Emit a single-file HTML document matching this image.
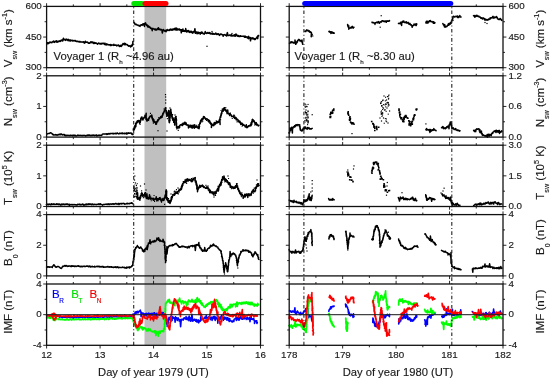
<!DOCTYPE html>
<html><head><meta charset="utf-8"><style>
html,body{margin:0;padding:0;background:#fff;}

svg{display:block;filter:blur(0.3px);}
</style></head><body>
<svg width="550" height="379" viewBox="0 0 550 379">
<rect width="550" height="379" fill="#fff"/>
<rect x="144.5" y="6.4" width="21.7" height="338.9" fill="#c0c0c0"/>
<polyline points="46.8,43.2 47.2,42.7 47.4,43.0 47.8,43.9 48.3,42.9 48.6,43.4 48.9,43.1 49.4,42.6 49.6,42.1 50.2,41.9 50.6,42.5 50.9,42.5 51.5,42.4 51.8,42.7 52.0,42.1 52.4,42.0 53.3,41.5 53.7,41.1 53.9,42.2 54.5,42.2 54.8,42.4 55.1,41.5 55.6,41.3 56.2,41.3 56.3,40.8 56.6,41.1 56.9,42.3 57.6,41.3 57.8,42.0 58.4,41.7 58.8,41.0 59.2,41.3 59.8,40.8 59.8,41.6 60.7,41.3 61.0,40.3 61.6,40.2 61.7,40.4 62.1,40.1 62.4,40.1 62.7,41.0 63.4,38.3 63.8,39.8 64.2,39.6 64.7,39.8 64.9,39.3 65.5,40.4 66.2,39.2 66.1,40.1 66.7,39.3 66.9,39.5 67.4,39.4 67.8,40.5 68.3,39.4 68.8,40.2 69.0,40.8 69.5,40.2 70.0,39.9 70.3,41.1 70.6,40.4 71.0,40.2 71.4,40.5 71.7,40.5 72.3,41.0 72.4,40.3 73.3,40.9 73.5,40.6 74.1,40.7 74.5,40.6 74.9,41.0 75.2,41.2 75.5,40.5 76.1,41.1 76.3,41.4 77.0,41.5 77.2,41.3 77.8,41.3 78.0,41.7 78.4,41.7 79.1,41.3 79.2,42.0 79.8,41.7 80.1,41.5 80.3,42.1 81.1,42.0 81.2,42.1 81.7,42.1 82.3,42.2 82.5,42.1 83.2,41.8 83.5,41.7 83.8,42.3 84.3,43.2 84.4,43.1 85.3,41.2 85.5,42.5 85.7,42.2 86.2,42.0 86.9,42.2 87.2,42.4 87.5,42.1 88.0,42.5 88.3,43.0 88.7,43.3 89.1,43.0 89.7,43.3 90.2,42.7 90.3,42.3 91.1,41.7 91.2,42.4 92.0,42.7 92.2,42.0 92.6,42.6 92.9,42.0 93.6,43.3 93.6,43.6 94.2,43.0 94.4,42.4 95.0,43.4 95.6,43.0 95.9,42.7 96.2,43.2 96.7,43.4 97.1,43.4 97.4,44.2 98.0,43.8 98.4,43.2 98.9,43.0 99.0,43.1 99.6,43.6 100.0,44.0 100.2,43.5 100.8,43.9 101.3,43.3 101.4,43.8 101.8,44.0 102.5,43.4 102.8,43.2 103.3,43.3 103.7,43.6 104.0,43.3 104.5,44.5 105.0,43.3 105.2,44.5 105.5,44.8 106.3,44.2 106.7,44.9 106.7,43.8 107.1,44.5 107.6,44.3 108.3,44.9 108.6,44.8 109.0,44.6 109.5,44.8 109.8,44.8 110.3,45.5 110.9,45.4 110.8,44.4 111.4,45.4 111.9,44.9 112.1,45.0 112.7,44.9 112.8,45.0 113.6,45.4 113.9,44.3 114.5,45.2 115.0,45.2 115.1,45.2 115.7,45.0 116.2,45.0 116.5,45.8 116.8,45.9 117.2,45.5 117.5,45.2 118.0,45.3 118.5,45.0 118.9,46.0 119.5,46.5 119.7,46.4 120.3,45.4 120.7,46.3 121.2,46.4 121.5,46.2 121.3,45.5 122.1,45.4 122.3,44.4 122.4,44.5 122.7,44.5 123.0,43.6 123.3,43.9 123.8,43.5 124.3,44.8 124.4,43.4 124.8,43.3 125.0,44.5 125.5,43.7 125.8,44.8 125.9,44.5 126.7,44.5 127.3,45.0 127.1,44.6 127.7,45.5 128.3,45.5 128.8,45.8 128.7,46.3 129.7,45.8 129.9,45.8 130.1,46.1 130.7,47.0 131.1,46.0 131.3,45.3 131.9,46.1 132.4,45.0 132.6,45.2 132.4,45.1 132.5,44.1 132.9,43.8 133.0,44.2 132.8,43.2 132.9,43.0 132.8,42.3 132.9,41.5 133.2,41.4" fill="none" stroke="#000" stroke-width="1.5" stroke-linejoin="round" stroke-linecap="round"/>
<polyline points="134.1,22.4 133.8,22.6 134.2,22.7 134.4,23.2 134.8,23.3 135.1,24.5 135.6,24.5 135.8,24.4 136.3,24.3 136.8,24.9 137.0,25.0 137.6,24.9 137.9,25.4 138.6,25.4 138.9,25.3 139.0,25.8 139.6,26.2 140.0,26.4 140.3,25.6 140.3,25.3 140.9,24.9 141.5,25.1 141.8,24.8 142.1,25.4 142.4,25.0 142.7,23.9 143.1,24.3 143.6,23.8 144.0,25.4 144.4,23.6 144.5,26.5 144.7,23.7 145.6,22.9 145.8,24.4 146.1,24.1 146.1,24.6 146.8,25.5 147.1,25.6 147.0,24.8 147.5,26.2 147.6,25.3 148.0,27.2 148.5,26.6 148.6,26.1 149.2,26.7 149.4,26.9 149.6,27.3 150.0,27.1 150.4,28.3 150.9,28.4 151.3,28.3 151.7,28.3 152.2,30.7 152.5,28.5 152.9,28.4 153.3,28.7 153.9,28.9 154.2,29.4 154.5,29.0 155.1,29.9 155.4,28.9 155.8,30.0 156.4,29.3 156.7,29.9 156.9,29.8 157.7,28.4 158.2,29.2 158.5,27.8 158.7,29.6 159.1,29.6 159.8,29.1 160.2,29.9 160.3,29.9 161.0,29.3 161.1,29.9 161.9,30.2 161.9,29.8 162.3,33.0 163.0,30.3 163.1,30.4 163.4,29.4 164.1,30.7 164.3,30.8 164.9,31.2 165.4,30.4 166.0,31.8 166.2,30.3 166.6,30.7 167.2,29.5 167.3,30.4 168.0,30.3 168.4,30.3 169.1,30.5 169.2,29.7 169.4,29.5 169.9,30.3 170.4,29.7 170.6,29.1 171.2,29.3 171.7,30.2 172.1,30.3 172.5,29.1 172.9,29.8 173.3,29.3 173.7,29.6 173.7,29.3 174.2,28.6 175.0,28.4 175.1,30.0 175.9,28.0 176.3,29.1 176.5,30.0 176.8,28.3 177.1,28.9 177.6,30.0 177.9,29.5 178.4,29.5 179.1,28.8 179.3,29.5 179.4,30.1 180.1,29.8 180.6,29.7 180.8,29.5 181.3,32.8 181.7,29.8 182.3,31.3 182.5,30.4 182.9,29.0 183.3,31.2 183.7,30.6 183.8,31.2 184.6,31.1 185.0,30.4 184.9,31.5 185.6,30.9 185.7,28.6 186.3,31.5 186.7,32.0 187.3,30.7 187.8,31.6 188.0,30.9 188.5,30.6 188.8,31.8 189.2,31.1 189.3,32.3 190.0,32.4 190.4,31.4 190.8,32.0 191.4,31.4 191.6,32.6 192.0,32.2 192.4,32.1 192.8,33.1 193.4,31.6 194.2,31.9 194.3,32.0 194.5,31.2 194.9,28.7 195.4,33.3 195.8,32.7 196.3,32.1 196.9,32.1 197.0,33.7 197.4,32.2 198.2,32.7 198.4,33.6 198.8,32.3 199.2,32.9 199.6,32.7 200.0,32.8 200.2,34.2 201.0,32.7 201.3,31.9 201.7,33.2 201.9,32.9 202.5,32.3 202.8,33.0 203.2,33.8 203.7,33.8 204.3,34.2 204.6,32.9 205.1,33.1 205.2,31.5 205.7,32.9 206.1,33.0 206.6,32.9 206.7,33.5 207.7,32.4 208.0,32.5 208.1,33.2 208.7,33.3 209.0,33.0 209.9,33.5 209.8,32.4 210.2,33.7 211.1,33.9 211.4,33.9 211.4,33.5 212.2,33.3 212.4,33.0 212.8,34.2 213.3,34.2 213.6,33.6 214.3,34.2 214.8,34.0 214.8,33.9 215.6,33.7 215.8,33.0 216.1,33.7 216.6,34.4 217.0,34.4 217.5,33.8 217.8,34.3 218.4,33.7 218.6,33.7 219.4,35.4 219.7,34.8 219.8,34.5 220.5,34.5 220.6,34.1 221.2,34.0 222.0,34.7 222.0,34.8 222.2,34.6 222.8,34.9 223.2,36.2 223.8,34.8 224.1,34.7 224.8,34.6 225.0,34.5 225.4,35.2 225.9,35.3 226.5,36.0 226.7,35.8 227.1,33.4 227.4,32.6 227.9,35.4 228.3,35.5 228.6,35.4 229.1,35.4 229.5,34.9 229.9,35.0 230.3,35.6 230.5,35.8 231.3,34.6 231.5,35.9 231.7,36.0 232.5,36.0 232.8,35.3 233.3,35.3 233.6,35.8 234.0,35.9 234.4,34.8 235.1,36.3 235.7,35.3 235.7,34.2 236.1,34.1 236.5,35.0 237.0,35.9 237.6,35.2 237.9,36.3 238.4,35.6 238.8,36.5 239.2,36.1 239.7,36.6 240.1,36.5 240.5,35.7 240.9,36.3 241.1,36.1 241.8,36.3 242.0,36.2 242.8,36.3 243.0,36.3 243.3,36.3 243.9,36.1 244.3,36.4 244.4,37.2 245.0,36.6 245.2,36.1 245.6,37.2 246.3,36.7 246.7,37.1 247.4,37.9 247.5,36.9 247.9,37.4 248.6,36.3 248.5,38.7 249.0,37.7 249.6,37.5 250.1,38.0 250.5,40.8 250.9,37.6 251.1,37.9 251.5,38.7 252.0,38.5 252.7,37.9 252.6,38.8 253.2,38.1 253.6,39.0 253.9,38.8 254.3,39.5 254.6,38.6 255.0,39.5 255.5,39.3 255.5,38.8 255.8,38.4 256.4,38.1 256.7,37.6 256.9,36.9 257.7,38.6 258.0,35.6 257.8,36.0 258.1,35.8 258.6,35.9 258.6,35.6" fill="none" stroke="#000" stroke-width="1.5" stroke-linejoin="round" stroke-linecap="round"/>
<rect x="206.4" y="45.7" width="1.2" height="1.2" fill="#000"/>
<rect x="187.4" y="29.9" width="1.2" height="1.2" fill="#000"/>
<rect x="211.4" y="30.9" width="1.2" height="1.2" fill="#000"/>
<rect x="231.4" y="32.9" width="1.2" height="1.2" fill="#000"/>
<polyline points="46.8,133.6 47.0,133.9 47.5,133.9 48.1,133.6 48.8,133.6 49.2,133.6 49.3,133.4 49.7,133.3 50.2,132.8 50.5,132.8 50.9,132.9 51.3,133.0 51.9,133.5 52.1,134.0 52.3,133.9 52.5,134.0 53.0,134.8 53.3,134.6 53.8,135.1 54.2,135.0 54.5,135.0 55.2,134.5 55.4,134.8 55.9,135.1 56.0,135.0 56.6,134.8 57.1,135.2 57.3,135.0 57.9,134.8 58.1,134.5 58.8,134.9 59.0,134.7 59.4,134.3 59.8,134.2 60.3,134.5 60.4,134.6 61.2,133.9 61.3,134.6 61.6,134.5 62.2,134.6 62.5,134.9 63.1,134.5 63.6,134.8 63.7,134.8 64.4,134.5 64.7,135.6 64.7,135.3 65.3,135.1 65.9,135.9 66.3,135.3 66.7,135.5 66.9,135.2 67.5,135.6 68.2,135.3 68.1,135.5 68.7,135.6 69.3,135.4 69.4,135.7 69.9,135.6 70.3,135.3 70.6,135.3 70.8,135.6 71.3,135.3 71.7,135.6 72.4,135.9 72.6,135.2 73.0,135.3 73.6,135.6 74.1,135.9 74.1,135.1 74.6,135.4 75.1,135.4 75.3,135.3 75.9,136.0 76.1,135.9 76.9,135.7 76.9,135.7 77.3,135.5 77.8,135.1 78.2,135.5 78.7,135.4 79.1,135.2 79.5,135.6 79.7,135.5 80.1,135.3 80.3,135.6 80.8,135.4 81.3,135.6 81.9,135.4 82.1,135.8 82.3,135.4 82.9,135.4 83.4,135.6 83.6,135.4 84.0,135.3 84.4,135.4 85.2,135.5 85.6,136.0 85.9,135.7 86.2,135.8 86.3,135.5 87.2,135.3 87.4,135.0 87.7,135.4 88.2,135.5 88.6,135.1 89.2,135.0 89.5,135.4 90.1,135.2 90.3,135.7 90.7,135.5 91.0,135.2 91.5,135.3 92.0,135.8 92.3,135.5 92.5,135.3 92.8,135.0 93.4,135.1 93.9,135.4 94.3,135.7 94.5,135.4 95.1,135.3 95.2,135.2 96.0,135.3 96.3,135.7 96.6,134.9 97.2,135.6 97.3,135.9 97.6,135.5 98.1,135.4 98.6,135.6 99.0,135.0 99.6,135.5 99.7,135.2 100.4,135.3 100.6,135.3 100.9,135.5 101.2,135.4 101.7,135.4 102.1,134.5 102.5,134.2 102.8,134.0 103.4,134.1 103.8,134.0 104.2,133.9 104.4,134.0 105.0,134.1 105.4,133.9 105.6,134.1 106.3,133.8 106.7,133.9 106.8,134.5 107.3,134.0 107.9,134.2 108.4,133.5 108.6,133.8 109.0,133.8 109.3,133.5 109.6,134.0 110.3,133.5 110.6,133.4 110.9,133.7 111.3,133.5 111.8,133.5 112.2,133.6 112.7,133.7 113.0,133.3 113.4,133.9 113.8,133.5 114.3,133.4 114.6,133.5 115.2,133.7 115.3,133.2 115.6,133.4 116.5,133.7 116.8,133.7 116.9,133.0 117.5,133.1 117.8,133.4 118.3,133.6 118.8,133.9 118.8,133.7 119.4,133.7 119.8,133.0 120.2,133.4 120.4,133.6 121.2,133.6 121.6,133.1 121.7,133.3 122.2,133.7 122.5,133.0 122.9,133.6 123.4,133.4 123.7,133.5 124.3,133.3 124.2,133.8 125.1,133.6 125.6,133.3 125.9,133.2 126.4,134.0 126.6,132.9 127.1,133.4 127.5,133.8 127.5,133.8 128.1,133.0 128.8,133.3 128.9,132.8 129.2,133.3 129.7,133.2 130.5,133.1 130.6,133.1 131.1,133.0 131.5,133.8 131.9,133.4 132.1,134.4 132.5,134.2 133.0,134.5" fill="none" stroke="#000" stroke-width="1.5" stroke-linejoin="round" stroke-linecap="round"/>
<polyline points="133.5,130.7 133.3,128.9 133.5,129.6 133.7,130.0 134.0,129.0 134.3,129.5 134.2,129.6 134.3,128.2 134.8,128.4 134.6,127.4 134.8,127.8 135.0,127.2 135.0,125.9 135.5,125.1 135.6,126.9 135.8,125.1 135.6,123.6 136.1,123.8 135.9,123.3 136.5,122.0 136.5,123.6 136.7,122.9 136.9,122.4 137.4,120.8 138.0,121.9 138.1,121.4 138.5,120.5 138.9,121.5 139.3,120.9 139.3,122.3 139.8,122.1 139.6,123.2 140.0,122.9 140.1,122.5 139.9,122.4 140.1,122.2 140.2,121.2 140.5,121.3 140.6,120.3 140.6,119.3 141.1,120.0 141.0,119.4 140.8,119.8 141.1,118.4 141.3,117.3 141.3,117.9 141.7,117.5 141.5,117.6 142.0,117.0 141.9,118.3 142.2,118.5 142.5,118.3 142.3,118.2 142.8,119.7 143.4,118.3 143.6,117.9 144.2,117.5 144.2,117.3 144.5,117.0 144.9,117.3 145.0,115.3 145.3,116.0 145.6,115.6 145.5,116.1 145.8,117.3 146.2,113.2 146.0,119.4 146.0,117.5 146.0,119.0 146.4,118.9 146.6,118.7 146.6,119.7 146.9,119.9 146.8,120.9 147.1,119.8 147.2,121.0 147.3,119.8 147.8,119.8 148.1,120.0 148.0,119.5 148.4,118.6 148.5,120.3 148.8,118.6 149.1,118.3 149.5,117.1 149.4,117.5 150.2,116.6 150.2,115.9 150.8,116.4 150.9,116.2 151.3,116.3 151.6,117.0 151.7,115.0 151.9,115.6 152.0,117.0 152.0,116.7 152.0,117.5 152.2,117.2 152.4,118.4 152.4,118.6 152.6,119.8 152.9,119.4 153.0,118.9 153.2,120.2 153.1,120.8 153.5,120.5 153.4,122.0 153.9,121.2 154.2,122.1 154.6,121.4 155.1,122.5 155.4,122.8 155.7,123.8 155.9,123.7 155.9,124.2 155.7,124.1 156.5,124.0 156.5,122.2 156.6,121.8 157.0,122.0 157.3,121.5 157.2,121.3 157.5,121.4 157.5,120.3 157.7,121.6 157.9,120.1 158.3,119.6 158.6,119.9 159.0,119.0 159.2,118.2 159.6,118.6 159.7,118.4 160.0,118.5 160.4,117.8 160.3,117.8 160.8,116.4 161.2,117.7 161.3,116.7 161.7,116.3 162.0,117.3 162.2,115.9 162.0,116.5 162.6,115.4 162.6,114.1 162.9,114.2 163.0,114.3 163.1,113.1 163.3,113.7 164.0,111.9 163.8,112.3 164.1,111.5 164.1,111.2 164.3,110.7 164.5,110.6 164.7,111.0 164.7,110.8 165.0,109.6 165.0,109.1 165.3,108.0 165.5,107.8 165.3,108.0 165.6,108.3 165.7,109.9 165.6,109.7 165.8,109.9 166.0,110.7 166.3,110.8 166.0,110.6 166.3,110.7 165.9,110.7 166.2,110.7 166.4,111.6 166.2,112.4 166.7,113.0 166.3,112.7 166.7,113.8 166.6,114.1 166.6,114.5 167.1,114.8 166.7,116.3 166.9,116.4 167.3,115.8 167.3,115.3 167.3,115.0 167.6,114.9 168.0,113.5 167.8,113.6 167.9,112.8 168.3,113.4 168.4,111.5 168.6,110.6 168.7,113.7 168.6,113.6 168.7,114.2 168.8,112.9 168.7,114.6 168.7,114.6 169.0,116.8 168.5,114.6 169.1,116.6 168.9,115.9 169.1,115.1 169.2,116.5 169.1,117.1 169.2,117.1 169.1,118.2 169.3,119.6 169.3,115.1 169.0,118.9 169.2,120.2 169.2,120.4 169.2,120.5 169.5,120.6 169.3,120.5 169.4,122.7 169.5,122.0 169.3,120.4 169.0,121.2 169.4,119.2 169.6,119.7 169.9,120.4 169.7,119.1 169.7,118.1 170.0,118.2 169.9,118.4 169.9,118.1 169.7,118.5 170.0,116.8 169.9,116.3 170.2,115.9 169.8,115.7 170.2,115.6 170.4,115.5 170.4,115.8 170.2,114.4 170.2,115.2 170.3,112.9 170.2,112.1 170.2,113.9 170.2,112.4 170.2,111.5 170.1,110.9 170.5,111.1 170.5,110.5 170.6,110.4 170.4,110.9 170.8,109.3 170.6,111.1 170.5,110.1 170.9,110.9 170.9,112.4 170.9,113.1 171.1,111.9 171.3,113.3 171.5,114.3 171.4,114.5 171.7,114.6 171.6,116.1 171.7,114.8 171.4,115.4 172.0,114.7 172.0,116.8 172.0,116.5 172.2,118.4 172.3,117.5 172.4,117.7 172.4,118.2 172.9,117.8 172.6,119.9 172.9,119.8 173.1,120.0 173.4,120.6 173.6,119.1 173.7,121.8 174.0,121.7 174.3,121.8 174.0,122.3 174.3,120.0 174.5,121.2 174.7,125.1 174.5,120.7 175.0,119.0 175.2,119.1 175.0,117.7 175.3,119.2 175.5,117.9 175.6,117.6 175.9,117.1 176.0,116.6 175.8,116.6 176.0,117.4 175.7,119.1 175.9,118.9 176.2,118.8 176.0,120.2 176.4,119.7 176.3,118.9 176.5,120.2 176.2,121.3 176.2,121.9 176.1,122.3 176.4,123.0 176.3,122.4 176.4,122.0 176.2,124.3 176.4,124.5 176.5,122.9 176.5,125.2 176.4,125.6 176.5,125.5 176.5,125.2 176.6,126.1 176.6,126.1 176.5,127.6 176.9,128.1 177.2,127.9 177.8,126.9 178.0,127.4 178.3,126.8 178.5,127.9 178.9,126.6 179.0,127.1 179.2,126.5 179.4,127.8 179.8,125.7 179.6,125.6 180.6,124.7 181.0,124.9 181.4,124.7 181.5,125.0 182.0,124.0 182.3,125.6 182.6,124.9 183.2,123.0 183.6,124.3 183.7,124.4 184.4,124.0 184.8,124.0 184.8,122.5 185.6,123.1 185.9,124.1 185.6,124.5 186.1,123.5 186.4,124.9 186.7,124.3 187.0,125.0 187.3,124.9 187.8,125.3 188.2,125.0 188.5,128.0 189.1,126.1 189.3,126.1 189.7,126.7 189.8,126.9 190.6,125.7 191.0,126.2 191.3,127.7 192.0,125.3 192.1,127.0 192.4,127.4 193.1,125.8 193.4,127.5 193.6,127.3 194.2,126.4 194.7,124.7 194.7,127.4 195.4,127.1 195.9,127.5 196.2,126.6 196.6,126.7 196.9,126.3 197.7,127.9 198.1,127.3 198.2,128.2 198.7,128.0 198.6,126.9 199.0,128.7 199.0,124.6 199.2,126.6 199.3,127.5 199.1,125.5 199.4,124.9 199.6,124.5 199.5,124.6 199.8,123.3 199.9,123.5 200.0,122.7 200.4,121.7 200.2,122.2 200.2,123.3 200.7,120.2 201.1,121.4 200.9,121.6 201.0,120.5 201.6,120.5 201.7,118.9 202.0,119.1 202.2,118.6 202.2,119.9 202.8,119.3 203.0,118.2 203.4,118.2 203.5,116.6 203.9,117.5 204.0,117.6 204.3,116.7 205.0,118.4 205.2,118.1 205.6,119.3 206.0,118.6 206.5,119.0 206.9,118.8 207.1,118.8 207.5,119.7 207.9,119.5 208.1,121.1 208.3,119.7 208.8,121.9 208.6,120.8 209.1,122.0 209.6,120.6 209.7,121.1 210.0,121.6 210.1,122.5 210.5,122.7 210.7,124.1 211.1,123.2 211.6,123.8 211.4,127.4 211.7,125.3 212.1,125.2 212.3,125.3 212.5,125.0 213.0,125.4 213.2,124.2 213.6,125.3 213.8,125.7 214.4,122.6 214.7,123.5 215.0,124.6 215.3,123.2 215.9,122.5 216.0,123.2 216.1,123.3 216.6,122.0 216.9,122.3 217.1,122.0 217.7,122.9 217.8,121.4 218.1,121.5 218.8,122.1 219.0,121.6 219.4,119.7 219.8,119.2 219.7,120.1 219.8,119.3 220.1,124.4 219.8,119.1 220.1,117.8 220.1,117.4 220.5,116.8 220.2,116.8 220.4,117.2 220.8,116.4 220.7,116.2 221.0,115.0 221.4,114.2 221.1,115.1 221.2,115.2 221.3,113.4 221.5,113.8 221.7,111.8 221.7,112.8 221.8,112.3 221.7,111.9 222.4,111.4 222.5,110.0 222.7,110.1 223.0,111.3 223.3,109.8 223.3,108.8 223.5,109.5 223.6,110.2 224.1,109.0 224.2,107.7 224.6,108.0 224.5,109.0 224.8,109.9 224.9,109.7 225.2,109.4 225.4,109.5 225.8,111.0 226.1,110.9 226.2,111.1 226.4,110.3 227.0,112.0 227.1,113.7 227.3,112.3 227.7,110.1 228.0,113.3 228.3,113.5 228.6,113.5 228.9,113.5 229.1,113.5 229.7,115.5 230.2,114.6 230.2,113.6 230.5,114.6 230.9,114.6 231.4,115.5 231.7,116.2 232.2,116.3 232.5,116.4 232.9,116.7 233.4,116.1 233.5,116.9 234.0,115.1 234.0,117.5 234.4,117.8 234.7,118.4 235.0,118.5 235.5,117.3 236.0,117.9 236.3,119.9 236.6,119.5 236.8,119.6 237.4,119.8 237.6,119.4 237.9,119.6 238.0,120.1 238.7,120.8 238.9,121.8 239.3,122.4 239.4,121.6 239.9,121.2 240.2,122.5 240.4,122.1 240.5,123.1 240.8,124.4 241.3,123.1 241.6,123.2 241.8,123.9 242.1,124.2 242.5,124.4 242.6,125.2 242.9,125.3 243.1,124.6 243.9,124.6 244.1,125.1 244.4,125.8 245.4,125.9 245.3,126.9 245.9,126.2 246.3,124.8 246.4,126.1 247.0,127.7 247.5,127.4 247.7,126.7 248.1,126.5 248.5,126.5 249.0,126.4 249.3,125.4 249.7,125.7 250.0,125.4 250.3,125.1 250.8,125.9 250.8,124.0 251.3,123.7 251.2,124.7 251.7,124.5 251.6,123.0 251.9,123.1 252.0,122.8 251.8,123.1 252.2,121.0 251.8,121.3 252.1,121.0 252.2,121.0 252.5,120.3 252.5,120.9 252.5,119.3 253.1,119.8 253.2,120.5 253.4,120.3 253.5,120.8 253.8,121.4 253.8,121.7 254.4,121.1 254.2,121.7 254.4,121.8 254.8,122.9 254.7,122.9 254.9,123.2 255.5,124.5 255.9,123.1 256.1,122.6 256.6,125.0 257.1,124.7 257.4,124.4 257.8,125.3 258.4,125.4 258.3,125.8 258.9,125.3" fill="none" stroke="#000" stroke-width="1.5" stroke-linejoin="round" stroke-linecap="round"/>
<path d="M133.4 127.9h1.1v1.1h-1.1zM133.9 125.8h1.1v1.1h-1.1zM134.2 125.5h1.1v1.1h-1.1zM134.6 125.3h1.1v1.1h-1.1zM135.3 125.7h1.1v1.1h-1.1zM135.5 124.2h1.1v1.1h-1.1zM136.3 122.1h1.1v1.1h-1.1zM136.7 122.0h1.1v1.1h-1.1zM137.0 121.2h1.1v1.1h-1.1zM138.3 120.5h1.1v1.1h-1.1zM139.1 120.5h1.1v1.1h-1.1zM139.3 120.6h1.1v1.1h-1.1zM139.5 123.8h1.1v1.1h-1.1zM139.7 121.9h1.1v1.1h-1.1zM140.1 118.0h1.1v1.1h-1.1zM142.5 119.3h1.1v1.1h-1.1zM143.8 117.4h1.1v1.1h-1.1zM144.3 117.1h1.1v1.1h-1.1zM145.5 117.1h1.1v1.1h-1.1zM146.0 118.5h1.1v1.1h-1.1zM146.2 119.5h1.1v1.1h-1.1zM147.1 119.9h1.1v1.1h-1.1zM148.7 117.4h1.1v1.1h-1.1zM149.9 112.8h1.1v1.1h-1.1zM150.9 115.3h1.1v1.1h-1.1zM151.4 116.7h1.1v1.1h-1.1zM151.5 117.7h1.1v1.1h-1.1zM152.0 117.4h1.1v1.1h-1.1zM152.1 118.8h1.1v1.1h-1.1zM152.7 118.4h1.1v1.1h-1.1zM152.8 122.7h1.1v1.1h-1.1zM153.0 119.3h1.1v1.1h-1.1zM153.7 121.6h1.1v1.1h-1.1zM153.8 119.5h1.1v1.1h-1.1zM154.7 121.3h1.1v1.1h-1.1zM155.5 123.7h1.1v1.1h-1.1zM156.6 121.1h1.1v1.1h-1.1zM157.5 119.2h1.1v1.1h-1.1zM158.3 117.0h1.1v1.1h-1.1zM160.4 116.4h1.1v1.1h-1.1zM161.5 115.2h1.1v1.1h-1.1zM161.9 115.1h1.1v1.1h-1.1zM162.2 114.3h1.1v1.1h-1.1zM162.6 112.7h1.1v1.1h-1.1zM163.0 112.0h1.1v1.1h-1.1zM163.0 111.9h1.1v1.1h-1.1zM163.4 108.4h1.1v1.1h-1.1zM163.9 111.0h1.1v1.1h-1.1zM164.7 109.3h1.1v1.1h-1.1zM165.3 110.0h1.1v1.1h-1.1zM165.6 107.5h1.1v1.1h-1.1zM165.7 112.7h1.1v1.1h-1.1zM165.8 111.3h1.1v1.1h-1.1zM165.9 111.9h1.1v1.1h-1.1zM166.0 112.0h1.1v1.1h-1.1zM166.8 118.1h1.1v1.1h-1.1zM167.5 111.7h1.1v1.1h-1.1zM167.7 112.2h1.1v1.1h-1.1zM168.1 113.0h1.1v1.1h-1.1zM168.3 112.2h1.1v1.1h-1.1zM168.1 115.1h1.1v1.1h-1.1zM168.3 117.2h1.1v1.1h-1.1zM168.4 116.4h1.1v1.1h-1.1zM168.7 116.4h1.1v1.1h-1.1zM168.5 117.1h1.1v1.1h-1.1zM169.0 118.8h1.1v1.1h-1.1zM168.5 120.0h1.1v1.1h-1.1zM169.1 120.0h1.1v1.1h-1.1zM168.8 122.0h1.1v1.1h-1.1zM169.2 120.7h1.1v1.1h-1.1zM169.5 114.3h1.1v1.1h-1.1zM169.5 116.9h1.1v1.1h-1.1zM169.4 115.4h1.1v1.1h-1.1zM169.7 114.8h1.1v1.1h-1.1zM169.7 114.7h1.1v1.1h-1.1zM169.6 113.2h1.1v1.1h-1.1zM169.5 112.6h1.1v1.1h-1.1zM169.8 110.8h1.1v1.1h-1.1zM170.1 109.8h1.1v1.1h-1.1zM170.0 111.5h1.1v1.1h-1.1zM170.4 112.2h1.1v1.1h-1.1zM170.5 113.8h1.1v1.1h-1.1zM170.8 114.3h1.1v1.1h-1.1zM171.5 116.5h1.1v1.1h-1.1zM171.7 114.2h1.1v1.1h-1.1zM171.5 115.6h1.1v1.1h-1.1zM172.0 117.7h1.1v1.1h-1.1zM172.1 113.9h1.1v1.1h-1.1zM172.5 117.8h1.1v1.1h-1.1zM172.8 120.0h1.1v1.1h-1.1zM173.0 122.0h1.1v1.1h-1.1zM173.7 121.2h1.1v1.1h-1.1zM174.3 120.0h1.1v1.1h-1.1zM175.3 115.9h1.1v1.1h-1.1zM175.6 119.0h1.1v1.1h-1.1zM175.6 117.8h1.1v1.1h-1.1zM175.7 119.0h1.1v1.1h-1.1zM175.5 120.4h1.1v1.1h-1.1zM175.8 121.4h1.1v1.1h-1.1zM175.7 122.5h1.1v1.1h-1.1zM175.7 122.0h1.1v1.1h-1.1zM175.8 121.8h1.1v1.1h-1.1zM176.2 128.4h1.1v1.1h-1.1zM177.1 127.5h1.1v1.1h-1.1zM177.7 129.8h1.1v1.1h-1.1zM178.4 126.0h1.1v1.1h-1.1zM179.0 127.0h1.1v1.1h-1.1zM182.1 124.2h1.1v1.1h-1.1zM184.1 122.5h1.1v1.1h-1.1zM184.4 121.6h1.1v1.1h-1.1zM184.8 122.6h1.1v1.1h-1.1zM185.8 122.6h1.1v1.1h-1.1zM188.3 124.7h1.1v1.1h-1.1zM188.9 124.7h1.1v1.1h-1.1zM189.3 126.0h1.1v1.1h-1.1zM189.8 124.6h1.1v1.1h-1.1zM190.4 126.6h1.1v1.1h-1.1zM191.4 125.4h1.1v1.1h-1.1zM191.8 127.7h1.1v1.1h-1.1zM192.9 124.6h1.1v1.1h-1.1zM193.2 126.4h1.1v1.1h-1.1zM193.8 127.8h1.1v1.1h-1.1zM194.7 125.4h1.1v1.1h-1.1zM195.4 125.6h1.1v1.1h-1.1zM196.2 124.7h1.1v1.1h-1.1zM197.2 126.4h1.1v1.1h-1.1zM198.1 126.2h1.1v1.1h-1.1zM198.4 127.7h1.1v1.1h-1.1zM198.3 125.8h1.1v1.1h-1.1zM198.9 125.8h1.1v1.1h-1.1zM199.2 125.7h1.1v1.1h-1.1zM199.3 123.1h1.1v1.1h-1.1zM199.8 122.8h1.1v1.1h-1.1zM201.4 121.4h1.1v1.1h-1.1zM202.2 120.6h1.1v1.1h-1.1zM202.2 119.0h1.1v1.1h-1.1zM202.7 117.8h1.1v1.1h-1.1zM205.9 119.8h1.1v1.1h-1.1zM208.0 120.9h1.1v1.1h-1.1zM208.6 119.7h1.1v1.1h-1.1zM209.4 123.0h1.1v1.1h-1.1zM209.8 122.4h1.1v1.1h-1.1zM209.7 122.7h1.1v1.1h-1.1zM211.0 124.8h1.1v1.1h-1.1zM211.2 125.0h1.1v1.1h-1.1zM211.7 125.0h1.1v1.1h-1.1zM213.7 122.4h1.1v1.1h-1.1zM214.0 123.7h1.1v1.1h-1.1zM214.8 122.5h1.1v1.1h-1.1zM215.2 122.2h1.1v1.1h-1.1zM215.3 123.2h1.1v1.1h-1.1zM215.7 120.3h1.1v1.1h-1.1zM216.0 121.2h1.1v1.1h-1.1zM218.9 120.9h1.1v1.1h-1.1zM219.3 119.0h1.1v1.1h-1.1zM220.1 119.2h1.1v1.1h-1.1zM220.2 116.8h1.1v1.1h-1.1zM220.6 114.5h1.1v1.1h-1.1zM220.5 114.6h1.1v1.1h-1.1zM220.5 109.9h1.1v1.1h-1.1zM220.8 113.3h1.1v1.1h-1.1zM221.0 112.1h1.1v1.1h-1.1zM221.3 113.1h1.1v1.1h-1.1zM221.7 108.6h1.1v1.1h-1.1zM222.1 108.6h1.1v1.1h-1.1zM222.5 110.1h1.1v1.1h-1.1zM223.2 108.4h1.1v1.1h-1.1zM223.8 107.3h1.1v1.1h-1.1zM224.7 107.2h1.1v1.1h-1.1zM225.3 107.2h1.1v1.1h-1.1zM226.5 112.0h1.1v1.1h-1.1zM228.0 113.5h1.1v1.1h-1.1zM229.1 113.0h1.1v1.1h-1.1zM229.7 112.6h1.1v1.1h-1.1zM230.8 116.2h1.1v1.1h-1.1zM231.7 118.0h1.1v1.1h-1.1zM233.1 116.4h1.1v1.1h-1.1zM234.1 115.5h1.1v1.1h-1.1zM235.7 117.4h1.1v1.1h-1.1zM236.2 118.0h1.1v1.1h-1.1zM236.5 121.3h1.1v1.1h-1.1zM237.4 120.6h1.1v1.1h-1.1zM238.5 120.8h1.1v1.1h-1.1zM240.2 123.5h1.1v1.1h-1.1zM240.9 123.1h1.1v1.1h-1.1zM241.3 123.8h1.1v1.1h-1.1zM241.6 125.7h1.1v1.1h-1.1zM241.8 122.8h1.1v1.1h-1.1zM244.7 125.9h1.1v1.1h-1.1zM245.8 126.8h1.1v1.1h-1.1zM247.8 125.1h1.1v1.1h-1.1zM250.4 124.8h1.1v1.1h-1.1zM250.5 122.1h1.1v1.1h-1.1zM251.4 121.6h1.1v1.1h-1.1zM251.4 120.8h1.1v1.1h-1.1zM251.7 121.0h1.1v1.1h-1.1zM252.1 120.4h1.1v1.1h-1.1zM251.7 119.1h1.1v1.1h-1.1zM254.1 124.4h1.1v1.1h-1.1zM255.5 122.0h1.1v1.1h-1.1zM255.9 122.8h1.1v1.1h-1.1zM258.0 125.2h1.1v1.1h-1.1z" fill="#000"/>
<rect x="164.9" y="94.0" width="1.2" height="1.2" fill="#000"/>
<rect x="165.0" y="96.4" width="1.2" height="1.2" fill="#000"/>
<rect x="165.1" y="99.4" width="1.2" height="1.2" fill="#000"/>
<rect x="165.0" y="102.4" width="1.2" height="1.2" fill="#000"/>
<rect x="157.4" y="130.1" width="1.2" height="1.2" fill="#000"/>
<rect x="166.4" y="130.4" width="1.2" height="1.2" fill="#000"/>
<rect x="169.4" y="107.4" width="1.2" height="1.2" fill="#000"/>
<rect x="170.4" y="112.4" width="1.2" height="1.2" fill="#000"/>
<rect x="172.4" y="118.4" width="1.2" height="1.2" fill="#000"/>
<rect x="174.4" y="114.4" width="1.2" height="1.2" fill="#000"/>
<polyline points="46.3,204.6 47.1,204.3 47.2,204.1 48.0,204.5 48.4,204.8 48.5,204.3 49.0,204.1 49.6,204.3 49.9,204.0 50.3,204.8 50.5,204.5 51.1,204.7 51.5,203.7 51.8,204.1 52.1,204.5 52.5,204.3 53.0,204.2 53.4,203.9 53.9,204.5 54.3,204.1 54.7,204.2 55.0,204.6 55.6,204.3 56.0,204.1 56.4,203.8 56.7,204.5 56.9,203.9 57.6,203.9 58.1,204.4 58.3,204.2 59.0,204.1 59.2,204.6 59.8,204.0 60.0,204.5 60.4,204.7 60.9,205.1 61.3,204.4 61.6,204.7 61.7,204.1 62.2,204.1 62.8,204.6 63.5,204.0 63.5,204.0 64.3,204.4 64.3,204.7 64.8,204.2 65.3,204.4 65.9,204.5 65.9,203.9 66.1,204.6 67.0,203.9 67.5,204.4 67.5,204.2 68.4,204.8 68.6,204.6 68.9,204.3 69.5,205.3 69.8,204.3 69.9,204.4 70.7,204.8 71.1,204.6 71.5,204.8 71.8,204.5 71.8,204.4 72.7,204.9 73.0,204.5 73.4,204.8 73.8,204.5 73.9,204.8 74.3,204.8 74.7,204.5 75.3,204.7 75.7,204.9 76.3,204.8 76.4,205.1 77.0,205.1 77.7,204.4 77.7,204.2 78.3,204.4 78.9,204.3 79.2,204.2 79.7,204.6 79.9,204.4 80.3,204.8 80.8,204.5 80.9,204.9 81.3,204.8 81.8,204.6 82.4,204.0 83.1,204.7 83.3,204.3 83.7,204.6 83.9,205.3 84.0,205.1 84.9,204.8 85.0,204.6 85.5,204.2 86.2,204.9 86.6,204.7 86.7,204.0 87.1,204.1 87.6,204.4 88.0,204.7 88.2,204.3 88.8,203.7 89.2,204.2 89.4,204.4 90.0,204.0 90.6,204.3 90.9,204.1 91.3,204.8 91.6,204.2 92.0,204.3 92.7,204.5 92.8,204.1 93.3,204.8 93.4,204.4 94.2,204.6 94.4,204.2 94.7,204.6 95.2,204.6 95.6,204.4 96.2,204.7 96.5,204.4 97.1,204.5 97.2,204.4 97.8,204.2 97.9,204.3 98.3,204.4 99.0,203.8 99.4,204.4 99.6,204.4 100.2,204.6 100.4,203.8 100.8,204.2 101.4,204.4 101.9,204.7 102.2,204.7 102.4,205.2 103.0,204.8 103.2,204.6 103.9,204.5 104.3,204.4 104.6,204.4 105.1,204.3 105.5,204.3 105.9,204.2 106.2,204.1 106.5,204.3 107.2,204.5 107.5,204.1 107.7,204.0 108.3,203.9 108.6,204.5 109.0,203.9 109.1,204.3 109.7,204.5 110.0,204.1 110.6,204.1 111.0,203.9 111.3,204.0 111.8,204.3 112.2,204.1 112.6,203.7 113.0,203.8 113.4,204.1 113.8,203.8 113.9,204.2 114.6,204.0 115.0,203.9 115.3,203.5 116.0,203.8 116.2,203.6 116.9,204.1 117.1,204.3 117.4,204.0 117.7,204.1 118.0,203.6 118.6,203.5 118.9,204.6 119.5,204.0 119.9,203.6 120.3,203.7 120.8,203.8 121.1,203.4 121.3,203.9 121.8,203.8 122.3,203.7 122.3,203.5 122.8,203.5 123.4,203.5 123.7,203.3 124.4,204.1 124.7,203.8 125.1,203.9 125.3,204.0 125.8,204.0 126.2,203.8 126.7,203.5 127.4,203.3 128.0,203.8 127.9,203.9 128.5,203.6 128.8,203.6 129.4,203.5 129.6,203.8 130.0,203.2 130.8,203.3 131.1,203.2 131.4,202.8 132.1,203.0 132.4,203.5 132.7,203.6 133.0,203.8" fill="none" stroke="#000" stroke-width="1.5" stroke-linejoin="round" stroke-linecap="round"/>
<polyline points="136.8,196.5 136.8,196.8 137.2,198.7 137.6,192.7 137.8,198.6 138.1,199.0 138.4,198.3 139.2,199.1 139.2,198.7 139.6,197.2 139.5,199.4 140.0,198.5 140.3,198.4 140.3,198.8 140.3,199.0 140.5,197.5 140.5,195.5 140.8,195.3 140.9,195.2 140.8,196.0 140.9,196.0 141.2,195.4 141.1,194.3 141.1,193.7 141.4,193.9 141.5,194.2 141.6,194.6 141.8,193.5 142.3,193.5 142.4,196.3 142.5,195.0 142.7,195.4 143.1,195.9 143.3,195.8 143.6,195.1 143.8,195.4 143.9,195.3 144.1,194.4 144.5,194.3 144.6,193.9 145.1,192.7 145.0,194.0 145.4,194.2 145.5,196.5 145.6,196.3 145.6,195.9 145.8,195.8 146.1,197.1 146.0,195.7 146.4,196.0 146.4,198.4 146.9,193.8 147.4,198.5 148.1,198.1 148.5,198.7 149.3,196.1 149.5,194.7 149.7,198.6 150.2,199.0 150.7,197.9 151.1,199.2 151.5,198.4 152.0,198.1 152.7,199.1 153.0,199.0 153.4,200.2 153.7,198.2 154.0,199.8 154.7,199.8 154.7,199.2 155.5,198.9 156.0,198.4 156.2,196.8 156.6,200.0 156.9,199.0 157.5,199.0 157.8,200.7 158.3,198.7 158.6,198.9 159.1,199.5 159.4,197.8 160.1,197.6 160.2,198.8 160.9,200.1 161.0,200.4 161.4,201.6 162.1,200.2 162.3,199.5 162.8,199.3 163.4,200.3 163.7,200.4 163.9,200.5 163.7,200.2 164.0,199.3 164.3,198.1 164.4,197.9 164.6,198.5 164.9,197.7 165.2,195.3 165.3,197.0 165.3,197.2 165.4,196.0 165.5,195.6 165.4,195.2 165.6,194.6 165.4,195.2 165.6,195.2 165.4,194.8 165.9,194.0 166.0,192.4 165.9,192.5 165.8,192.0 165.9,192.0 166.0,191.0 166.0,191.4 165.8,191.5 166.0,191.7 166.2,193.1 166.2,193.6 166.2,193.0 166.1,193.2 166.2,194.8 166.5,192.8 166.7,191.1 166.4,197.2 166.6,194.9 166.5,195.8 166.4,198.0 166.8,198.0 166.8,197.4 166.8,198.2 166.7,198.9 167.2,197.8 167.1,199.1 167.3,200.3 167.6,199.7 167.3,199.8 167.9,200.1 168.3,201.0 168.0,201.9 168.7,201.8 168.8,202.1 169.1,202.7 169.5,200.6 169.8,201.8 170.0,203.5 169.9,200.9 170.3,202.6 170.2,201.9 170.5,201.3 170.5,201.5 170.8,200.8 171.0,199.9 171.1,200.5 171.2,198.3 171.2,198.4 171.6,198.6 171.3,198.5 171.7,197.9 171.6,196.6 172.1,196.9 172.3,197.3 172.4,196.5 172.8,195.8 173.0,194.6 173.1,194.8 173.3,195.2 173.4,194.9 174.0,194.5 174.1,194.3 174.5,195.2 175.1,194.1 175.0,193.0 175.6,193.1 175.8,193.4 176.3,192.2 176.2,191.9 177.1,193.0 177.0,192.3 177.5,193.4 177.8,192.6 178.1,191.4 178.3,191.4 178.9,190.1 179.2,190.2 179.3,190.4 179.5,189.9 180.0,189.5 180.2,190.2 180.6,189.1 180.9,188.6 181.2,188.4 181.4,189.4 181.4,188.3 181.8,187.6 182.2,185.8 182.3,186.2 182.3,184.2 182.5,185.5 182.5,185.8 182.8,184.8 182.8,183.4 183.1,183.3 183.7,182.7 183.5,182.9 183.9,182.1 184.2,182.6 184.6,182.3 184.7,182.2 185.2,181.6 185.5,180.5 185.8,182.6 186.0,181.5 186.5,180.4 186.3,179.2 186.8,181.2 187.6,179.1 187.6,179.7 188.2,181.0 188.3,179.7 188.6,180.6 189.1,179.8 189.6,180.3 190.1,179.4 190.6,180.7 191.0,180.7 191.4,181.6 192.1,181.6 191.9,179.0 192.8,180.8 193.0,180.3 193.6,178.6 193.8,179.0 194.0,178.9 194.7,178.7 195.2,177.6 195.1,179.5 195.2,180.7 195.3,180.6 195.8,180.6 195.6,181.2 195.7,181.4 195.7,180.9 196.2,181.8 196.2,183.6 196.5,183.2 196.0,183.2 196.4,184.8 196.7,184.6 196.7,185.1 196.8,184.9 196.6,185.3 196.8,185.8 197.0,185.7 197.1,186.8 197.2,185.6 196.9,187.2 196.9,188.3 197.0,189.1 197.4,187.8 197.5,189.3 197.4,189.6 197.4,190.0 197.6,189.9 197.5,191.7 197.7,189.9 198.0,189.8 198.4,188.5 198.0,189.3 198.6,187.4 199.0,188.1 199.0,188.0 199.0,187.9 199.4,186.7 199.9,186.0 200.0,185.5 199.6,185.3 200.5,187.2 200.8,186.2 201.7,185.8 202.1,186.2 202.3,186.5 202.3,185.1 203.3,186.2 203.6,187.0 203.7,187.4 204.5,187.1 204.9,187.5 205.1,187.9 205.6,188.3 206.0,188.3 206.4,187.8 206.8,186.8 207.4,188.5 207.8,187.2 208.2,188.8 208.3,188.9 208.7,188.9 209.2,189.4 209.5,191.6 209.6,190.5 210.3,190.3 210.2,192.2 210.4,191.7 211.0,191.6 211.0,192.7 211.7,192.5 211.9,192.4 212.0,192.5 212.8,191.9 212.8,193.2 212.9,192.7 213.3,193.9 213.8,194.4 214.1,192.8 213.9,194.0 214.3,193.5 215.0,192.7 215.3,193.9 215.2,192.7 215.6,191.7 216.2,193.1 216.0,191.3 216.5,191.5 216.8,191.4 217.2,189.2 217.3,190.1 217.8,188.2 217.9,189.9 218.0,189.1 218.0,188.7 218.4,191.0 218.8,187.8 218.7,186.2 218.9,187.6 218.9,186.2 219.5,186.0 219.8,185.7 219.9,184.2 220.1,184.7 220.5,184.3 220.8,185.0 220.7,183.8 221.0,182.4 221.1,182.6 221.2,183.2 221.2,183.2 221.5,182.6 221.4,182.3 221.5,181.9 221.6,182.4 221.7,179.6 222.1,180.4 221.9,179.8 222.4,179.2 222.3,179.8 222.4,179.7 222.6,176.8 222.8,178.4 222.9,178.0 223.0,177.4 223.2,177.2 223.6,178.4 223.8,177.5 223.7,177.9 224.1,177.2 224.0,176.1 224.5,178.3 224.8,180.4 225.1,179.8 225.4,181.2 225.5,178.9 226.5,180.5 226.7,180.6 227.1,182.2 227.0,180.6 227.5,181.7 228.1,181.9 228.3,183.9 228.5,183.2 228.9,184.6 229.2,183.0 229.2,183.9 229.4,183.9 229.6,184.3 229.8,182.9 229.8,185.1 230.0,184.5 230.2,185.2 230.2,187.2 230.6,187.4 230.7,185.8 231.2,186.4 231.4,186.8 232.0,186.6 232.4,187.7 233.3,187.1 233.3,188.6 234.0,187.2 234.4,187.7 234.6,187.1 234.7,188.3 235.2,186.3 235.6,186.9 235.8,187.1 236.2,186.0 236.6,185.3 236.8,185.9 236.6,183.8 237.1,186.2 237.1,187.2 237.5,187.5 237.5,186.8 237.6,186.6 237.9,188.1 237.7,187.9 237.9,189.1 237.8,189.2 238.3,189.4 238.5,189.4 238.6,190.8 238.8,190.0 239.0,191.7 239.2,191.6 239.4,191.8 239.5,191.7 239.8,191.8 240.1,193.7 240.1,193.3 240.3,193.6 240.5,194.3 240.7,194.6 241.1,193.7 241.6,195.1 242.1,195.4 242.4,194.7 242.6,195.4 243.3,195.8 243.1,198.3 243.9,196.9 244.2,196.5 244.6,196.8 244.7,194.2 245.2,196.4 245.2,197.1 246.3,194.1 246.3,195.4 246.4,194.5 247.2,194.2 247.5,194.8 247.8,197.4 248.2,194.6 248.6,194.6 249.1,195.1 249.6,195.4 249.8,195.6 250.3,194.8 250.4,194.5 250.3,194.1 251.2,195.1 251.2,194.3 251.7,193.2 251.5,192.9 251.7,192.9 251.9,192.6 252.3,190.9 252.4,191.6 253.1,191.9 253.3,189.4 253.5,191.7 253.9,191.1 254.4,191.4 254.8,191.8 255.2,190.7 255.2,190.4 255.3,189.2 255.7,189.1 255.6,187.2 255.9,188.3 256.1,187.9 256.0,187.2 256.5,187.3 256.5,187.2 256.5,187.1 256.9,185.7 257.0,185.1 257.2,185.6 257.1,184.8 257.9,184.0 257.7,186.2 258.0,184.4 258.6,183.7 258.5,185.8 258.9,185.5" fill="none" stroke="#000" stroke-width="1.5" stroke-linejoin="round" stroke-linecap="round"/>
<path d="M136.8 196.9h1.1v1.1h-1.1zM137.0 198.7h1.1v1.1h-1.1zM138.4 197.3h1.1v1.1h-1.1zM138.8 199.2h1.1v1.1h-1.1zM139.6 198.1h1.1v1.1h-1.1zM139.4 200.0h1.1v1.1h-1.1zM140.1 196.8h1.1v1.1h-1.1zM141.1 190.3h1.1v1.1h-1.1zM141.2 192.0h1.1v1.1h-1.1zM141.1 194.8h1.1v1.1h-1.1zM141.4 192.7h1.1v1.1h-1.1zM141.8 194.0h1.1v1.1h-1.1zM142.3 194.2h1.1v1.1h-1.1zM142.7 195.3h1.1v1.1h-1.1zM142.8 197.1h1.1v1.1h-1.1zM143.6 195.6h1.1v1.1h-1.1zM144.3 196.5h1.1v1.1h-1.1zM144.7 194.8h1.1v1.1h-1.1zM144.9 192.1h1.1v1.1h-1.1zM145.3 192.4h1.1v1.1h-1.1zM145.3 195.1h1.1v1.1h-1.1zM145.9 196.7h1.1v1.1h-1.1zM146.4 196.8h1.1v1.1h-1.1zM147.7 198.7h1.1v1.1h-1.1zM148.8 198.0h1.1v1.1h-1.1zM150.1 195.7h1.1v1.1h-1.1zM150.7 200.2h1.1v1.1h-1.1zM153.3 199.3h1.1v1.1h-1.1zM153.5 195.0h1.1v1.1h-1.1zM154.0 200.8h1.1v1.1h-1.1zM154.6 198.7h1.1v1.1h-1.1zM156.0 197.0h1.1v1.1h-1.1zM156.0 200.3h1.1v1.1h-1.1zM157.0 198.0h1.1v1.1h-1.1zM158.2 198.6h1.1v1.1h-1.1zM159.0 198.7h1.1v1.1h-1.1zM159.3 197.9h1.1v1.1h-1.1zM160.4 199.1h1.1v1.1h-1.1zM161.0 201.7h1.1v1.1h-1.1zM161.4 197.9h1.1v1.1h-1.1zM162.6 197.7h1.1v1.1h-1.1zM162.8 199.1h1.1v1.1h-1.1zM163.4 198.6h1.1v1.1h-1.1zM163.9 198.2h1.1v1.1h-1.1zM164.1 203.8h1.1v1.1h-1.1zM164.3 197.5h1.1v1.1h-1.1zM164.7 196.6h1.1v1.1h-1.1zM164.7 195.3h1.1v1.1h-1.1zM164.8 194.4h1.1v1.1h-1.1zM165.1 193.6h1.1v1.1h-1.1zM165.4 191.5h1.1v1.1h-1.1zM165.3 190.8h1.1v1.1h-1.1zM165.8 190.9h1.1v1.1h-1.1zM165.5 190.0h1.1v1.1h-1.1zM165.5 189.2h1.1v1.1h-1.1zM165.6 191.4h1.1v1.1h-1.1zM165.9 189.3h1.1v1.1h-1.1zM165.8 194.0h1.1v1.1h-1.1zM165.9 191.8h1.1v1.1h-1.1zM165.9 193.3h1.1v1.1h-1.1zM165.8 196.5h1.1v1.1h-1.1zM165.9 197.4h1.1v1.1h-1.1zM166.1 196.8h1.1v1.1h-1.1zM166.4 197.1h1.1v1.1h-1.1zM166.3 198.4h1.1v1.1h-1.1zM166.4 198.8h1.1v1.1h-1.1zM167.3 199.7h1.1v1.1h-1.1zM167.2 198.9h1.1v1.1h-1.1zM167.8 201.3h1.1v1.1h-1.1zM168.0 198.1h1.1v1.1h-1.1zM169.3 200.5h1.1v1.1h-1.1zM169.6 201.1h1.1v1.1h-1.1zM170.0 200.0h1.1v1.1h-1.1zM170.4 201.2h1.1v1.1h-1.1zM170.4 200.5h1.1v1.1h-1.1zM170.7 199.3h1.1v1.1h-1.1zM170.6 197.0h1.1v1.1h-1.1zM171.2 198.8h1.1v1.1h-1.1zM170.9 198.5h1.1v1.1h-1.1zM171.6 196.8h1.1v1.1h-1.1zM171.4 198.2h1.1v1.1h-1.1zM172.0 194.4h1.1v1.1h-1.1zM173.1 194.2h1.1v1.1h-1.1zM173.6 191.3h1.1v1.1h-1.1zM173.8 193.0h1.1v1.1h-1.1zM174.2 190.6h1.1v1.1h-1.1zM174.9 191.6h1.1v1.1h-1.1zM175.5 192.9h1.1v1.1h-1.1zM175.9 189.1h1.1v1.1h-1.1zM176.6 192.5h1.1v1.1h-1.1zM176.9 191.6h1.1v1.1h-1.1zM176.9 191.1h1.1v1.1h-1.1zM177.8 193.3h1.1v1.1h-1.1zM178.3 190.5h1.1v1.1h-1.1zM178.5 188.4h1.1v1.1h-1.1zM178.8 191.4h1.1v1.1h-1.1zM179.5 189.0h1.1v1.1h-1.1zM180.1 188.4h1.1v1.1h-1.1zM180.5 186.6h1.1v1.1h-1.1zM181.0 185.3h1.1v1.1h-1.1zM181.1 187.9h1.1v1.1h-1.1zM181.6 186.1h1.1v1.1h-1.1zM182.1 184.9h1.1v1.1h-1.1zM182.1 184.6h1.1v1.1h-1.1zM182.7 181.0h1.1v1.1h-1.1zM182.9 182.2h1.1v1.1h-1.1zM183.8 180.9h1.1v1.1h-1.1zM184.0 181.6h1.1v1.1h-1.1zM184.5 180.2h1.1v1.1h-1.1zM184.6 179.1h1.1v1.1h-1.1zM185.1 181.1h1.1v1.1h-1.1zM186.0 179.4h1.1v1.1h-1.1zM186.1 182.8h1.1v1.1h-1.1zM186.7 180.1h1.1v1.1h-1.1zM186.7 178.9h1.1v1.1h-1.1zM187.1 178.3h1.1v1.1h-1.1zM187.7 179.8h1.1v1.1h-1.1zM188.4 178.8h1.1v1.1h-1.1zM189.0 178.9h1.1v1.1h-1.1zM190.2 179.9h1.1v1.1h-1.1zM191.0 178.1h1.1v1.1h-1.1zM191.4 181.2h1.1v1.1h-1.1zM191.8 179.4h1.1v1.1h-1.1zM192.5 177.5h1.1v1.1h-1.1zM192.9 178.6h1.1v1.1h-1.1zM194.5 179.9h1.1v1.1h-1.1zM194.4 176.9h1.1v1.1h-1.1zM194.7 180.7h1.1v1.1h-1.1zM194.6 181.5h1.1v1.1h-1.1zM195.3 181.9h1.1v1.1h-1.1zM195.4 181.2h1.1v1.1h-1.1zM196.2 183.6h1.1v1.1h-1.1zM195.7 184.3h1.1v1.1h-1.1zM196.2 183.8h1.1v1.1h-1.1zM196.3 185.8h1.1v1.1h-1.1zM196.5 187.6h1.1v1.1h-1.1zM196.7 187.6h1.1v1.1h-1.1zM196.8 187.8h1.1v1.1h-1.1zM196.5 187.8h1.1v1.1h-1.1zM197.0 188.5h1.1v1.1h-1.1zM197.0 188.6h1.1v1.1h-1.1zM197.4 187.3h1.1v1.1h-1.1zM197.7 187.0h1.1v1.1h-1.1zM198.5 186.2h1.1v1.1h-1.1zM199.1 186.4h1.1v1.1h-1.1zM201.5 185.0h1.1v1.1h-1.1zM203.1 185.8h1.1v1.1h-1.1zM203.5 186.3h1.1v1.1h-1.1zM205.4 184.8h1.1v1.1h-1.1zM205.9 187.6h1.1v1.1h-1.1zM206.2 187.6h1.1v1.1h-1.1zM206.7 186.9h1.1v1.1h-1.1zM207.6 189.5h1.1v1.1h-1.1zM207.6 187.6h1.1v1.1h-1.1zM208.3 189.9h1.1v1.1h-1.1zM208.4 189.9h1.1v1.1h-1.1zM209.0 192.1h1.1v1.1h-1.1zM209.3 190.9h1.1v1.1h-1.1zM209.8 192.2h1.1v1.1h-1.1zM211.1 192.2h1.1v1.1h-1.1zM211.0 191.5h1.1v1.1h-1.1zM211.4 191.9h1.1v1.1h-1.1zM211.8 193.2h1.1v1.1h-1.1zM212.5 192.0h1.1v1.1h-1.1zM213.6 190.9h1.1v1.1h-1.1zM213.5 194.9h1.1v1.1h-1.1zM214.5 192.9h1.1v1.1h-1.1zM215.0 194.8h1.1v1.1h-1.1zM215.3 192.5h1.1v1.1h-1.1zM217.0 188.9h1.1v1.1h-1.1zM217.5 185.8h1.1v1.1h-1.1zM217.9 187.1h1.1v1.1h-1.1zM218.0 188.6h1.1v1.1h-1.1zM218.5 186.6h1.1v1.1h-1.1zM218.8 185.6h1.1v1.1h-1.1zM218.9 184.0h1.1v1.1h-1.1zM219.2 184.9h1.1v1.1h-1.1zM219.3 184.5h1.1v1.1h-1.1zM219.6 185.4h1.1v1.1h-1.1zM219.8 183.6h1.1v1.1h-1.1zM220.4 183.6h1.1v1.1h-1.1zM220.3 182.0h1.1v1.1h-1.1zM220.6 184.3h1.1v1.1h-1.1zM220.8 182.5h1.1v1.1h-1.1zM220.6 180.8h1.1v1.1h-1.1zM221.2 182.0h1.1v1.1h-1.1zM221.5 179.3h1.1v1.1h-1.1zM222.4 177.3h1.1v1.1h-1.1zM222.4 179.3h1.1v1.1h-1.1zM222.7 177.8h1.1v1.1h-1.1zM222.7 177.3h1.1v1.1h-1.1zM223.2 178.6h1.1v1.1h-1.1zM223.6 177.1h1.1v1.1h-1.1zM224.3 181.3h1.1v1.1h-1.1zM224.5 178.4h1.1v1.1h-1.1zM225.0 180.0h1.1v1.1h-1.1zM225.9 179.3h1.1v1.1h-1.1zM226.5 180.0h1.1v1.1h-1.1zM226.9 180.4h1.1v1.1h-1.1zM228.0 177.9h1.1v1.1h-1.1zM228.3 181.9h1.1v1.1h-1.1zM228.8 182.8h1.1v1.1h-1.1zM229.3 183.4h1.1v1.1h-1.1zM229.5 184.3h1.1v1.1h-1.1zM230.2 186.8h1.1v1.1h-1.1zM231.1 188.1h1.1v1.1h-1.1zM231.4 187.5h1.1v1.1h-1.1zM231.9 186.8h1.1v1.1h-1.1zM233.8 187.2h1.1v1.1h-1.1zM234.0 187.7h1.1v1.1h-1.1zM234.5 187.7h1.1v1.1h-1.1zM235.1 184.9h1.1v1.1h-1.1zM236.5 183.1h1.1v1.1h-1.1zM236.7 186.8h1.1v1.1h-1.1zM237.1 185.2h1.1v1.1h-1.1zM238.0 188.0h1.1v1.1h-1.1zM238.1 188.2h1.1v1.1h-1.1zM239.0 192.4h1.1v1.1h-1.1zM239.0 190.3h1.1v1.1h-1.1zM239.0 192.1h1.1v1.1h-1.1zM239.6 192.9h1.1v1.1h-1.1zM239.6 192.7h1.1v1.1h-1.1zM240.4 192.2h1.1v1.1h-1.1zM240.6 195.4h1.1v1.1h-1.1zM241.1 196.2h1.1v1.1h-1.1zM241.8 194.2h1.1v1.1h-1.1zM243.0 197.0h1.1v1.1h-1.1zM244.3 195.0h1.1v1.1h-1.1zM244.7 195.0h1.1v1.1h-1.1zM245.6 193.8h1.1v1.1h-1.1zM245.7 194.4h1.1v1.1h-1.1zM247.3 193.5h1.1v1.1h-1.1zM248.4 193.0h1.1v1.1h-1.1zM249.2 193.7h1.1v1.1h-1.1zM251.3 191.2h1.1v1.1h-1.1zM251.2 191.7h1.1v1.1h-1.1zM251.8 191.1h1.1v1.1h-1.1zM251.8 191.2h1.1v1.1h-1.1zM252.8 192.6h1.1v1.1h-1.1zM253.7 187.6h1.1v1.1h-1.1zM254.7 187.5h1.1v1.1h-1.1zM254.8 188.2h1.1v1.1h-1.1zM254.8 188.2h1.1v1.1h-1.1zM255.1 190.1h1.1v1.1h-1.1zM255.5 187.9h1.1v1.1h-1.1zM255.8 184.4h1.1v1.1h-1.1zM256.2 186.0h1.1v1.1h-1.1zM256.9 183.6h1.1v1.1h-1.1zM257.4 182.9h1.1v1.1h-1.1zM257.7 185.3h1.1v1.1h-1.1zM258.3 184.9h1.1v1.1h-1.1z" fill="#000"/>
<rect x="134.4" y="184.5" width="1.0" height="1.0" fill="#000"/>
<rect x="133.3" y="187.4" width="1.0" height="1.0" fill="#000"/>
<rect x="134.3" y="193.8" width="1.0" height="1.0" fill="#000"/>
<rect x="135.6" y="190.5" width="1.0" height="1.0" fill="#000"/>
<rect x="134.3" y="196.3" width="1.0" height="1.0" fill="#000"/>
<rect x="133.6" y="186.0" width="1.0" height="1.0" fill="#000"/>
<rect x="136.2" y="186.8" width="1.0" height="1.0" fill="#000"/>
<rect x="136.8" y="183.2" width="1.0" height="1.0" fill="#000"/>
<rect x="136.3" y="193.4" width="1.0" height="1.0" fill="#000"/>
<rect x="136.9" y="192.3" width="1.0" height="1.0" fill="#000"/>
<rect x="134.1" y="189.8" width="1.0" height="1.0" fill="#000"/>
<rect x="134.4" y="196.1" width="1.0" height="1.0" fill="#000"/>
<rect x="135.9" y="189.3" width="1.0" height="1.0" fill="#000"/>
<rect x="136.2" y="195.9" width="1.0" height="1.0" fill="#000"/>
<rect x="135.9" y="192.6" width="1.0" height="1.0" fill="#000"/>
<rect x="133.8" y="189.1" width="1.0" height="1.0" fill="#000"/>
<rect x="134.4" y="187.3" width="1.0" height="1.0" fill="#000"/>
<rect x="136.1" y="193.5" width="1.0" height="1.0" fill="#000"/>
<rect x="136.1" y="192.6" width="1.0" height="1.0" fill="#000"/>
<rect x="136.0" y="184.7" width="1.0" height="1.0" fill="#000"/>
<rect x="133.6" y="196.3" width="1.0" height="1.0" fill="#000"/>
<rect x="135.2" y="188.2" width="1.0" height="1.0" fill="#000"/>
<rect x="136.9" y="191.5" width="1.0" height="1.0" fill="#000"/>
<rect x="134.0" y="193.0" width="1.0" height="1.0" fill="#000"/>
<rect x="133.5" y="189.4" width="1.0" height="1.0" fill="#000"/>
<rect x="134.5" y="193.2" width="1.0" height="1.0" fill="#000"/>
<rect x="136.9" y="189.7" width="1.0" height="1.0" fill="#000"/>
<rect x="136.2" y="190.2" width="1.0" height="1.0" fill="#000"/>
<rect x="133.4" y="187.5" width="1.0" height="1.0" fill="#000"/>
<rect x="136.0" y="185.0" width="1.0" height="1.0" fill="#000"/>
<rect x="133.3" y="190.0" width="1.0" height="1.0" fill="#000"/>
<rect x="134.8" y="190.7" width="1.0" height="1.0" fill="#000"/>
<rect x="136.5" y="193.6" width="1.0" height="1.0" fill="#000"/>
<rect x="133.7" y="187.8" width="1.0" height="1.0" fill="#000"/>
<rect x="135.6" y="188.1" width="1.0" height="1.0" fill="#000"/>
<rect x="136.9" y="187.5" width="1.0" height="1.0" fill="#000"/>
<rect x="136.3" y="190.7" width="1.0" height="1.0" fill="#000"/>
<rect x="135.7" y="194.3" width="1.0" height="1.0" fill="#000"/>
<rect x="134.7" y="195.7" width="1.0" height="1.0" fill="#000"/>
<rect x="134.2" y="189.1" width="1.0" height="1.0" fill="#000"/>
<rect x="134.1" y="196.2" width="1.0" height="1.0" fill="#000"/>
<rect x="135.9" y="192.9" width="1.0" height="1.0" fill="#000"/>
<rect x="135.7" y="191.7" width="1.0" height="1.0" fill="#000"/>
<rect x="135.2" y="191.0" width="1.0" height="1.0" fill="#000"/>
<rect x="133.9" y="190.6" width="1.0" height="1.0" fill="#000"/>
<rect x="139.9" y="185.4" width="1.2" height="1.2" fill="#000"/>
<rect x="143.9" y="183.4" width="1.2" height="1.2" fill="#000"/>
<rect x="133.9" y="179.4" width="1.2" height="1.2" fill="#000"/>
<rect x="134.2" y="175.4" width="1.2" height="1.2" fill="#000"/>
<rect x="134.9" y="182.4" width="1.2" height="1.2" fill="#000"/>
<rect x="145.4" y="189.4" width="1.2" height="1.2" fill="#000"/>
<rect x="167.4" y="199.4" width="1.2" height="1.2" fill="#000"/>
<rect x="170.4" y="193.4" width="1.2" height="1.2" fill="#000"/>
<rect x="177.4" y="187.4" width="1.2" height="1.2" fill="#000"/>
<rect x="207.4" y="185.4" width="1.2" height="1.2" fill="#000"/>
<rect x="213.4" y="196.4" width="1.2" height="1.2" fill="#000"/>
<rect x="227.4" y="175.4" width="1.2" height="1.2" fill="#000"/>
<rect x="241.4" y="192.4" width="1.2" height="1.2" fill="#000"/>
<rect x="256.4" y="179.4" width="1.2" height="1.2" fill="#000"/>
<polyline points="46.6,267.1 47.2,266.7 47.4,266.7 47.6,267.2 48.2,266.8 48.8,267.1 49.1,266.9 49.3,267.3 50.2,267.0 50.5,267.0 50.5,266.9 51.1,267.1 51.7,267.1 52.3,267.5 52.1,267.0 52.6,266.5 52.8,266.2 53.1,265.8 53.3,265.7 53.6,264.9 53.9,264.8 54.4,265.1 54.5,265.6 54.7,265.6 55.1,266.5 55.5,266.9 55.6,266.7 56.0,267.1 56.3,267.3 56.7,266.9 57.1,266.9 57.4,266.5 58.0,266.5 58.1,266.4 59.0,266.9 58.9,266.9 59.3,267.1 59.9,267.6 59.9,267.7 60.4,268.0 60.5,268.2 60.8,268.2 61.2,268.4 62.0,267.7 62.0,267.4 62.4,266.9 62.4,266.8 62.7,266.2 63.0,266.4 63.4,266.4 63.8,266.2 64.2,266.0 64.7,265.5 65.3,266.2 65.4,266.1 65.8,265.5 66.1,266.0 66.5,265.6 67.0,266.0 67.4,266.4 67.9,266.1 68.2,265.9 68.5,266.0 69.1,266.2 69.5,266.0 69.8,266.0 70.4,265.9 70.5,266.4 71.1,266.7 71.5,265.8 71.9,265.9 72.3,266.2 72.7,266.2 72.9,265.8 73.4,266.3 73.9,265.9 74.3,265.9 74.8,266.6 74.9,266.4 75.1,266.1 75.7,266.2 76.2,266.2 76.6,266.5 77.2,266.2 77.4,265.9 78.0,265.8 78.4,266.3 78.7,265.9 79.0,266.1 79.3,266.4 80.0,266.3 80.2,266.2 80.6,266.7 81.1,266.4 81.2,266.8 81.8,266.2 82.3,266.7 82.9,266.5 83.2,266.5 83.1,266.2 83.7,266.3 84.3,266.2 84.5,266.4 84.8,266.3 85.3,266.5 85.5,266.5 86.1,266.3 86.8,266.0 87.1,266.3 87.6,266.0 88.0,266.4 88.3,266.6 88.7,266.8 89.0,266.1 89.6,266.5 89.8,266.1 90.5,266.9 90.8,266.5 91.2,266.5 91.2,266.5 91.7,266.8 92.0,266.7 92.4,266.3 93.0,266.8 93.6,266.8 93.8,266.7 94.3,266.9 94.7,266.2 94.9,266.9 95.3,266.9 96.0,266.7 96.1,266.7 96.7,266.4 97.1,266.2 97.5,266.6 97.7,266.7 98.2,266.3 98.5,266.4 99.2,266.9 99.4,266.4 99.8,266.7 100.2,267.0 100.8,266.5 100.9,266.5 101.4,266.7 101.9,267.0 102.2,266.5 102.6,266.6 103.1,266.4 103.4,267.1 103.7,266.8 104.2,267.3 104.3,267.0 104.8,266.9 105.3,267.2 105.6,267.0 106.2,267.0 106.4,267.1 107.1,266.6 107.1,266.7 108.1,266.6 107.9,267.1 108.7,267.1 109.1,267.0 109.2,267.2 109.6,266.7 110.1,267.2 110.8,266.8 110.8,266.7 111.5,267.2 111.8,266.8 112.2,267.1 112.6,267.3 113.3,267.1 113.4,267.6 114.1,267.4 114.3,267.2 114.7,267.0 115.0,267.2 115.4,267.1 116.2,267.6 115.8,266.8 116.4,267.2 116.9,267.3 117.3,266.9 117.9,267.5 118.1,267.1 118.5,267.8 118.9,267.2 119.2,267.4 120.0,267.4 120.4,267.5 120.7,267.5 121.2,267.5 121.3,267.5 121.8,267.6 122.1,267.5 122.6,267.1 123.1,267.2 123.2,267.5 123.9,267.6 124.4,267.5 124.7,267.2 124.8,267.9 125.2,268.0 125.9,267.7 126.1,267.7 126.6,268.1 126.8,267.1 127.1,267.8 127.9,267.6 128.2,267.0 128.8,267.5 129.1,267.4 129.6,267.9 129.8,266.8 130.2,267.4 130.4,267.2 130.9,267.1 130.7,267.0 131.4,266.7 131.8,265.7 132.0,266.1 132.2,265.6 132.4,265.9 132.6,265.1 132.7,264.7 132.7,264.5 132.9,263.9 132.8,263.6 133.1,263.2 133.1,262.7 132.8,262.3 133.1,261.3 133.1,261.9 133.3,261.5 133.4,260.7 133.6,259.2 133.5,259.6 133.5,258.8 133.9,259.3 133.5,258.6 133.9,258.5 133.9,257.7 133.8,257.0 133.7,258.1 134.0,253.9 134.0,256.0 134.0,255.5 134.1,255.2 134.1,254.8 134.3,257.0 134.4,253.6 134.5,253.2 134.3,253.8 134.4,252.7 134.4,252.3 134.7,252.1 134.4,251.6 134.7,251.6 134.9,250.7 135.0,250.9 134.6,249.4 135.0,249.3 135.0,249.9 135.3,249.1 135.7,248.2 135.7,247.5 136.1,248.2 136.3,247.2 136.5,246.7 136.9,247.0 136.9,246.6 137.4,245.5 137.5,246.6 138.0,246.5 137.8,246.5 138.7,247.4 138.7,247.7 139.1,248.0 139.5,248.3 140.0,247.9 140.1,247.6 140.5,247.1 140.9,247.1 141.3,248.0 141.0,247.6 141.7,248.7 141.8,248.4 141.9,249.0 142.0,249.0 142.5,249.6 142.5,250.0 142.5,250.9 143.2,251.0 143.0,250.4 143.5,251.3 143.6,251.7 143.8,251.6 143.7,251.7 144.2,251.1 144.2,250.3 144.4,249.5 144.6,249.5 144.8,251.4 145.1,249.0 145.6,248.9 145.9,248.1 146.3,249.0 146.5,247.8 147.0,248.9 147.0,246.0 147.3,249.6 147.0,249.4 147.5,248.3 147.2,247.7 147.8,246.4 147.4,247.5 147.5,247.7 147.7,246.8 148.0,246.7 147.8,246.6 147.9,245.2 148.3,244.9 148.0,244.9 148.2,244.1 148.5,243.9 148.4,243.0 148.6,243.4 149.1,243.3 149.5,243.2 150.0,239.8 150.6,243.8 150.8,242.3 151.1,241.9 151.8,242.2 152.0,242.0 152.6,241.6 152.9,241.1 153.1,241.9 153.6,242.1 154.3,240.5 154.6,241.0 154.9,241.7 155.5,241.0 155.9,241.1 156.3,240.2 156.6,240.0 157.0,237.9 157.4,239.6 157.7,239.6 158.3,239.7 158.5,240.2 158.6,237.8 159.4,240.3 160.0,241.4 160.3,239.9 160.6,240.8 161.4,240.9 161.5,241.1 161.8,241.3 162.6,241.7 162.8,241.1 163.0,239.3 163.8,241.5 163.7,241.9 164.4,242.6 164.6,242.8 164.6,242.1 164.6,243.7 164.6,243.4 164.5,244.5 164.3,245.4 164.6,244.9 164.5,245.9 165.0,245.6 164.9,246.3 164.7,247.1 164.7,247.4 164.8,248.5 164.8,247.9 165.1,248.1 164.9,249.4 164.9,249.0 164.8,249.6 165.3,249.7 165.0,249.7 165.2,251.3 164.8,251.3 165.1,251.4 165.0,251.7 164.9,252.3 165.3,252.5 164.9,253.4 165.1,253.7 165.3,254.4 165.3,254.1 165.2,254.6 165.4,256.2 165.2,255.5 165.3,255.6 165.1,255.8 165.3,259.7 165.6,257.6 165.4,257.9 165.3,257.8 165.6,258.0 165.3,259.2 165.4,259.5 165.4,259.6 165.5,259.4 165.4,260.2 165.6,260.5 165.9,260.6 165.6,262.0 165.5,262.6 165.7,261.2 165.6,261.7 165.6,260.8 166.3,260.2 165.9,260.0 165.5,259.5 165.4,259.2 165.6,259.3 165.8,257.7 165.9,258.5 166.1,256.8 165.7,256.9 165.9,258.6 166.1,256.4 165.9,256.2 165.9,256.2 166.1,255.0 166.0,254.6 166.0,254.7 166.0,253.8 166.0,253.7 166.4,253.4 166.4,252.4 166.6,251.9 166.1,251.6 166.9,250.6 166.9,246.5 166.7,250.9 166.8,250.5 166.7,249.7 167.0,254.0 167.5,249.5 167.3,249.3 167.7,248.3 168.2,247.3 168.0,247.4 168.5,247.1 168.6,246.2 168.8,246.5 169.3,246.0 169.2,245.6 169.8,245.4 170.4,245.8 170.7,245.6 171.1,245.7 171.7,245.2 171.7,245.3 172.5,245.8 172.7,244.6 173.2,244.8 173.2,245.3 173.8,244.8 174.4,244.6 174.6,243.9 175.0,244.4 175.5,243.6 175.7,243.5 176.2,243.6 176.6,243.5 176.7,244.0 177.2,245.0 177.0,244.6 177.7,245.1 178.1,245.3 177.7,245.5 178.5,245.9 178.5,246.7 178.9,246.6 179.0,247.1 179.5,247.3 179.9,246.8 180.3,247.2 180.7,246.8 181.3,246.8 181.6,246.2 182.1,246.8 182.3,246.1 183.2,246.7 183.2,246.3 183.6,246.6 184.2,246.4 184.8,247.1 185.3,246.8 185.3,247.3 185.8,247.0 186.5,247.0 187.3,247.1 187.2,248.0 187.8,247.0 188.4,246.9 188.7,246.4 189.1,247.8 189.6,246.8 190.0,246.5 190.2,246.0 190.6,246.0 191.4,245.8 191.4,246.0 192.2,245.6 192.7,246.7 193.0,245.4 193.4,246.1 193.7,246.1 194.5,245.6 194.7,246.8 195.0,245.1 195.3,250.4 195.9,245.6 196.4,244.7 196.8,245.2 197.0,244.5 197.6,244.8 197.8,245.3 198.4,245.0 198.9,242.5 198.9,245.0 199.2,246.2 199.3,245.9 199.7,245.6 199.6,246.3 199.8,247.4 199.9,248.0 200.5,247.8 200.5,247.6 200.6,247.9 201.0,248.1 201.3,249.8 201.6,249.2 201.7,249.6 201.9,250.3 202.6,250.1 202.3,250.3 202.5,251.3 203.5,250.2 203.8,250.7 203.9,251.1 204.4,250.8 204.7,247.6 205.3,251.1 205.5,250.8 206.0,250.5 206.3,251.3 206.9,250.1 207.2,250.3 207.3,249.8 207.6,248.9 207.7,248.8 208.4,248.3 208.6,248.2 208.9,248.0 209.3,247.5 209.3,248.2 209.7,247.3 210.2,247.0 210.5,245.3 210.8,246.6 211.0,245.6 211.4,245.9 212.0,246.2 212.5,245.0 212.5,245.0 212.8,244.7 213.5,244.0 213.8,245.5 214.2,245.0 214.8,245.6 215.0,245.9 215.3,245.9 215.7,246.1 216.1,246.7 216.1,245.9 216.5,246.3 217.2,246.8 217.8,247.2 218.0,248.1 218.2,248.5 218.3,248.4 218.8,249.0 219.1,249.2 219.3,249.7 219.6,249.8 220.1,250.2 220.1,250.6 220.6,250.5 220.9,250.6 221.1,251.3 220.9,251.6 221.3,251.3 221.0,252.4 221.2,252.9 221.2,253.4 221.3,253.2 221.6,254.2 221.6,253.8 221.7,254.9 221.7,255.1 221.8,255.5 221.6,256.7 222.0,256.7 222.0,257.2 222.0,256.1 222.3,257.6 222.4,258.0 222.3,258.7 222.6,258.8 222.4,258.9 222.6,259.9 222.7,259.9 222.5,260.3 223.1,260.8 222.9,262.0 223.1,261.6 223.1,262.7 223.1,263.4 223.3,263.4 223.4,263.3 223.5,263.6 223.3,264.1 223.5,265.5 223.6,264.9 223.3,265.9 223.6,266.0 223.8,266.4 223.8,266.5 223.4,267.6 223.7,268.0 223.6,267.9 223.6,267.7 223.9,268.3 223.9,266.6 223.7,268.8 223.7,270.0 223.9,269.7 223.9,271.1 224.0,271.4 224.0,271.7 224.2,272.5 224.2,271.3 224.2,270.5 224.4,270.8 224.2,270.0 224.4,269.8 224.3,270.4 224.4,269.4 224.5,268.5 224.6,269.1 224.5,268.0 224.9,267.4 224.9,266.4 225.1,266.9 225.2,267.1 224.9,265.6 225.3,266.5 225.1,265.9 225.2,265.6 225.7,264.5 225.8,262.9 225.8,263.5 225.6,262.8 225.8,264.0 226.0,264.2 226.0,264.4 226.1,265.2 226.5,265.0 226.4,265.8 226.7,266.2 226.9,266.7 226.7,268.6 226.9,267.7 227.3,267.1 227.1,268.4 227.2,268.4 227.1,269.5 227.1,269.9 227.2,269.4 227.2,270.3 227.5,270.7 227.2,271.2 227.7,271.6 227.5,271.8 227.7,271.4 227.8,271.6 227.7,271.4 227.8,270.9 227.9,270.6 227.8,270.5 228.0,269.2 228.2,269.0 227.8,268.7 227.9,268.7 228.1,268.3 228.1,266.9 228.3,267.2 228.3,267.2 228.2,266.4 228.3,266.2 228.5,265.3 228.4,265.6 228.4,265.4 228.5,264.9 228.5,263.9 228.5,263.1 228.7,262.5 228.6,262.1 228.8,262.1 229.0,261.9 228.7,260.7 228.8,260.4 229.1,260.4 229.2,259.6 228.9,259.9 229.4,259.0 229.5,258.9 229.4,259.1 229.6,258.4 229.4,257.6 229.8,257.1 230.1,251.5 230.6,256.6 230.8,256.6 230.9,255.4 230.9,255.8 231.2,254.6 231.8,254.8 231.6,254.0 232.1,254.8 232.6,253.6 232.8,253.4 233.3,253.0 233.5,253.4 233.9,254.1 234.2,253.6 234.8,254.1 234.8,254.5 235.3,255.1 235.7,256.0 235.8,255.2 235.6,255.5 235.9,255.9 235.9,256.8 236.1,256.7 236.3,256.8 236.2,257.6 236.5,258.6 236.8,258.3 236.6,258.5 236.4,258.6 236.9,259.9 236.5,260.5 236.7,261.1 236.7,261.2 236.9,260.7 236.9,261.2 237.0,262.2 236.8,262.6 237.1,262.7 237.3,263.8 237.2,263.9 237.6,264.5 237.2,264.4 237.5,265.8 237.5,265.0 237.4,263.5 237.6,263.6 237.7,262.7 237.9,263.0 237.9,262.2 237.8,261.8 238.2,262.4 237.9,260.6 238.5,261.4 238.1,260.6 238.3,260.3 238.2,260.3 238.5,258.5 238.4,259.4 238.8,258.5 238.6,257.6 238.9,257.8 239.0,256.8 239.0,257.7 239.2,256.2 239.3,255.8 239.3,255.7 239.3,254.9 239.9,254.9 240.1,254.9 240.2,253.8 240.2,253.8 240.6,253.1 240.9,252.9 240.8,251.4 241.4,251.4 241.3,252.0 241.7,251.5 241.9,251.4 242.5,250.6 242.6,250.6 242.9,249.8 243.2,251.0 243.8,250.1 244.4,250.6 244.3,250.5 245.1,250.4 245.4,250.7 245.9,249.9 246.1,250.2 246.7,250.8 246.8,250.5 247.3,250.7 247.8,250.4 248.2,250.5 248.4,251.5 248.9,252.3 249.2,251.5 249.4,251.8 249.7,251.2 250.3,252.5 250.5,252.1 251.2,252.9 251.6,253.1 251.6,253.3 251.6,254.0 251.7,254.3 251.9,255.3 252.1,254.4 252.5,255.8 252.6,256.4 252.6,256.3 252.8,256.5 252.9,256.8 253.0,256.0 253.3,255.8 253.2,255.3 253.5,255.1 253.9,254.9 253.9,253.7 254.0,254.6 254.4,253.9 254.8,253.0 254.5,253.1 255.0,252.3 255.0,251.8 255.5,252.3 255.7,252.4 255.7,253.0 256.4,253.7 256.4,253.9 256.8,254.2 256.9,254.8 257.3,255.4 257.5,255.2 257.8,254.7 257.9,256.4 257.8,256.7 258.0,256.7 258.1,256.8 258.6,257.8 258.4,258.1 258.3,258.4 258.6,259.3 258.9,259.4" fill="none" stroke="#000" stroke-width="1.5" stroke-linejoin="round" stroke-linecap="round"/>
<rect x="164.7" y="257.4" width="1.2" height="1.2" fill="#000"/>
<rect x="223.9" y="273.4" width="1.2" height="1.2" fill="#000"/>
<rect x="237.2" y="267.4" width="1.2" height="1.2" fill="#000"/>
<polyline points="289.5,43.6 289.5,43.2 290.0,43.0 290.5,42.4 290.6,42.0 291.2,42.6 291.5,41.8 291.8,41.8 292.2,42.4 292.6,42.0 293.4,43.0 293.5,42.9 293.5,42.6 294.0,42.9 294.2,43.1 294.9,42.8 295.0,40.1 295.7,44.3 295.7,43.1 295.8,44.3 296.2,42.8 296.3,41.9 296.6,42.0 296.7,43.1 297.3,41.2 297.3,42.2 297.6,40.5 297.7,41.1 297.8,40.7 298.2,40.1 298.8,39.4 299.0,40.0 299.4,39.8 299.9,41.0 300.2,40.4 300.9,40.5 301.2,41.4 301.6,41.1 302.0,41.5 302.0,40.0 302.1,41.7 302.2,42.4 302.6,42.4 302.3,42.4 302.6,44.2 302.8,43.9" fill="none" stroke="#000" stroke-width="1.5" stroke-linejoin="round" stroke-linecap="round"/>
<polyline points="304.8,31.3 305.6,31.3 305.8,31.6 306.0,30.8 306.7,29.9 307.1,30.5 307.2,30.4 308.1,30.2 308.2,31.1 308.7,31.0 309.1,31.6 309.4,30.9 309.7,32.1 310.1,32.3 310.5,31.8 311.0,32.4 311.2,32.6 311.4,32.5 311.2,36.7 312.0,34.1 312.0,34.1 312.2,34.5" fill="none" stroke="#000" stroke-width="1.5" stroke-linejoin="round" stroke-linecap="round"/>
<polyline points="328.9,31.7 329.2,31.2 330.0,32.3 330.2,31.7 330.8,31.9 330.9,33.4 331.7,31.7 331.9,33.0 332.4,32.3 332.6,32.3 333.4,32.7 333.2,33.3 334.2,33.2 334.2,33.1" fill="none" stroke="#000" stroke-width="1.5" stroke-linejoin="round" stroke-linecap="round"/>
<polyline points="347.6,24.4 347.8,26.1 348.1,25.2 347.9,26.0 348.5,26.7 348.4,26.3 348.4,27.5 348.6,27.5 348.8,28.0 348.8,29.2 349.5,27.9 349.7,28.0 350.4,28.0 350.8,27.4 351.1,28.1 351.5,27.3 351.8,26.8 352.3,26.4 352.7,27.2 353.1,28.2 353.4,27.4 354.0,27.2" fill="none" stroke="#000" stroke-width="1.5" stroke-linejoin="round" stroke-linecap="round"/>
<polyline points="372.0,22.2 372.1,22.5 372.3,22.3 372.8,22.8 373.1,22.7 373.8,22.6 374.1,23.0 374.6,23.2 374.6,23.5 375.3,22.8 375.4,23.3 376.4,22.4 376.4,22.5 377.1,22.0 377.4,22.7 377.8,22.9 378.2,22.5 378.5,21.6 379.0,22.4 379.2,22.1 379.3,23.0 379.5,23.2 380.0,22.4 380.4,22.2 380.9,21.6 381.1,21.7 381.5,22.0 381.6,20.9 382.2,20.9 382.1,20.8 382.7,20.8 383.2,21.2 383.4,21.0 384.0,21.6 384.2,21.7 384.8,21.0 385.2,21.2 385.5,21.0 385.9,21.7 386.2,22.3 387.0,20.7 387.2,21.0 387.8,21.3 388.1,21.1 388.7,21.2 389.4,20.5 389.6,20.9" fill="none" stroke="#000" stroke-width="1.5" stroke-linejoin="round" stroke-linecap="round"/>
<polyline points="398.5,23.5 399.1,23.3 399.3,23.4 399.8,23.6 400.2,23.7 400.5,22.3 401.1,22.7 401.3,22.6 401.6,25.5 401.8,21.9 402.5,22.2 402.7,21.3 403.0,22.2 403.7,21.0 403.9,21.8 404.5,22.4 405.0,22.4 405.5,22.7 405.8,21.9 406.3,21.7 406.6,23.0 407.3,23.0 407.8,22.5 408.1,22.3 408.5,22.9 408.6,23.8 409.0,24.1 409.5,24.2 409.8,23.9 410.0,23.4 410.2,24.7 411.1,24.8 410.9,25.2 411.3,24.9 411.4,25.3 411.8,25.8 412.2,27.2 412.5,26.3 413.1,25.6 413.5,25.0 413.8,25.3 414.1,24.0 414.6,24.5 414.9,24.9 415.4,24.3 416.0,23.8 416.1,25.6 416.8,23.9" fill="none" stroke="#000" stroke-width="1.5" stroke-linejoin="round" stroke-linecap="round"/>
<polyline points="425.8,22.9 426.4,21.2 426.8,23.0 427.0,23.0 427.4,21.3 427.7,22.0 428.0,23.0 428.4,21.7 429.0,21.8 429.3,20.8 429.8,21.5 430.1,21.4 430.3,20.6 430.8,21.6 431.3,21.5 431.9,21.8 432.3,22.0 432.7,21.8 432.8,21.6 433.4,23.3 433.6,21.8 434.2,22.3 434.5,23.2 435.0,22.7" fill="none" stroke="#000" stroke-width="1.5" stroke-linejoin="round" stroke-linecap="round"/>
<polyline points="442.8,23.5 443.0,23.8 443.6,25.1 443.8,25.1 444.7,24.5 444.2,26.2 444.5,26.2 444.5,26.9 445.1,26.5 445.2,27.2 445.7,26.1 445.7,26.7 446.5,26.7 446.6,26.5 447.1,26.4 447.2,26.0 447.8,25.1 448.2,24.1 448.7,25.2 448.9,23.4 449.2,24.7 449.6,24.2 449.9,24.2 450.2,23.1 450.2,22.8 450.6,23.7 451.1,23.3 451.2,22.6 451.2,22.2 451.4,22.1 451.4,20.9 451.5,20.9 452.0,20.6 452.1,19.8 452.2,18.9 452.4,19.4 452.4,19.2 452.8,19.1 452.8,18.3 452.8,17.7 453.0,16.4 453.3,16.8 453.5,16.6 453.8,16.3 454.5,16.9 454.7,17.1 455.6,16.5 456.0,16.2 456.3,16.4 456.7,16.7 457.0,16.9 457.5,16.0 457.8,17.5 458.5,17.5 458.7,16.6 459.2,16.3 459.7,16.1 459.8,15.5 460.1,17.1 460.7,17.0 461.1,17.0" fill="none" stroke="#000" stroke-width="1.5" stroke-linejoin="round" stroke-linecap="round"/>
<polyline points="473.5,15.7 474.1,15.6 474.3,16.1 474.8,17.2 475.1,15.6 475.6,16.6 476.2,16.3 476.2,16.3 476.8,15.2 477.3,15.8 477.7,16.3 478.2,16.5 478.8,16.0 479.0,16.8 479.5,17.1 479.7,17.1 479.9,17.2 480.3,17.1 481.0,18.3 481.3,18.4 481.8,17.8 482.4,18.1 482.7,19.1 482.9,18.0 483.4,18.1 483.7,18.0 484.2,19.0 484.5,18.7 484.8,20.1 485.4,20.0 485.7,19.1 486.2,20.0 486.5,19.6 486.8,19.7 487.7,20.0 487.5,20.1 487.9,19.7 488.5,19.1 488.8,19.7 489.3,19.2 489.4,19.0 489.8,19.1 490.2,17.7 490.5,18.7 491.2,17.8 491.4,17.9 491.9,17.7 492.3,17.9 492.6,16.6 493.0,16.4 493.8,18.3 494.0,17.7 494.5,17.7 494.6,17.1 495.7,17.5 496.1,17.1 496.3,16.5 496.8,17.0 497.4,17.9 497.3,18.7 498.1,18.7 498.4,19.3 498.9,19.6 499.4,19.6 499.8,18.8 499.9,18.7 500.3,18.5 500.8,19.3 501.1,19.6 501.6,20.4 502.0,20.0" fill="none" stroke="#000" stroke-width="1.5" stroke-linejoin="round" stroke-linecap="round"/>
<rect x="380.6" y="15.1" width="1.2" height="1.2" fill="#000"/>
<rect x="379.6" y="26.6" width="1.2" height="1.2" fill="#000"/>
<rect x="348.4" y="25.4" width="1.2" height="1.2" fill="#000"/>
<rect x="312.2" y="35.4" width="1.2" height="1.2" fill="#000"/>
<rect x="374.4" y="23.9" width="1.2" height="1.2" fill="#000"/>
<rect x="484.4" y="21.9" width="1.2" height="1.2" fill="#000"/>
<rect x="486.4" y="22.9" width="1.2" height="1.2" fill="#000"/>
<rect x="452.4" y="19.9" width="1.2" height="1.2" fill="#000"/>
<polyline points="289.0,132.7 289.3,133.3 289.6,132.2 289.9,131.3 289.8,131.3 289.9,130.0 289.9,128.1 290.4,130.5 291.0,129.3 290.8,128.8 291.1,128.3 291.3,128.0 291.6,127.3 292.4,133.0 292.5,127.8 292.8,128.8 293.1,127.1 293.5,126.8 294.2,127.1 294.5,125.8 294.7,126.7 295.2,126.7 295.3,126.2 295.5,125.1 296.0,124.8 296.4,124.7 296.5,124.9 297.0,125.8 297.4,124.8 297.8,124.5 298.3,125.0 298.8,124.8 299.3,125.1 299.8,124.8 299.4,126.6 299.6,125.9 299.8,127.0 299.9,126.2 300.1,127.7 300.1,127.5 300.0,127.0 300.1,129.1 300.3,128.5 300.4,130.1 300.6,130.3 300.6,129.8 300.6,129.7 301.1,130.2 301.4,130.8 302.0,131.0 302.6,129.3 302.7,129.7 303.0,130.2 303.2,128.3 303.3,128.5 304.0,128.7 304.3,126.9 304.7,129.1 305.1,127.9 305.3,127.5 305.5,126.9 305.8,127.9 306.2,128.3 306.9,128.8 307.1,129.3 307.6,127.4 308.0,127.8 308.3,128.5 308.6,128.1 309.4,128.1 309.6,129.0 310.0,129.1 310.5,128.8 310.7,128.8 311.5,128.9 311.6,128.7 312.2,128.3" fill="none" stroke="#000" stroke-width="1.5" stroke-linejoin="round" stroke-linecap="round"/>
<polyline points="425.9,129.4 426.3,130.2 426.5,128.6 427.4,129.7 427.7,129.6 427.7,129.9 428.5,129.9 428.7,129.8 429.5,129.5 429.4,130.8 430.0,132.4 430.6,129.6 430.6,131.2 431.5,131.1 431.5,130.9 432.1,129.8 432.7,129.9 433.0,130.4 433.3,130.2 433.9,128.6 434.3,129.9 434.9,129.7 435.0,130.2 435.4,130.4 435.8,130.4 436.1,130.7" fill="none" stroke="#000" stroke-width="1.5" stroke-linejoin="round" stroke-linecap="round"/>
<polyline points="441.5,127.7 442.8,126.6 442.6,127.5 443.4,128.6 443.3,127.1 443.8,127.5 444.4,128.2 444.9,128.6 445.3,128.8 445.4,127.8 445.9,128.1 446.3,128.0 446.7,126.8 446.7,128.0 447.5,126.2 447.5,126.2 448.2,126.4 448.0,126.9 448.9,125.7 448.9,125.8 449.0,128.7 449.2,124.9 449.6,124.0 450.0,124.1 449.8,124.6 450.2,122.0 450.5,124.5 450.6,123.1 450.9,123.2 451.0,121.9 451.3,122.9 451.2,124.4 451.1,124.2 451.4,123.9 451.2,125.0 451.5,126.2 451.4,126.2 451.7,126.5 451.8,124.9 451.7,128.0 451.9,127.9 451.9,127.6 451.9,129.0 452.5,128.1 452.6,128.2 453.1,127.7 453.5,128.2 454.0,129.4 454.6,129.4 455.0,129.1 455.6,128.6 456.0,129.0 456.0,130.1 456.7,130.0 457.0,130.4 457.8,129.9 457.9,130.4 458.4,130.5 458.8,130.3 459.3,131.0 459.7,131.2 460.0,130.7" fill="none" stroke="#000" stroke-width="1.5" stroke-linejoin="round" stroke-linecap="round"/>
<polyline points="473.6,130.3 474.1,131.1 474.3,130.3 474.9,131.8 475.3,130.5 475.7,131.6 475.9,129.4 476.4,129.7 476.9,128.7 477.4,129.2 477.8,129.2 477.9,129.3 478.4,128.8 479.4,129.1 479.3,131.1 479.4,130.7 479.9,129.7 480.1,131.2 479.9,132.6 480.4,132.5 480.9,132.5 480.9,132.0 481.5,131.1 481.2,133.1 481.6,133.6 481.7,133.7 482.2,133.4 482.2,134.9 482.5,134.7 482.8,135.4 483.4,134.9 483.6,135.3 484.0,135.3 484.8,136.0 485.0,135.6 485.6,135.7 486.0,136.3 486.3,136.3 487.0,135.0 487.3,134.5 487.5,137.3 488.1,135.1 488.5,134.2 489.0,135.7 489.3,136.2 489.9,134.3 490.1,134.4 490.3,134.6 490.9,135.3 491.2,135.6 491.5,134.4 491.9,133.7 492.0,133.4 492.3,132.7 492.8,133.3 492.8,132.6 493.0,132.2 493.6,131.8 494.0,131.6 494.3,130.9 494.8,131.5 495.1,131.3 495.7,130.6 495.9,132.5 496.4,130.3 497.0,131.7 497.6,130.7 498.1,132.2 498.4,130.7 499.0,130.9 499.2,130.4 499.5,133.4 500.1,131.5 500.4,131.9 500.7,132.2 501.2,131.4 501.7,130.8 502.0,131.8" fill="none" stroke="#000" stroke-width="1.5" stroke-linejoin="round" stroke-linecap="round"/>
<path d="M329.3 116.6h1.6v1.6h-1.6zM329.3 116.0h1.6v1.6h-1.6zM329.7 116.7h1.6v1.6h-1.6zM329.4 113.6h1.6v1.6h-1.6zM329.9 115.7h1.6v1.6h-1.6zM330.0 111.9h1.6v1.6h-1.6zM330.2 111.5h1.6v1.6h-1.6zM330.7 112.7h1.6v1.6h-1.6zM331.2 111.5h1.6v1.6h-1.6zM331.3 112.4h1.6v1.6h-1.6zM331.8 109.8h1.6v1.6h-1.6zM331.9 112.1h1.6v1.6h-1.6zM332.4 109.7h1.6v1.6h-1.6zM332.9 109.6h1.6v1.6h-1.6zM333.0 108.3h1.6v1.6h-1.6z" fill="#000"/>
<path d="M347.4 111.0h1.6v1.6h-1.6zM347.2 112.6h1.6v1.6h-1.6zM347.5 113.3h1.6v1.6h-1.6zM347.9 114.4h1.6v1.6h-1.6zM348.7 118.9h1.6v1.6h-1.6zM348.9 117.1h1.6v1.6h-1.6zM348.9 119.3h1.6v1.6h-1.6zM349.4 118.4h1.6v1.6h-1.6zM349.2 116.0h1.6v1.6h-1.6zM349.6 117.8h1.6v1.6h-1.6zM349.4 119.0h1.6v1.6h-1.6zM349.8 121.3h1.6v1.6h-1.6zM350.5 122.0h1.6v1.6h-1.6zM350.6 122.4h1.6v1.6h-1.6zM351.2 123.2h1.6v1.6h-1.6zM351.9 122.0h1.6v1.6h-1.6zM352.6 122.4h1.6v1.6h-1.6zM353.2 123.4h1.6v1.6h-1.6z" fill="#000"/>
<path d="M370.9 120.7h1.6v1.6h-1.6zM372.0 123.0h1.6v1.6h-1.6zM372.0 122.8h1.6v1.6h-1.6zM372.3 123.2h1.6v1.6h-1.6zM372.5 122.9h1.6v1.6h-1.6zM373.1 125.3h1.6v1.6h-1.6zM373.0 124.1h1.6v1.6h-1.6zM373.2 126.3h1.6v1.6h-1.6zM373.8 126.0h1.6v1.6h-1.6zM374.0 127.3h1.6v1.6h-1.6zM374.0 129.7h1.6v1.6h-1.6zM375.9 127.1h1.6v1.6h-1.6zM375.8 125.7h1.6v1.6h-1.6zM376.1 128.6h1.6v1.6h-1.6zM377.9 126.4h1.6v1.6h-1.6z" fill="#000"/>
<path d="M398.2 108.3h1.6v1.6h-1.6zM398.3 109.1h1.6v1.6h-1.6zM398.2 109.0h1.6v1.6h-1.6zM398.7 111.5h1.6v1.6h-1.6zM398.6 111.9h1.6v1.6h-1.6zM398.9 111.3h1.6v1.6h-1.6zM399.0 114.9h1.6v1.6h-1.6zM399.0 113.7h1.6v1.6h-1.6zM399.5 116.4h1.6v1.6h-1.6zM399.6 113.5h1.6v1.6h-1.6zM400.1 117.8h1.6v1.6h-1.6zM400.7 117.1h1.6v1.6h-1.6zM400.9 117.3h1.6v1.6h-1.6zM401.5 118.9h1.6v1.6h-1.6zM402.0 120.7h1.6v1.6h-1.6zM402.6 119.7h1.6v1.6h-1.6zM403.0 120.9h1.6v1.6h-1.6zM402.9 117.9h1.6v1.6h-1.6zM403.1 116.8h1.6v1.6h-1.6zM403.3 118.7h1.6v1.6h-1.6zM403.5 117.3h1.6v1.6h-1.6zM403.9 115.8h1.6v1.6h-1.6zM404.5 116.4h1.6v1.6h-1.6zM404.7 114.8h1.6v1.6h-1.6zM405.0 114.8h1.6v1.6h-1.6zM405.2 115.8h1.6v1.6h-1.6zM405.5 115.5h1.6v1.6h-1.6zM406.3 116.9h1.6v1.6h-1.6zM407.1 117.5h1.6v1.6h-1.6zM408.0 119.9h1.6v1.6h-1.6zM408.5 120.4h1.6v1.6h-1.6zM408.3 124.1h1.6v1.6h-1.6zM408.4 122.6h1.6v1.6h-1.6zM409.0 123.1h1.6v1.6h-1.6zM409.1 121.0h1.6v1.6h-1.6zM409.0 123.9h1.6v1.6h-1.6zM409.8 124.9h1.6v1.6h-1.6zM410.0 124.3h1.6v1.6h-1.6zM410.1 123.0h1.6v1.6h-1.6zM410.8 121.6h1.6v1.6h-1.6zM411.3 120.8h1.6v1.6h-1.6zM411.5 121.0h1.6v1.6h-1.6zM411.5 123.3h1.6v1.6h-1.6zM411.6 120.4h1.6v1.6h-1.6zM412.1 118.2h1.6v1.6h-1.6zM412.5 118.7h1.6v1.6h-1.6zM412.7 118.9h1.6v1.6h-1.6zM412.5 118.4h1.6v1.6h-1.6zM412.8 116.9h1.6v1.6h-1.6zM412.9 117.3h1.6v1.6h-1.6zM413.3 115.3h1.6v1.6h-1.6zM413.5 114.4h1.6v1.6h-1.6zM413.9 113.9h1.6v1.6h-1.6zM414.1 114.5h1.6v1.6h-1.6zM415.3 108.5h1.6v1.6h-1.6zM415.6 109.1h1.6v1.6h-1.6zM416.0 108.3h1.6v1.6h-1.6z" fill="#000"/>
<rect x="307.4" y="120.6" width="1.1" height="1.1" fill="#000"/>
<rect x="306.1" y="112.1" width="1.1" height="1.1" fill="#000"/>
<rect x="307.5" y="121.7" width="1.1" height="1.1" fill="#000"/>
<rect x="307.4" y="120.0" width="1.1" height="1.1" fill="#000"/>
<rect x="307.4" y="122.5" width="1.1" height="1.1" fill="#000"/>
<rect x="307.5" y="111.1" width="1.1" height="1.1" fill="#000"/>
<rect x="307.5" y="103.9" width="1.1" height="1.1" fill="#000"/>
<rect x="307.7" y="117.3" width="1.1" height="1.1" fill="#000"/>
<rect x="304.7" y="111.2" width="1.1" height="1.1" fill="#000"/>
<rect x="305.4" y="113.3" width="1.1" height="1.1" fill="#000"/>
<rect x="305.0" y="112.0" width="1.1" height="1.1" fill="#000"/>
<rect x="304.3" y="120.1" width="1.1" height="1.1" fill="#000"/>
<rect x="307.3" y="115.6" width="1.1" height="1.1" fill="#000"/>
<rect x="305.7" y="119.8" width="1.1" height="1.1" fill="#000"/>
<rect x="306.0" y="119.3" width="1.1" height="1.1" fill="#000"/>
<rect x="304.5" y="121.5" width="1.1" height="1.1" fill="#000"/>
<rect x="306.4" y="120.7" width="1.1" height="1.1" fill="#000"/>
<rect x="307.3" y="113.7" width="1.1" height="1.1" fill="#000"/>
<rect x="306.3" y="114.3" width="1.1" height="1.1" fill="#000"/>
<rect x="307.4" y="116.6" width="1.1" height="1.1" fill="#000"/>
<rect x="306.2" y="105.9" width="1.1" height="1.1" fill="#000"/>
<rect x="304.5" y="106.2" width="1.1" height="1.1" fill="#000"/>
<rect x="305.3" y="104.3" width="1.1" height="1.1" fill="#000"/>
<rect x="306.3" y="119.2" width="1.1" height="1.1" fill="#000"/>
<rect x="307.0" y="124.1" width="1.1" height="1.1" fill="#000"/>
<rect x="305.7" y="119.5" width="1.1" height="1.1" fill="#000"/>
<rect x="305.6" y="116.7" width="1.1" height="1.1" fill="#000"/>
<rect x="306.5" y="117.5" width="1.1" height="1.1" fill="#000"/>
<rect x="307.9" y="121.3" width="1.1" height="1.1" fill="#000"/>
<rect x="306.4" y="106.2" width="1.1" height="1.1" fill="#000"/>
<rect x="388.6" y="104.5" width="1.1" height="1.1" fill="#000"/>
<rect x="381.0" y="113.0" width="1.1" height="1.1" fill="#000"/>
<rect x="385.6" y="103.9" width="1.1" height="1.1" fill="#000"/>
<rect x="382.1" y="112.4" width="1.1" height="1.1" fill="#000"/>
<rect x="388.0" y="95.4" width="1.1" height="1.1" fill="#000"/>
<rect x="382.2" y="100.0" width="1.1" height="1.1" fill="#000"/>
<rect x="382.1" y="112.7" width="1.1" height="1.1" fill="#000"/>
<rect x="387.9" y="104.3" width="1.1" height="1.1" fill="#000"/>
<rect x="387.1" y="102.3" width="1.1" height="1.1" fill="#000"/>
<rect x="388.1" y="97.7" width="1.1" height="1.1" fill="#000"/>
<rect x="384.8" y="118.0" width="1.1" height="1.1" fill="#000"/>
<rect x="384.4" y="104.4" width="1.1" height="1.1" fill="#000"/>
<rect x="387.6" y="105.6" width="1.1" height="1.1" fill="#000"/>
<rect x="381.5" y="112.1" width="1.1" height="1.1" fill="#000"/>
<rect x="380.6" y="102.6" width="1.1" height="1.1" fill="#000"/>
<rect x="382.9" y="104.1" width="1.1" height="1.1" fill="#000"/>
<rect x="381.1" y="101.0" width="1.1" height="1.1" fill="#000"/>
<rect x="384.8" y="100.3" width="1.1" height="1.1" fill="#000"/>
<rect x="385.8" y="118.4" width="1.1" height="1.1" fill="#000"/>
<rect x="387.2" y="101.8" width="1.1" height="1.1" fill="#000"/>
<rect x="385.0" y="96.7" width="1.1" height="1.1" fill="#000"/>
<rect x="382.3" y="107.1" width="1.1" height="1.1" fill="#000"/>
<rect x="385.6" y="110.8" width="1.1" height="1.1" fill="#000"/>
<rect x="385.2" y="106.3" width="1.1" height="1.1" fill="#000"/>
<rect x="381.4" y="115.9" width="1.1" height="1.1" fill="#000"/>
<rect x="388.4" y="94.5" width="1.1" height="1.1" fill="#000"/>
<rect x="381.0" y="110.4" width="1.1" height="1.1" fill="#000"/>
<rect x="381.1" y="105.1" width="1.1" height="1.1" fill="#000"/>
<rect x="386.2" y="102.4" width="1.1" height="1.1" fill="#000"/>
<rect x="380.3" y="101.7" width="1.1" height="1.1" fill="#000"/>
<rect x="382.1" y="108.9" width="1.1" height="1.1" fill="#000"/>
<rect x="383.7" y="122.7" width="1.1" height="1.1" fill="#000"/>
<rect x="381.2" y="105.3" width="1.1" height="1.1" fill="#000"/>
<rect x="386.1" y="121.2" width="1.1" height="1.1" fill="#000"/>
<rect x="383.0" y="107.6" width="1.1" height="1.1" fill="#000"/>
<rect x="380.0" y="103.0" width="1.1" height="1.1" fill="#000"/>
<rect x="384.7" y="109.3" width="1.1" height="1.1" fill="#000"/>
<rect x="387.7" y="102.0" width="1.1" height="1.1" fill="#000"/>
<rect x="387.7" y="113.6" width="1.1" height="1.1" fill="#000"/>
<rect x="381.1" y="113.6" width="1.1" height="1.1" fill="#000"/>
<rect x="380.5" y="113.5" width="1.1" height="1.1" fill="#000"/>
<rect x="304.4" y="103.4" width="1.2" height="1.2" fill="#000"/>
<rect x="304.9" y="106.4" width="1.2" height="1.2" fill="#000"/>
<rect x="305.4" y="109.4" width="1.2" height="1.2" fill="#000"/>
<rect x="305.9" y="112.4" width="1.2" height="1.2" fill="#000"/>
<rect x="306.4" y="114.4" width="1.2" height="1.2" fill="#000"/>
<rect x="304.9" y="117.4" width="1.2" height="1.2" fill="#000"/>
<rect x="311.6" y="114.1" width="1.2" height="1.2" fill="#000"/>
<rect x="307.4" y="110.4" width="1.2" height="1.2" fill="#000"/>
<rect x="351.4" y="133.0" width="1.2" height="1.2" fill="#000"/>
<rect x="347.2" y="112.4" width="1.2" height="1.2" fill="#000"/>
<rect x="332.4" y="109.4" width="1.2" height="1.2" fill="#000"/>
<rect x="379.4" y="117.4" width="1.2" height="1.2" fill="#000"/>
<rect x="380.4" y="111.4" width="1.2" height="1.2" fill="#000"/>
<rect x="381.4" y="105.4" width="1.2" height="1.2" fill="#000"/>
<rect x="382.4" y="99.4" width="1.2" height="1.2" fill="#000"/>
<rect x="383.4" y="95.4" width="1.2" height="1.2" fill="#000"/>
<rect x="381.9" y="114.4" width="1.2" height="1.2" fill="#000"/>
<rect x="383.9" y="109.4" width="1.2" height="1.2" fill="#000"/>
<rect x="384.9" y="103.4" width="1.2" height="1.2" fill="#000"/>
<rect x="385.9" y="99.4" width="1.2" height="1.2" fill="#000"/>
<rect x="386.9" y="96.0" width="1.2" height="1.2" fill="#000"/>
<rect x="387.9" y="98.4" width="1.2" height="1.2" fill="#000"/>
<rect x="380.9" y="120.4" width="1.2" height="1.2" fill="#000"/>
<rect x="382.9" y="117.4" width="1.2" height="1.2" fill="#000"/>
<rect x="386.4" y="107.4" width="1.2" height="1.2" fill="#000"/>
<rect x="387.9" y="103.4" width="1.2" height="1.2" fill="#000"/>
<rect x="389.0" y="110.4" width="1.2" height="1.2" fill="#000"/>
<rect x="425.3" y="123.3" width="1.2" height="1.2" fill="#000"/>
<rect x="398.4" y="110.0" width="1.2" height="1.2" fill="#000"/>
<rect x="387.4" y="122.4" width="1.2" height="1.2" fill="#000"/>
<rect x="385.4" y="120.4" width="1.2" height="1.2" fill="#000"/>
<polyline points="289.1,200.2 289.7,200.5 290.0,200.5 290.5,200.8 290.9,201.5 291.0,200.7 291.5,201.7 292.0,200.7 292.5,201.5 293.0,202.2 293.3,202.5 294.0,200.3 294.4,201.9 294.7,202.0 295.3,201.8 295.6,201.7 295.8,201.5 296.3,201.3 296.5,202.6 296.9,202.0 297.4,202.6 298.1,202.1 298.5,203.1 298.8,203.1 299.2,202.9 299.3,202.3 300.2,203.1 300.3,203.7 300.8,202.4 301.1,203.8 301.7,202.9 302.1,204.4 302.6,204.8 302.7,203.9 302.8,203.4 303.4,203.1 303.4,203.0 303.9,199.5 304.3,201.5 304.7,201.4 304.9,201.8 305.2,200.2 305.8,200.1 306.1,201.3 306.1,199.8 306.8,200.8 307.2,200.7 307.7,198.4 307.7,198.7 308.0,197.8 308.4,198.7 308.4,198.2 308.4,196.0 308.8,197.8 309.0,196.2 309.1,194.1 309.2,196.9 309.4,200.1 309.4,197.8 309.8,197.1 309.9,197.4 309.9,196.9 309.9,198.1 310.3,197.4 310.7,199.5 310.8,200.5 311.0,199.0 311.3,198.3 311.2,200.6 311.4,199.1 311.4,198.8 311.5,199.3 311.8,198.6 311.8,198.0 311.5,197.6 311.9,197.6 311.8,196.5 311.8,196.4 312.1,196.3 312.0,195.7 312.2,195.2" fill="none" stroke="#000" stroke-width="1.5" stroke-linejoin="round" stroke-linecap="round"/>
<polyline points="328.6,198.5 329.2,200.0 329.8,199.8 330.1,199.4 330.6,200.0 330.9,199.9 331.5,199.3 332.1,200.3 332.4,200.0 332.8,198.5 333.1,199.6 333.5,199.7 334.2,199.8" fill="none" stroke="#000" stroke-width="1.5" stroke-linejoin="round" stroke-linecap="round"/>
<polyline points="398.3,197.5 399.1,199.4 399.5,201.0 399.8,199.8 400.3,198.7 400.4,197.0 400.8,197.7 401.1,198.1 401.7,198.6 402.4,197.8 403.1,198.6 403.0,197.0 403.7,199.6 404.2,198.4 404.5,199.0 405.0,199.6 405.6,199.6 405.6,198.3 406.3,198.4 407.1,199.8 407.4,199.7 407.7,198.8 408.0,199.3 408.5,199.2 409.2,199.6 409.5,199.7 410.1,199.4 410.5,198.5 410.9,198.9 411.6,198.1 411.8,198.7 412.3,197.2 412.8,197.3 413.1,199.2 413.4,200.0 413.7,198.8 414.2,199.6 414.4,200.5 414.5,200.2 415.5,198.3 415.8,200.3 416.2,200.9 416.5,200.3 416.8,200.7" fill="none" stroke="#000" stroke-width="1.5" stroke-linejoin="round" stroke-linecap="round"/>
<polyline points="425.8,195.1 425.7,194.8 426.0,197.1 426.3,196.1 426.2,195.8 426.1,197.1 426.3,197.9 426.6,197.5 426.6,198.6 426.6,199.6 426.8,200.1 427.3,199.4 427.2,200.3 428.1,199.0 428.2,198.5 428.8,199.2 429.3,198.4 429.6,197.5 429.7,197.8 430.1,197.7 430.9,198.0 431.7,201.2 431.9,198.6 432.2,198.9 432.9,198.5 433.2,199.1 433.3,199.6 433.9,198.9 434.7,199.7 435.0,199.5" fill="none" stroke="#000" stroke-width="1.5" stroke-linejoin="round" stroke-linecap="round"/>
<polyline points="441.9,194.3 442.1,193.7 442.7,195.9 442.8,195.0 443.3,195.6 443.9,195.4 444.0,194.8 444.4,196.7 444.8,196.9 445.4,196.6 445.7,198.5 446.0,195.8 446.3,198.2 446.8,197.8 447.2,197.6 447.3,198.5 447.8,197.6 448.2,197.7 448.6,198.0 448.6,199.0 448.9,197.6 449.3,199.4 450.0,200.1 450.0,199.7 450.7,197.1 450.8,200.7 451.0,201.6 451.0,201.1 451.4,202.8 451.7,200.5 451.5,203.8 452.1,203.6 452.3,202.8 452.6,202.6 452.6,205.2 453.2,203.4 453.5,203.8 454.1,205.0 454.8,204.7 455.2,205.0 455.3,204.6 455.7,203.7 456.4,205.3 456.6,204.8 457.2,203.3 457.7,204.4 458.2,204.5 458.5,205.7 458.8,206.3 459.3,205.3 459.7,205.3 460.0,205.2" fill="none" stroke="#000" stroke-width="1.5" stroke-linejoin="round" stroke-linecap="round"/>
<polyline points="473.6,205.5 474.4,205.1 474.4,205.1 475.0,204.4 475.4,204.7 475.8,204.1 476.3,204.7 476.7,205.1 476.8,204.2 477.3,204.3 477.8,204.7 478.3,203.8 478.6,204.0 479.4,204.7 479.6,203.2 480.0,204.6 480.7,203.0 480.7,204.5 481.4,204.9 481.7,203.9 482.1,204.7 482.4,203.9 483.0,204.3 483.5,204.1 483.7,203.2 484.1,203.9 484.7,203.3 484.8,204.1 485.5,203.8 485.9,202.5 486.2,203.1 486.6,203.3 487.1,202.9 487.7,202.4 488.2,202.9 488.4,202.1 488.7,203.0 489.2,203.9 489.5,203.4 490.0,203.9 490.3,202.9 490.9,202.2 491.2,204.0 491.7,202.7 491.8,202.8 492.4,203.1 493.0,202.2 493.2,204.0 493.7,204.1 494.1,202.8 494.7,201.9 495.1,201.8 495.9,202.9 495.7,202.8 496.3,203.3 496.9,203.7 497.4,202.8 497.7,204.5 498.3,202.7 498.4,202.5 499.1,203.3 499.3,203.8 499.8,204.6 500.4,204.1 500.8,204.0 500.9,203.8 501.4,203.9 502.0,204.1" fill="none" stroke="#000" stroke-width="1.5" stroke-linejoin="round" stroke-linecap="round"/>
<path d="M347.0 173.3h1.6v1.6h-1.6zM347.1 173.9h1.6v1.6h-1.6zM347.2 171.6h1.6v1.6h-1.6zM347.8 174.1h1.6v1.6h-1.6zM347.6 173.1h1.6v1.6h-1.6zM347.9 174.6h1.6v1.6h-1.6zM348.9 179.0h1.6v1.6h-1.6zM349.2 176.1h1.6v1.6h-1.6zM349.3 176.4h1.6v1.6h-1.6zM350.1 176.4h1.6v1.6h-1.6zM350.7 179.3h1.6v1.6h-1.6zM351.0 179.2h1.6v1.6h-1.6zM352.2 180.8h1.6v1.6h-1.6z" fill="#000"/>
<path d="M371.2 172.3h1.6v1.6h-1.6zM371.4 170.2h1.6v1.6h-1.6zM371.1 169.5h1.6v1.6h-1.6zM371.7 167.5h1.6v1.6h-1.6zM372.2 167.1h1.6v1.6h-1.6zM371.9 168.4h1.6v1.6h-1.6zM372.1 166.5h1.6v1.6h-1.6zM372.2 167.4h1.6v1.6h-1.6zM372.7 167.2h1.6v1.6h-1.6zM372.6 162.2h1.6v1.6h-1.6zM372.9 163.4h1.6v1.6h-1.6zM372.9 163.7h1.6v1.6h-1.6zM373.1 161.7h1.6v1.6h-1.6zM373.5 162.2h1.6v1.6h-1.6zM373.7 163.0h1.6v1.6h-1.6zM374.6 161.4h1.6v1.6h-1.6zM375.1 161.3h1.6v1.6h-1.6zM375.8 161.8h1.6v1.6h-1.6zM375.9 161.6h1.6v1.6h-1.6zM376.3 163.5h1.6v1.6h-1.6zM376.7 163.4h1.6v1.6h-1.6zM377.2 164.1h1.6v1.6h-1.6zM377.0 163.6h1.6v1.6h-1.6zM377.5 162.7h1.6v1.6h-1.6zM377.6 165.4h1.6v1.6h-1.6zM377.8 168.7h1.6v1.6h-1.6zM378.0 166.9h1.6v1.6h-1.6zM378.7 170.0h1.6v1.6h-1.6zM378.9 171.2h1.6v1.6h-1.6zM379.2 173.2h1.6v1.6h-1.6zM379.3 172.7h1.6v1.6h-1.6zM379.3 172.8h1.6v1.6h-1.6zM379.5 178.3h1.6v1.6h-1.6zM379.9 175.5h1.6v1.6h-1.6zM380.1 175.4h1.6v1.6h-1.6zM380.6 177.1h1.6v1.6h-1.6zM380.8 178.2h1.6v1.6h-1.6zM381.3 178.1h1.6v1.6h-1.6zM382.6 179.0h1.6v1.6h-1.6zM383.1 186.4h1.6v1.6h-1.6zM383.3 182.9h1.6v1.6h-1.6zM383.3 184.1h1.6v1.6h-1.6zM383.0 185.1h1.6v1.6h-1.6zM383.7 184.7h1.6v1.6h-1.6zM384.0 185.9h1.6v1.6h-1.6zM384.6 188.9h1.6v1.6h-1.6zM384.5 189.9h1.6v1.6h-1.6zM385.2 189.8h1.6v1.6h-1.6zM385.6 189.2h1.6v1.6h-1.6zM386.6 191.4h1.6v1.6h-1.6zM388.0 190.0h1.6v1.6h-1.6zM388.7 189.7h1.6v1.6h-1.6z" fill="#000"/>
<rect x="311.6" y="180.0" width="1.2" height="1.2" fill="#000"/>
<rect x="311.6" y="183.4" width="1.2" height="1.2" fill="#000"/>
<rect x="311.6" y="187.4" width="1.2" height="1.2" fill="#000"/>
<rect x="311.6" y="190.4" width="1.2" height="1.2" fill="#000"/>
<rect x="347.2" y="169.4" width="1.2" height="1.2" fill="#000"/>
<rect x="347.0" y="175.4" width="1.2" height="1.2" fill="#000"/>
<rect x="353.4" y="165.3" width="1.2" height="1.2" fill="#000"/>
<rect x="352.9" y="168.4" width="1.2" height="1.2" fill="#000"/>
<rect x="385.9" y="194.6" width="1.2" height="1.2" fill="#000"/>
<rect x="386.7" y="181.9" width="1.2" height="1.2" fill="#000"/>
<rect x="386.4" y="185.4" width="1.2" height="1.2" fill="#000"/>
<rect x="401.4" y="192.1" width="1.2" height="1.2" fill="#000"/>
<rect x="443.5" y="187.6" width="1.2" height="1.2" fill="#000"/>
<rect x="442.4" y="190.4" width="1.2" height="1.2" fill="#000"/>
<rect x="440.4" y="192.4" width="1.2" height="1.2" fill="#000"/>
<rect x="398.4" y="197.7" width="1.2" height="1.2" fill="#000"/>
<rect x="370.9" y="171.4" width="1.2" height="1.2" fill="#000"/>
<rect x="377.4" y="169.4" width="1.2" height="1.2" fill="#000"/>
<rect x="379.4" y="172.4" width="1.2" height="1.2" fill="#000"/>
<rect x="346.4" y="171.4" width="1.2" height="1.2" fill="#000"/>
<rect x="308.9" y="193.4" width="1.2" height="1.2" fill="#000"/>
<rect x="310.2" y="191.4" width="1.2" height="1.2" fill="#000"/>
<polyline points="289.1,249.4 289.6,251.0 290.1,251.5 290.5,251.8 290.8,251.6 291.2,251.6 291.4,252.6 292.0,253.1 292.1,251.4 293.1,251.6 293.1,251.8 293.8,252.3 294.3,252.9 294.7,251.8 294.9,252.8 295.5,250.0 296.1,252.3 296.1,253.0 296.8,252.2 297.1,251.8 297.7,251.6 298.0,251.6 298.5,251.7 298.9,251.3 299.3,252.6 299.7,253.2 300.2,251.9 300.7,253.2 301.2,251.5 301.4,252.0 302.0,250.7 302.3,251.0 302.7,250.7 302.9,250.9 302.8,250.1 302.9,248.8 303.0,249.8 303.3,249.0 303.2,248.6 303.4,249.3 303.1,247.3 303.2,247.0 303.4,246.1 303.7,245.3 303.8,246.3 303.3,246.1 303.7,245.2 303.7,245.0 303.8,243.5 303.5,244.3 304.2,244.0 304.0,242.6 303.9,241.1 304.0,242.5 304.1,241.2 304.1,241.6 304.4,240.6 304.3,239.6 304.3,239.5 304.3,239.3 304.7,239.3 304.7,239.2 304.8,237.8 304.7,237.8 305.1,237.0 304.7,236.9 305.0,238.1 305.3,237.7 305.2,238.8 305.4,238.5 305.5,238.9 305.8,240.1 306.1,239.5 305.8,241.1 305.6,240.9 305.9,241.2 306.3,241.3 306.1,241.1 306.3,240.1 306.2,239.9 306.4,239.9 306.9,238.9 306.5,238.4 306.9,237.6 307.0,238.0 306.9,239.0 307.0,236.2 307.2,236.4 307.3,235.6 307.4,236.2 307.9,236.2 307.7,234.6 307.8,235.1 308.2,233.4 308.2,233.9 308.1,232.8 308.3,233.4 308.7,233.9 308.9,232.2 309.4,231.9 309.7,231.6 310.2,231.7 310.4,230.9 310.9,229.6 311.2,232.7 311.7,232.2 311.8,232.9 311.9,233.3 312.0,234.4 311.6,232.5 311.7,233.8 311.7,234.7 311.9,235.2 311.9,236.3 311.7,236.2 311.5,235.8 312.0,236.3 311.9,237.3 312.1,238.2 311.8,238.2 312.0,238.8 312.0,237.8 312.0,239.1 311.9,239.6 312.0,239.4 312.1,241.2 312.3,241.0 312.3,240.9 312.2,242.1 312.0,242.2 311.8,242.1 312.1,243.2 311.7,242.8 312.1,243.9 312.2,244.7 312.1,245.0 312.3,244.9 312.2,245.4" fill="none" stroke="#000" stroke-width="1.5" stroke-linejoin="round" stroke-linecap="round"/>
<polyline points="328.9,238.4 328.9,239.1 329.0,237.9 329.3,237.1 329.2,236.6 329.6,237.5 329.8,236.9 330.0,235.1 330.0,235.9 330.4,235.4 330.6,234.7 331.0,235.6 331.3,234.6 331.5,236.2 332.0,235.3 332.5,236.1 332.7,236.2 333.1,237.1 333.3,236.9 333.4,236.1 333.7,237.8 334.0,239.6 334.2,238.7" fill="none" stroke="#000" stroke-width="1.5" stroke-linejoin="round" stroke-linecap="round"/>
<polyline points="345.6,231.7 345.9,231.2 345.8,231.6 345.9,232.7 346.1,231.5 345.9,233.1 346.0,232.1 346.3,234.1 346.1,234.4 346.3,234.8 346.4,235.0 346.2,235.4 346.3,236.0 346.5,235.7 346.6,236.1 346.4,236.8 346.7,236.7 346.7,237.1 347.0,238.4 346.8,238.4 346.9,239.2 347.1,238.7 346.7,240.4 346.7,240.5 346.9,240.1 346.9,240.9 347.3,240.8 347.0,242.5 347.1,241.9 347.3,242.0 347.0,242.7 347.3,243.2 347.3,244.4 347.3,244.6 347.5,244.7 347.6,245.0 347.5,244.2 347.8,246.4 347.5,245.9 347.7,246.3 347.7,247.0 347.6,247.2 348.0,248.3 347.7,248.5 348.0,248.7 347.7,248.8 348.0,247.1 348.0,246.9 348.1,246.2 348.1,245.8 348.1,245.4 348.2,245.8 348.2,245.3 347.9,244.6 348.5,244.2 348.3,243.0 348.5,243.4 348.1,243.4 348.6,240.1 348.5,243.5 348.7,241.8 348.4,241.1 348.6,241.1 348.5,240.0 348.7,238.9 348.7,239.7 349.0,239.6 349.0,238.4 349.2,238.9 349.2,237.4 349.3,238.3 349.5,237.7 349.5,237.6 349.7,236.6 349.8,235.8 349.9,235.7 350.0,233.1 350.0,235.0 350.2,234.9 350.9,236.1 351.0,235.2 351.8,236.0 352.3,236.1 352.7,236.5 352.6,236.5 353.0,237.0 353.5,236.1 354.0,237.0" fill="none" stroke="#000" stroke-width="1.5" stroke-linejoin="round" stroke-linecap="round"/>
<polyline points="372.7,238.7 372.8,238.1 373.2,238.6 373.0,236.5 373.0,236.7 373.3,236.4 373.1,236.3 373.3,236.1 373.4,236.4 373.5,236.2 373.6,235.7 373.6,234.7 373.6,234.0 373.8,233.8 373.9,232.8 373.8,232.1 374.1,231.4 373.8,231.1 374.3,231.6 374.2,230.5 374.5,231.0 374.3,229.6 374.6,230.3 374.9,229.2 375.1,229.8 375.3,229.1 375.1,229.0 375.2,228.2 375.5,226.2 376.0,227.3 375.9,227.2 376.1,225.9 376.8,225.6 377.5,227.1 377.3,225.8 377.5,226.4 377.7,227.4 377.9,227.6 377.9,227.7 378.1,228.4 378.3,227.8 378.3,229.1 378.6,230.8 378.7,229.3 379.0,230.2 379.0,230.9 379.2,230.6 379.3,230.9 379.2,230.7 379.3,231.3 379.3,231.9 379.3,232.9 379.4,232.6 379.4,233.6 379.5,233.9 379.5,234.6 379.2,234.7 379.7,234.2 379.5,235.5 379.5,235.6 379.5,236.3 379.5,235.6 379.8,236.1 379.7,238.0 379.8,237.9 379.7,238.4 379.8,239.4 379.7,239.0 379.9,239.9 379.5,240.1 379.6,240.5 379.8,240.8 379.7,240.7 379.9,241.0 379.9,241.4 380.0,241.3 379.6,243.6 380.1,243.0 380.1,243.1 379.8,243.2 380.1,243.8 380.1,244.9 380.0,247.2 380.3,245.3 379.9,246.3 380.1,246.7 380.4,245.2 380.5,245.6 380.8,245.8 381.0,244.7 380.7,244.3 380.8,244.5 381.4,242.5 381.4,243.4 381.5,242.6 381.6,241.9 381.8,240.9 382.3,242.1 382.2,241.7 382.3,240.6 382.2,240.7 382.9,239.7 382.7,239.5 382.9,238.3 382.9,239.2 383.2,238.0 383.1,237.4 383.2,238.3 383.3,237.1 383.4,237.1 383.5,235.6 383.7,236.2 383.7,235.9 383.8,235.9 384.1,234.4 384.1,234.2 384.2,233.6 384.4,233.4 384.7,233.4 385.0,233.1 384.8,232.2 384.8,232.2 385.1,232.6 385.3,231.2 385.5,230.8 385.9,230.3 386.1,231.8 386.0,230.2 386.1,231.7 386.5,231.9 386.6,232.3 387.0,232.5 387.2,234.0 387.1,235.1 387.2,234.4 387.5,236.0 387.9,236.2 388.1,235.3 388.6,236.2 388.7,236.5 388.9,236.1 389.3,237.6 389.6,237.3 389.6,238.1" fill="none" stroke="#000" stroke-width="1.5" stroke-linejoin="round" stroke-linecap="round"/>
<polyline points="398.6,238.9 398.8,240.4 398.8,239.9 399.4,241.9 399.5,242.0 399.6,240.7 399.9,242.0 400.0,243.5 400.2,243.6 400.5,242.9 400.5,243.7 400.7,245.0 400.9,245.6 400.8,245.2 401.5,245.6 401.6,245.4 402.0,246.1 402.1,245.4 402.7,246.0 403.0,246.0 403.3,247.0 403.8,247.3 404.0,248.3 404.5,247.6 404.8,248.6 405.5,247.3 405.6,247.8 406.1,249.1 406.5,248.5 406.8,248.9 407.2,249.0 407.6,249.6 407.9,249.4 408.6,249.1 409.1,249.3 409.5,249.2 409.9,248.7 410.6,248.6 411.0,249.3 411.3,248.5 412.0,248.3 412.3,248.8 412.6,248.1 413.1,247.4 412.9,247.8 413.6,247.1 414.0,246.2 414.1,246.7 414.3,245.9 414.8,246.0 415.3,246.2 416.0,246.3 416.2,246.5 416.6,246.5 417.1,245.6 417.8,247.3 418.0,247.0" fill="none" stroke="#000" stroke-width="1.5" stroke-linejoin="round" stroke-linecap="round"/>
<polyline points="424.7,233.9 425.1,234.0 425.4,234.0 425.4,234.5 425.5,234.1 425.7,234.9 426.1,235.1 426.1,235.2 426.4,236.0 426.7,236.3 427.1,236.7 427.0,237.6 427.5,237.6 427.9,237.8 428.2,237.8 428.6,238.7 428.9,239.0 429.0,238.8 429.4,238.9 429.6,240.2 430.2,240.0 430.4,236.1 431.1,240.6 431.2,241.6 431.7,240.3 432.0,240.0 432.3,239.6 432.2,241.1 432.9,241.2 433.3,242.5 433.4,242.2 434.0,242.2 434.2,242.2 434.6,243.7 434.8,243.9 435.3,243.4 435.2,244.7 435.8,245.0 436.1,244.7" fill="none" stroke="#000" stroke-width="1.5" stroke-linejoin="round" stroke-linecap="round"/>
<polyline points="441.5,250.4 442.3,250.9 442.5,251.1 443.0,250.9 443.4,251.5 444.0,252.0 444.2,251.5 445.0,251.5 445.0,252.0 445.4,251.4 446.3,252.6 446.7,252.6 447.1,252.8 447.3,252.8 448.0,253.7 448.0,254.9 448.7,253.5 448.7,253.5 449.3,253.8 449.5,254.3 450.1,254.8 450.2,254.9 450.4,255.2 450.6,256.6 450.5,256.3 450.7,256.5 451.1,260.0 451.0,252.4 451.0,258.8 451.0,263.3 451.1,259.0 450.9,259.1 451.4,260.5 451.3,260.6 451.5,261.2 451.4,261.3 451.6,262.9 451.4,262.1 451.4,263.1 451.5,261.4 451.7,262.7 451.6,263.3 451.8,264.5 451.6,264.4 451.7,265.2 451.9,265.1 452.2,266.1 451.7,266.4 452.6,266.5 452.5,266.5 453.0,267.1 453.2,267.6 453.9,267.3 453.9,267.5 454.6,266.9 454.6,268.7 455.0,268.1 455.6,268.2 455.7,268.3 456.4,268.2 456.8,268.8 457.1,269.0 457.6,269.0 457.9,268.3 458.4,269.4 458.8,269.2 459.0,268.7 459.7,269.5 460.0,269.0 460.2,269.7 460.7,269.7 461.1,269.7" fill="none" stroke="#000" stroke-width="1.5" stroke-linejoin="round" stroke-linecap="round"/>
<polyline points="472.4,269.0 472.8,272.2 473.1,268.3 473.4,268.8 473.9,268.1 474.4,268.6 474.9,268.8 475.1,268.8 475.8,267.8 476.0,267.9 476.6,268.4 477.0,268.2 477.3,268.5 477.8,268.4 478.2,268.3 478.5,268.0 479.2,268.2 479.1,267.7 479.7,268.3 480.4,267.8 480.4,268.0 480.9,267.3 481.4,268.2 482.0,267.4 482.2,268.2 482.6,266.3 483.2,266.8 483.4,266.5 484.1,266.1 484.4,266.7 485.0,264.0 485.2,267.0 485.6,266.9 485.9,266.3 486.2,266.4 486.8,265.7 487.2,266.7 487.8,266.1 488.0,266.9 488.8,266.1 489.0,267.0 489.6,263.8 490.0,265.9 490.3,267.4 490.9,267.1 491.3,266.8 491.7,267.0 492.2,267.4 492.5,267.1 492.9,268.5 493.5,267.6 493.8,267.2 494.1,267.6 494.7,268.5 495.2,268.1 495.5,268.3 496.1,267.9 496.5,267.7 496.8,268.6 497.3,267.9 497.6,268.1 497.8,267.9 498.3,268.6 498.8,267.2 499.3,268.4 499.6,267.5 499.9,268.7 500.3,267.9 500.8,266.4 501.1,267.7 501.6,268.4 502.0,268.1" fill="none" stroke="#000" stroke-width="1.5" stroke-linejoin="round" stroke-linecap="round"/>
<rect x="305.4" y="244.4" width="1.2" height="1.2" fill="#000"/>
<rect x="305.9" y="247.4" width="1.2" height="1.2" fill="#000"/>
<rect x="306.4" y="250.4" width="1.2" height="1.2" fill="#000"/>
<rect x="304.4" y="243.4" width="1.2" height="1.2" fill="#000"/>
<rect x="347.2" y="249.4" width="1.2" height="1.2" fill="#000"/>
<rect x="371.9" y="238.9" width="1.2" height="1.2" fill="#000"/>
<rect x="389.2" y="237.9" width="1.2" height="1.2" fill="#000"/>
<rect x="384.4" y="229.3" width="1.2" height="1.2" fill="#000"/>
<rect x="387.8" y="231.6" width="1.2" height="1.2" fill="#000"/>
<rect x="388.9" y="236.1" width="1.2" height="1.2" fill="#000"/>
<circle cx="372.6" cy="239.3" r="1.4" fill="#000"/>
<circle cx="389.8" cy="238.5" r="1.4" fill="#000"/>
<polyline points="46.9,315.5 47.3,315.2 47.5,315.1 48.0,315.3 48.4,315.2 48.7,315.7 49.3,315.7 49.5,315.5 49.9,315.5 50.3,316.0 50.9,316.1 51.3,315.6 51.3,315.8 51.9,315.0 52.1,315.8 52.6,316.0 53.0,315.6 53.1,316.3 54.1,315.5 54.4,315.8 54.9,315.8 55.2,316.5 55.5,315.1 56.0,316.0 56.2,315.9 56.9,315.8 57.3,316.2 57.4,316.2 58.1,315.8 58.3,316.0 59.0,316.7 59.3,317.1 59.5,316.5 60.1,316.7 60.5,317.0 60.9,317.0 61.1,316.9 61.8,317.4 62.1,317.6 62.5,317.2 62.7,317.4 63.2,316.7 63.8,316.7 64.1,317.3 64.4,317.2 65.0,317.4 65.2,317.1 65.4,316.7 66.0,317.1 66.3,317.3 66.7,317.0 67.5,317.6 67.6,317.6 68.0,316.9 68.3,317.2 68.9,317.2 69.4,317.3 69.7,316.9 70.0,317.1 70.1,317.6 70.8,317.8 71.3,317.0 71.5,316.9 72.0,316.9 72.6,317.7 72.7,317.1 73.2,318.2 73.6,317.3 73.9,317.1 74.2,317.3 74.7,317.4 75.1,317.1 75.5,317.5 76.1,317.0 76.3,317.7 76.8,317.1 77.3,317.0 77.9,316.8 78.3,317.1 78.3,317.7 78.8,317.4 78.9,317.6 79.9,317.1 80.1,316.7 80.2,317.2 80.8,317.3 81.2,316.7 81.6,316.8 81.9,317.2 82.5,317.6 82.6,316.4 83.2,317.1 83.7,316.8 84.1,317.2 84.2,316.7 84.9,317.4 85.2,317.5 85.8,317.3 86.1,317.0 86.7,316.9 86.8,317.1 87.3,317.4 87.6,316.5 87.8,317.6 88.4,316.5 88.9,317.2 89.2,317.2 89.5,317.2 89.9,317.4 90.4,317.3 90.5,317.5 91.4,317.4 91.5,317.0 91.9,317.5 92.2,317.6 92.7,317.6 93.2,316.8 93.6,317.0 93.7,317.0 94.3,317.2 94.9,317.6 95.2,317.5 95.5,317.8 95.9,317.2 96.5,317.0 96.7,317.0 97.3,316.9 97.7,317.4 98.2,317.3 98.5,317.3 98.6,317.4 99.1,317.1 99.6,316.6 99.8,317.3 100.4,316.8 100.7,316.6 101.1,317.0 101.7,316.9 101.6,316.7 102.4,317.5 102.7,317.1 103.2,317.5 103.5,317.0 104.0,317.0 104.5,316.7 104.5,316.9 105.2,316.9 105.6,316.7 105.9,316.4 106.2,316.7 106.5,316.9 107.3,317.6 107.6,317.6 107.8,317.2 108.3,316.3 108.8,316.9 109.2,317.3 110.0,317.0 110.2,317.3 110.5,316.4 110.6,317.1 111.4,316.7 111.6,317.1 112.0,317.2 112.2,317.2 112.5,317.2 113.0,316.8 113.4,316.7 113.9,316.8 114.6,316.6 114.7,316.6 115.3,316.1 115.5,316.8 116.2,316.6 116.3,316.6 116.8,316.4 117.3,317.2 117.9,316.8 117.9,316.6 118.4,317.2 118.8,316.9 119.3,316.9 119.7,316.6 120.1,316.9 120.3,316.4 121.0,317.1 121.3,316.8 121.3,317.0 122.0,316.5 122.3,316.9 122.9,316.5 123.4,316.5 123.8,316.7 124.0,317.1 124.5,317.0 124.7,316.8 124.9,317.1 125.5,316.7 125.6,316.8 126.6,317.0 127.0,317.1 127.4,316.3 127.9,316.9 128.1,317.0 128.3,316.4 128.8,316.6 129.2,316.5 129.5,316.7 130.2,316.3 130.0,316.3 130.9,316.9 131.4,316.0 131.7,316.5 132.1,315.8 132.5,315.3 133.0,314.2 133.1,314.4 133.7,315.2 133.6,314.2 134.3,315.2 134.6,313.4 135.0,314.5 135.2,312.0 135.5,312.7 135.9,311.9 136.4,311.7 136.5,313.1 137.0,312.4 137.2,312.3 137.7,311.3 138.1,313.0 138.7,311.5 139.3,311.7 139.4,311.7 139.9,310.8 140.3,310.1 140.4,310.8 140.9,312.0 141.1,316.7 141.6,312.6 141.8,313.0 142.0,313.3 142.3,313.5 142.9,313.3 143.0,313.4 143.5,313.4 143.6,314.3 144.1,315.3 144.2,315.7 144.9,313.7 145.4,314.7 145.6,313.8 146.1,315.9 146.3,313.4 147.3,314.5 147.5,314.0 147.8,313.6 148.2,314.5 148.7,313.2 149.0,314.5 149.5,313.5 150.0,314.6 150.4,314.1 150.7,314.1 151.3,313.3 152.0,315.3 152.0,314.0 152.7,313.4 152.8,313.6 153.5,315.1 154.0,312.9 154.2,315.4 154.4,312.9 154.8,314.2 155.2,317.5 155.8,316.9 156.3,313.4 156.6,313.6 157.2,315.6 157.6,314.9 157.9,314.4 158.2,314.9 158.9,313.0 159.2,315.1 159.6,314.1 159.9,314.5 160.2,313.9 160.7,314.5 161.2,314.8 161.6,314.1 161.9,312.3 162.5,313.6 162.4,313.1 163.1,312.5 163.4,313.0 163.7,315.7 164.1,314.2 164.2,315.5 164.4,315.6 165.0,316.5 165.1,316.6 165.4,315.9 165.7,315.8 165.8,316.0 165.6,316.2 166.0,318.4 165.9,318.4 166.2,317.1 166.0,318.8 166.0,319.6 166.0,321.2 166.1,320.1 165.9,320.3 166.4,320.4 166.3,320.7 166.3,322.5 166.7,321.6 166.5,323.4 166.7,322.4 166.8,322.6 166.8,323.2 167.1,323.7 167.0,321.8 167.0,324.7 167.3,324.6 167.3,326.2 167.1,326.1 167.3,324.6 167.4,325.0 167.4,326.0 167.6,323.7 167.3,325.0 167.7,325.6 167.7,322.9 167.9,323.6 168.0,321.9 168.1,322.2 168.0,321.7 168.2,322.1 168.4,322.7 168.1,319.1 168.5,320.3 169.0,317.3 168.9,320.3 169.0,318.5 169.7,319.4 169.8,319.4 170.2,317.8 170.4,318.1 170.7,316.4 171.2,318.6 172.1,320.6 172.1,318.0 172.2,317.5 172.7,316.7 173.0,318.5 173.4,317.6 173.9,318.3 174.3,317.8 174.7,318.2 175.1,322.1 175.5,316.9 175.9,317.9 176.3,317.5 176.6,317.8 177.3,320.5 177.4,318.2 178.1,317.9 178.6,318.9 178.5,319.0 179.2,319.9 179.1,321.0 179.9,320.3 180.1,319.6 180.6,326.6 181.1,321.1 181.4,319.5 181.6,319.3 182.1,319.5 182.9,319.2 183.1,320.2 183.2,319.1 183.8,318.1 184.3,318.7 184.4,317.9 184.7,317.8 185.2,318.7 186.1,319.3 186.1,316.6 186.4,319.2 186.9,317.9 187.3,319.7 187.8,319.0 188.2,317.6 188.6,317.0 188.9,320.7 189.2,316.1 189.8,319.3 190.2,319.7 190.8,317.8 190.6,321.2 191.4,320.2 191.9,314.3 192.4,318.1 192.6,321.1 193.1,319.9 193.4,320.7 193.6,319.6 194.2,319.9 194.3,320.2 194.8,319.2 195.3,320.1 195.7,321.1 196.1,321.2 196.5,319.5 196.9,322.0 197.1,320.8 197.7,321.8 198.3,319.9 198.3,321.8 198.7,322.8 199.1,320.6 199.6,321.6 200.0,320.7 200.1,321.3 200.6,320.3 200.7,316.8 201.4,318.8 201.5,320.0 202.0,318.8 202.3,319.2 202.8,319.5 203.3,318.6 203.6,318.4 204.0,318.7 204.5,317.8 205.0,317.0 205.0,317.7 205.6,318.3 206.1,317.4 206.3,315.3 206.5,317.9 207.1,318.3 207.7,318.1 208.0,317.6 208.5,316.8 208.9,317.8 209.2,316.6 209.5,317.8 209.9,317.4 210.3,319.6 210.8,317.4 211.3,318.3 211.8,317.2 212.1,320.4 212.5,318.3 212.7,318.4 213.4,316.6 214.1,318.1 214.2,318.9 214.5,316.8 214.7,316.3 215.2,320.4 216.0,317.1 216.0,317.5 216.9,318.9 216.8,318.7 217.6,318.4 217.8,323.2 218.2,317.6 218.7,316.9 219.2,319.1 219.6,319.3 220.1,317.2 220.2,319.1 220.7,318.0 221.3,315.9 221.5,318.1 221.7,315.3 222.3,316.8 222.8,317.9 223.4,320.2 223.6,317.8 224.2,317.0 224.4,317.9 224.9,319.2 225.0,318.6 225.8,317.3 226.2,318.4 226.5,318.5 226.9,320.1 227.3,317.9 227.7,317.5 228.1,319.2 228.6,320.4 228.8,318.9 229.3,321.5 229.7,318.6 229.9,320.0 230.4,320.5 230.9,320.5 231.1,321.3 231.6,321.4 231.7,321.7 232.4,321.7 232.5,322.0 233.1,320.5 233.5,321.3 233.8,321.5 234.2,319.3 234.3,319.1 235.1,318.6 235.7,318.1 235.8,318.5 236.0,317.8 236.4,320.4 237.1,317.4 237.5,319.2 237.8,318.7 238.3,320.0 238.7,317.2 239.1,320.2 239.4,318.0 239.9,318.9 240.3,318.0 240.6,315.2 241.1,317.3 241.9,318.8 241.9,319.2 242.6,319.3 243.0,318.5 243.6,316.9 243.9,316.7 244.2,318.9 244.4,317.5 245.0,317.7 245.5,318.3 245.9,318.3 246.3,319.4 246.6,318.2 247.1,317.5 247.6,317.4 248.0,319.4 248.3,318.7 248.9,318.5 249.1,318.7 249.7,317.5 250.0,321.7 250.4,318.0 251.1,314.8 251.3,319.3 252.0,319.0 252.2,318.8 252.8,319.3 253.0,319.6 253.7,318.3 254.0,319.9 254.5,320.7 254.5,323.4 254.8,320.8 255.4,321.1 255.8,321.6 256.1,320.7 256.5,320.7 256.7,320.8 256.9,323.5 257.3,322.4" fill="none" stroke="#0000ff" stroke-width="1.6" stroke-linejoin="round" stroke-linecap="round"/>
<polyline points="46.6,317.8 46.8,317.8 47.6,317.6 48.0,317.5 48.0,317.9 49.1,317.5 49.0,317.7 49.6,317.7 50.0,318.3 50.4,316.7 50.7,318.1 51.2,317.4 51.6,317.7 52.1,317.8 52.1,317.5 52.6,316.5 52.7,316.7 52.9,316.2 53.5,316.0 53.9,316.4 54.2,316.5 54.5,316.1 55.0,315.9 55.2,316.3 55.5,316.4 55.7,317.5 56.1,317.7 56.1,317.6 56.0,318.4 55.8,318.4 55.8,319.2 55.7,319.9 55.5,319.7 55.2,320.5 54.6,320.4 54.0,320.4 53.9,320.0 53.3,320.0 53.3,319.6 53.1,319.2 53.2,318.9 53.1,318.6 53.2,318.7 53.6,318.5 53.8,318.3 54.4,319.0 54.7,318.8 55.1,318.3 55.7,318.2 56.2,318.8 56.3,318.8 56.6,318.8 57.2,318.7 57.8,318.5 58.2,318.8 58.3,319.4 59.1,319.1 59.2,319.4 59.5,319.0 60.3,319.2 60.7,319.5 61.0,319.7 61.5,319.5 61.9,319.0 62.5,319.0 62.7,319.7 63.2,319.5 63.6,319.6 63.8,319.6 64.0,319.9 64.7,319.7 65.0,319.9 65.6,319.4 66.0,319.9 66.4,319.1 66.7,319.7 66.9,319.2 67.3,319.6 67.9,319.5 68.3,319.9 68.8,319.6 69.2,319.8 69.7,319.5 70.0,318.9 70.9,319.4 70.9,319.5 71.4,319.7 71.4,320.1 72.0,319.3 72.3,319.7 72.7,319.3 73.2,319.5 73.6,319.6 74.1,319.7 74.7,319.1 74.7,319.6 75.2,319.5 75.6,319.2 76.1,319.5 76.3,319.5 77.0,319.2 77.0,319.6 77.7,319.1 78.2,318.9 78.2,319.1 78.7,319.1 79.2,319.7 79.8,319.7 79.8,318.9 80.6,319.6 80.7,319.4 81.3,319.7 81.6,319.5 81.9,319.5 82.4,319.4 82.7,318.9 83.2,319.6 83.8,319.4 84.2,319.1 84.5,319.1 84.8,319.4 85.2,318.9 85.4,319.6 85.9,319.5 86.3,319.3 86.9,319.5 87.3,319.2 87.6,319.2 88.0,319.6 88.3,318.6 88.6,319.1 89.2,318.9 89.5,319.2 90.0,319.5 90.5,319.1 90.7,319.8 91.0,319.2 91.4,319.4 92.2,319.3 92.4,319.3 92.7,318.9 92.9,318.3 93.3,319.5 94.1,318.8 94.2,319.4 94.9,318.6 95.0,318.9 95.3,319.0 96.2,319.2 96.2,319.4 96.8,319.1 97.3,319.4 97.6,319.2 97.8,319.1 98.3,318.9 98.6,319.2 99.1,319.6 99.5,318.5 100.1,319.1 100.8,319.3 100.8,318.6 101.2,318.9 101.5,318.5 102.1,319.1 102.8,318.9 102.8,318.7 103.0,319.0 103.8,318.9 104.2,318.8 104.4,319.6 104.9,318.8 105.4,318.8 105.5,318.8 106.0,319.0 106.2,319.3 106.5,318.7 107.1,318.3 107.6,318.7 107.8,318.8 108.6,319.4 108.7,318.4 109.3,319.0 109.5,319.1 109.7,318.9 110.6,318.1 110.7,318.0 111.2,318.6 111.6,318.6 112.1,318.8 112.3,318.2 112.6,319.0 113.3,318.6 113.5,318.2 114.1,319.0 114.6,319.2 114.8,318.6 115.3,319.0 115.5,318.4 116.0,318.9 116.3,318.7 116.8,318.8 117.0,318.7 117.9,318.0 118.1,318.7 118.6,318.2 118.4,318.5 119.1,318.2 119.6,318.3 120.0,318.4 120.2,317.8 120.7,318.5 121.2,318.7 121.3,318.3 122.1,318.8 122.6,318.4 122.7,318.4 123.1,318.1 124.0,317.7 124.4,318.4 124.6,318.0 125.0,318.3 125.3,318.6 126.0,318.5 126.1,318.2 126.7,318.1 126.9,317.9 127.3,318.0 127.5,318.5 128.1,318.1 128.7,318.1 128.7,318.5 129.5,318.4 129.9,317.5 130.1,317.7 130.7,318.4 131.0,318.1 131.2,318.0 131.7,318.4 132.4,318.0 132.5,319.1 132.8,319.0 133.0,319.0 133.0,319.9 133.3,320.0 133.2,321.1 133.5,322.1 133.7,320.9 133.7,321.6 133.8,321.8 134.1,323.7 134.3,321.4 134.3,322.9 134.8,321.5 134.7,324.3 134.8,324.5 135.2,324.2 135.4,325.6 135.8,325.4 135.6,326.7 135.8,325.5 136.2,327.5 136.2,328.0 136.6,327.5 137.0,328.3 137.1,327.4 137.1,327.6 137.3,328.8 137.4,329.9 137.9,330.6 138.2,327.3 139.0,329.2 139.1,329.0 139.2,328.1 139.6,326.4 140.1,327.3 139.8,327.8 140.8,327.0 140.8,326.3 142.0,328.8 142.2,327.2 142.2,327.1 142.8,329.8 143.3,329.0 143.7,327.5 143.8,328.7 144.1,328.7 144.7,328.5 144.9,328.0 145.6,328.7 146.0,329.6 146.1,328.9 146.4,330.8 146.5,329.8 147.3,330.5 147.4,330.3 147.8,330.9 148.2,328.7 149.0,330.6 149.0,329.9 149.7,329.3 150.2,329.1 150.6,330.5 151.0,331.1 151.4,331.1 152.0,331.6 152.3,331.3 152.6,331.4 153.0,331.9 153.2,331.9 154.0,331.2 154.4,330.8 154.7,331.1 155.1,333.2 155.3,330.9 156.0,335.5 156.4,332.0 156.8,331.5 157.1,332.4 157.4,333.0 158.0,332.4 158.4,336.1 158.8,331.8 159.2,331.2 159.4,332.9 160.1,333.2 160.3,331.5 161.1,331.0 161.1,331.2 161.6,330.9 162.2,331.4 162.4,330.9 162.9,331.6 163.1,330.9 163.6,331.7 163.5,330.3 163.9,329.6 163.6,328.9 164.2,328.0 164.3,329.2 164.6,329.3 164.4,326.3 164.5,327.1 164.5,326.3 164.8,325.9 164.5,326.7 164.7,325.6 164.5,324.3 164.6,324.4 164.6,325.3 164.6,326.2 164.7,323.9 164.8,322.9 164.3,324.1 164.7,324.0 164.8,324.3 164.9,320.9 164.7,321.3 164.5,321.2 164.7,319.9 164.6,320.1 165.0,318.3 165.2,319.1 165.1,319.7 164.9,318.4 164.7,316.7 165.0,318.2 165.1,317.6 165.0,317.9 165.1,316.1 164.9,314.7 164.8,315.1 165.0,315.1 165.0,314.6 165.2,316.1 165.2,313.8 164.9,314.6 165.4,314.2 165.1,313.2 165.3,313.3 165.4,313.5 165.3,311.2 165.0,311.5 165.1,311.0 165.3,311.8 165.6,310.1 165.4,310.3 165.1,308.8 165.6,309.6 165.5,307.8 165.6,310.1 165.5,308.2 165.6,308.1 165.4,308.3 165.5,306.3 165.5,307.4 165.5,304.2 165.9,303.0 165.7,305.9 165.5,304.7 165.6,304.5 165.7,303.4 165.5,303.4 165.9,303.8 166.5,302.3 166.9,302.4 167.3,301.1 167.5,301.5 167.8,300.2 168.5,301.5 168.7,301.4 169.2,299.3 169.7,301.1 169.6,302.5 170.3,303.2 170.9,302.3 171.1,302.5 171.5,302.7 171.8,302.4 172.2,304.0 173.0,303.9 172.7,303.8 173.3,303.5 173.8,303.7 173.9,303.8 174.3,302.3 174.6,301.2 174.8,305.6 175.3,301.8 175.7,303.1 175.7,301.1 176.5,302.0 176.9,301.9 177.2,300.4 177.4,302.2 178.0,302.4 178.4,300.0 178.9,300.5 179.1,301.2 179.6,298.0 180.1,301.4 180.3,301.0 180.8,301.3 181.6,304.0 181.6,301.4 182.3,301.7 182.7,300.8 183.1,301.6 183.4,302.0 183.8,303.7 184.1,302.2 184.7,302.1 185.2,301.4 185.8,302.7 186.0,302.8 186.5,306.1 186.8,302.6 187.7,301.5 187.9,304.6 188.0,301.7 188.6,300.1 189.3,301.0 189.5,301.3 189.6,301.6 190.5,301.2 190.6,301.6 191.1,301.9 191.5,300.3 191.9,299.4 192.8,302.0 192.9,301.5 193.3,301.4 193.9,301.1 194.1,301.4 194.4,302.4 195.0,301.9 195.3,299.8 196.0,300.8 196.3,302.3 196.7,299.3 197.3,297.5 197.6,299.7 197.8,301.7 198.6,300.3 199.1,299.1 199.1,300.0 199.4,301.9 199.6,302.0 199.9,301.2 200.0,301.5 200.6,300.7 200.6,302.4 200.8,303.5 201.3,302.4 201.5,302.3 201.6,304.9 202.1,303.1 202.1,303.8 202.6,304.0 202.7,305.3 202.9,305.5 203.1,305.4 203.4,305.6 203.7,306.3 203.8,307.0 204.5,306.8 204.7,306.3 205.2,307.4 205.3,306.9 205.6,306.5 206.0,304.9 206.6,306.0 206.7,305.5 207.3,303.9 207.5,305.1 207.7,304.4 208.1,303.8 208.4,304.3 208.7,304.1 209.1,302.6 209.4,303.3 209.8,303.8 210.0,303.4 210.4,302.7 210.9,301.7 211.2,302.1 211.3,301.7 211.8,302.5 212.7,302.2 212.9,301.7 213.3,301.3 213.8,301.3 214.0,302.1 214.4,301.4 214.8,300.8 215.5,300.8 215.6,300.7 216.4,299.6 216.5,300.8 217.0,301.6 216.9,300.7 217.5,300.9 217.8,304.4 217.9,302.9 218.4,302.7 218.7,302.7 218.9,303.4 218.9,306.7 219.3,303.4 219.5,305.0 219.8,305.6 219.9,304.9 220.2,304.5 220.6,307.6 220.4,305.8 221.0,306.4 220.9,304.7 221.5,309.3 221.7,306.6 221.8,308.6 222.2,307.9 222.2,308.8 222.3,310.3 222.7,309.2 222.9,310.3 223.2,309.1 223.8,309.1 223.9,310.1 224.5,310.3 224.7,310.7 225.5,309.5 225.7,309.7 226.1,309.0 226.4,309.5 226.9,310.8 227.4,308.2 227.8,309.0 228.1,307.2 228.6,307.5 229.0,306.6 229.4,306.5 229.7,307.9 230.2,304.4 230.2,307.9 230.7,305.6 231.3,305.8 231.7,306.8 231.9,304.4 232.1,306.8 232.6,305.9 232.8,305.8 233.4,304.2 233.9,304.0 234.4,304.5 234.6,304.4 234.9,304.1 235.3,304.0 235.7,306.8 236.2,303.6 236.6,303.4 237.0,302.0 237.3,306.3 237.9,303.0 238.2,304.0 238.8,303.0 239.1,302.9 239.7,302.8 239.8,302.7 240.4,303.5 241.1,303.2 241.2,304.3 241.6,303.7 242.0,302.3 243.0,303.9 242.8,303.7 243.3,303.1 243.9,302.1 243.8,303.0 244.7,302.8 245.0,303.6 245.5,302.2 245.8,302.4 246.1,303.3 246.6,302.0 247.1,303.4 247.4,303.7 248.0,303.9 248.2,302.3 249.1,302.8 249.0,304.5 249.8,302.7 250.1,302.4 250.4,304.6 250.7,302.6 251.3,302.6 251.6,304.4 252.0,302.4 252.3,303.5 252.8,304.3 253.1,304.9 253.9,304.0 254.2,306.1 254.3,304.2 254.7,305.7 255.3,304.3 255.7,304.7 256.4,305.4 256.4,304.9 256.8,304.6 257.2,306.1 257.6,303.4 258.5,304.8 258.6,304.6" fill="none" stroke="#00ff00" stroke-width="1.7" stroke-linejoin="round" stroke-linecap="round"/>
<polyline points="46.6,315.6 47.0,315.4 47.3,316.0 47.9,315.7 48.1,315.9 48.3,315.4 49.1,315.6 49.3,315.3 49.6,316.1 50.2,315.4 50.5,315.8 51.2,315.9 51.2,315.1 51.6,315.1 51.4,314.3 52.2,314.7 52.1,314.0 52.8,314.3 52.9,314.1 53.3,313.5 53.7,313.4 54.1,313.4 54.6,313.5 54.8,313.8 55.1,314.1 55.6,314.4 55.8,314.7 56.2,315.2 55.8,315.5 56.1,315.4 56.1,316.2 56.1,317.1 56.0,316.4 56.1,317.3 55.8,317.6 56.0,318.0 56.0,318.1 55.6,319.0 55.0,318.5 54.6,319.2 54.4,319.1 54.2,319.9 53.7,319.4 53.8,318.8 53.5,318.4 53.1,317.9 53.0,317.8 53.0,317.9 52.3,316.5 52.8,316.9 52.6,316.3 52.9,316.0 53.2,315.5 54.0,316.2 54.4,315.3 54.6,315.8 55.1,315.7 55.6,315.8 55.9,316.2 56.2,315.8 56.8,315.9 56.8,315.7 57.9,316.0 58.1,316.1 58.4,316.2 58.9,316.1 59.1,316.0 59.8,315.8 60.0,316.0 60.5,315.8 60.9,316.2 61.0,316.1 61.3,316.4 61.9,316.0 62.5,316.3 62.9,316.2 63.2,316.2 63.6,316.2 63.8,315.9 64.4,316.4 64.8,316.2 65.1,315.9 65.5,316.3 66.1,315.8 66.0,316.5 66.7,316.8 67.1,316.1 67.7,316.5 68.1,316.7 68.1,315.6 68.7,316.1 69.0,316.2 69.6,315.8 69.8,316.4 70.6,315.8 70.9,316.8 71.2,316.1 71.4,315.9 72.1,316.2 72.3,316.2 72.6,316.5 73.4,316.1 73.7,315.3 73.8,316.0 74.7,315.9 74.8,316.4 75.3,316.6 75.7,316.1 76.1,316.1 76.6,316.1 77.1,316.2 77.2,315.6 77.5,316.0 77.9,315.9 78.6,316.1 79.2,316.0 79.3,316.2 79.7,315.6 80.1,316.1 80.7,315.9 80.8,316.2 81.1,315.6 81.5,316.0 82.2,316.3 82.7,316.0 83.1,315.8 83.1,316.4 83.5,316.4 84.2,316.4 84.8,316.3 85.2,315.8 85.4,315.8 85.8,316.0 86.5,316.4 86.5,316.1 87.1,316.0 87.6,315.6 88.0,316.2 88.3,316.3 88.7,316.3 88.7,315.8 89.5,316.0 90.0,315.8 90.3,315.8 90.6,316.0 91.1,316.1 91.5,316.0 92.2,316.2 92.2,316.0 92.7,316.1 93.1,316.3 93.6,316.1 93.9,315.6 94.3,316.2 94.7,315.6 95.1,315.7 95.6,315.8 96.0,316.1 96.6,315.6 96.8,316.0 97.3,315.1 97.6,315.9 98.1,315.1 98.5,315.8 98.8,316.3 99.2,315.9 99.5,316.0 100.2,316.3 100.0,316.3 100.7,315.8 101.1,315.7 101.7,316.3 102.2,315.9 102.6,315.8 102.9,316.1 103.3,315.9 103.8,315.6 104.0,315.4 104.3,315.8 104.8,315.8 105.3,315.6 105.7,316.2 105.8,315.5 106.5,315.8 106.9,315.5 107.4,315.9 107.6,315.8 108.0,315.2 108.4,315.3 108.6,316.0 109.3,315.4 109.6,315.4 109.9,315.6 110.6,315.4 110.9,315.6 111.3,315.5 111.6,315.8 112.1,315.6 112.5,316.0 112.8,316.0 113.0,315.6 113.9,315.3 114.0,315.5 114.5,315.4 114.8,315.7 115.5,315.7 115.7,315.8 116.0,315.5 116.4,315.5 117.0,314.8 117.2,315.7 117.7,316.0 117.7,315.6 118.3,315.7 118.8,316.1 119.1,315.8 119.7,315.3 119.7,316.1 120.4,315.4 120.8,315.6 121.2,315.5 121.8,315.8 121.8,315.9 122.3,315.7 123.0,316.1 123.1,316.0 123.6,315.9 123.9,316.0 124.4,315.8 124.7,314.9 125.2,315.5 125.8,316.2 126.2,316.1 126.4,316.1 126.6,315.7 127.1,316.0 127.6,316.2 128.1,316.0 128.5,316.0 128.7,315.8 129.0,315.6 129.8,315.6 129.8,315.1 130.6,315.7 131.1,315.6 131.1,315.4 131.5,315.7 132.3,315.8 132.4,315.5 133.2,317.3 132.9,316.2 133.2,317.0 133.6,316.2 133.8,314.5 133.5,318.4 134.1,317.5 134.1,317.6 134.4,316.9 134.7,319.4 134.8,320.9 134.7,320.7 134.5,321.7 134.9,319.2 134.8,321.2 135.0,320.9 135.0,321.2 135.2,322.4 134.9,322.2 135.1,322.8 135.1,321.9 135.5,323.0 135.3,324.8 135.5,325.3 135.6,326.5 135.8,324.7 136.0,325.7 136.1,324.3 136.7,327.1 136.3,327.0 136.8,327.1 137.0,327.8 137.1,326.7 137.5,327.2 137.9,325.6 138.3,326.8 138.4,326.4 138.6,325.4 138.7,326.2 138.8,324.0 138.7,325.5 139.1,324.1 139.0,323.5 139.3,325.1 139.1,322.4 139.3,321.2 139.3,321.9 139.6,322.4 139.7,322.3 139.8,321.1 139.9,321.1 140.0,318.9 140.2,324.8 140.3,320.7 140.5,320.6 140.9,321.0 140.9,323.5 141.1,320.9 141.1,322.4 141.6,323.2 141.6,322.9 141.9,321.6 142.0,322.8 141.7,321.4 142.0,322.1 142.2,321.4 142.3,320.5 142.3,321.1 142.4,318.6 142.5,317.5 142.6,318.6 142.8,317.8 142.5,316.4 142.7,318.5 142.8,317.9 143.3,315.9 143.8,316.3 144.1,316.0 144.9,318.0 144.9,318.2 145.6,318.3 146.0,318.1 146.3,318.5 146.9,318.2 147.3,319.1 147.5,316.0 148.0,316.8 148.6,317.4 148.8,315.5 149.0,317.4 149.3,316.8 149.9,315.8 150.4,314.8 150.4,319.9 150.6,317.0 151.2,317.6 151.3,318.4 151.8,317.5 152.1,317.6 152.7,319.1 153.0,317.3 152.9,316.7 153.5,320.9 153.8,314.6 154.4,316.7 154.7,318.7 155.1,315.7 155.4,316.2 155.7,318.3 156.4,317.4 156.9,317.3 156.9,318.9 156.9,318.0 157.2,317.1 157.6,316.9 157.9,317.2 157.6,316.1 157.8,314.9 158.2,315.0 158.4,312.6 158.0,313.5 158.4,314.4 158.4,314.1 158.7,313.9 158.8,313.2 158.5,313.5 159.3,313.3 159.3,311.7 159.1,311.3 159.3,310.1 159.7,310.9 159.4,311.8 159.7,309.9 159.8,307.3 159.6,309.6 160.0,308.6 160.1,308.0 160.1,306.5 160.1,309.3 160.4,309.9 160.2,308.9 160.3,308.1 160.5,311.1 160.4,311.6 160.6,310.2 160.5,311.4 160.5,313.2 160.6,313.2 160.9,313.2 160.6,312.4 160.6,314.8 160.7,314.2 161.0,313.5 160.9,314.7 161.2,314.4 161.9,316.0 162.2,316.1 162.9,315.0 163.0,315.7 163.4,318.9 163.6,316.6 164.0,317.9 163.9,313.8 164.3,315.7 164.8,314.7 165.0,315.3 165.1,313.9 165.4,314.8 165.6,316.8 165.6,316.2 165.8,317.7 165.9,315.5 166.0,316.3 166.4,316.4 166.2,318.9 166.3,319.8 166.6,317.2 166.6,318.9 167.0,319.0 166.7,320.5 167.0,320.7 166.6,321.3 166.9,321.6 167.2,321.3 167.3,323.9 167.3,321.0 167.2,321.4 167.7,322.7 167.5,321.8 167.7,324.1 167.6,322.6 167.8,323.4 167.9,326.5 168.4,325.9 168.3,325.9 168.4,327.4 168.7,326.0 168.9,326.5 169.0,328.6 169.3,327.8 169.2,329.3 169.2,329.1 169.5,328.4 169.8,328.7 169.8,329.6 169.7,329.8 169.4,329.4 169.9,327.7 169.8,328.2 169.9,327.4 170.0,327.5 169.8,326.3 170.1,323.5 169.9,324.7 170.2,326.5 170.1,323.6 170.3,323.1 170.3,323.3 170.0,322.8 170.4,323.1 170.5,322.4 170.3,321.9 170.5,321.3 170.6,319.8 170.7,321.1 170.6,321.0 171.0,320.5 170.5,318.0 171.0,319.1 171.0,318.9 171.1,317.5 171.2,321.3 171.3,316.6 171.2,317.3 171.2,316.7 171.3,316.7 171.5,314.7 171.2,314.8 171.5,315.4 171.0,314.6 171.5,313.6 171.5,314.4 171.7,312.3 171.6,314.2 171.7,314.0 171.8,312.7 171.6,314.6 171.9,312.2 171.9,310.6 171.8,312.4 172.0,311.9 172.1,310.1 171.9,310.5 172.0,310.2 172.5,306.7 172.5,308.8 172.5,309.1 172.8,306.9 173.0,308.2 172.8,305.4 172.8,305.8 172.8,306.8 172.9,306.1 173.0,304.8 173.0,304.5 173.3,304.3 173.5,304.5 173.6,304.3 173.5,302.5 173.7,301.9 173.8,302.1 173.8,301.2 173.5,301.3 174.2,300.7 174.4,298.9 174.4,298.9 174.3,300.4 174.5,300.9 174.8,299.4 175.1,299.7 175.5,300.1 175.6,299.6 176.1,302.0 176.2,302.6 176.0,302.0 176.7,302.8 176.9,301.8 177.0,304.0 177.2,303.0 177.5,302.9 177.4,305.7 177.5,305.1 177.9,304.9 177.6,305.7 178.1,307.8 178.1,306.5 178.2,307.1 178.4,306.9 178.4,304.1 178.5,307.9 178.3,308.8 178.7,309.1 179.0,308.6 179.0,305.2 178.8,309.1 179.0,310.8 179.2,310.3 179.2,310.7 179.2,310.1 179.5,312.3 179.2,313.2 179.4,313.5 179.5,313.0 179.7,313.6 180.0,311.8 180.5,312.7 180.4,316.6 180.7,312.3 180.9,312.8 180.9,311.9 181.3,310.7 181.8,310.7 182.0,310.6 182.3,310.0 182.4,309.6 182.9,311.3 183.0,309.1 183.1,309.5 183.2,307.5 184.0,309.8 184.2,306.1 184.9,309.3 185.3,308.0 185.8,308.9 186.0,307.0 186.4,308.0 187.0,307.8 187.2,309.4 187.6,309.2 188.0,307.3 188.1,308.9 188.4,308.8 188.6,309.7 188.9,308.5 189.4,308.6 189.8,310.5 190.0,308.9 190.5,309.1 190.5,309.1 190.8,312.8 191.1,310.7 191.0,310.0 191.4,308.5 191.6,310.8 192.0,311.2 192.4,308.2 192.2,308.9 192.3,308.7 192.6,307.1 192.8,309.3 193.2,307.3 193.6,306.8 193.6,305.4 193.7,305.7 193.8,306.4 194.0,307.8 194.2,305.8 194.3,304.7 194.4,305.8 194.8,304.5 195.1,304.5 195.3,303.7 195.5,303.4 195.8,304.2 195.6,305.4 196.1,308.7 196.6,307.5 196.9,306.2 197.2,306.0 197.2,306.3 197.6,306.6 197.6,307.4 198.1,307.1 198.3,308.7 198.5,309.4 198.9,314.4 199.1,307.9 198.9,310.0 199.3,310.3 199.2,309.0 199.6,310.8 199.6,310.4 199.7,312.1 199.8,311.4 200.1,313.7 199.9,312.3 200.3,312.6 200.5,314.3 200.4,313.8 200.6,315.3 200.5,314.4 200.8,314.3 201.0,313.8 201.0,315.1 200.7,314.8 201.2,315.1 201.6,314.4 201.7,316.9 202.1,316.7 202.1,318.8 202.3,319.4 202.5,319.1 202.7,318.4 202.9,318.8 202.8,318.5 203.6,319.7 203.6,320.3 203.8,321.1 204.1,321.0 204.2,321.5 204.3,320.7 204.7,322.2 205.1,321.9 205.2,322.7 205.6,320.1 205.5,320.5 206.1,321.0 206.4,319.9 206.9,322.1 207.5,321.0 207.4,319.5 207.9,321.3 207.9,320.9 208.4,318.8 208.6,319.2 208.8,317.2 209.0,317.6 209.2,317.7 209.2,318.1 209.6,316.2 209.7,316.8 209.8,314.1 209.9,315.5 210.1,314.6 210.1,314.2 210.1,313.2 210.1,314.2 210.4,309.8 210.5,312.2 210.4,312.9 211.0,312.7 211.0,311.6 210.6,311.7 210.9,311.5 211.3,309.7 211.3,309.1 211.5,310.7 211.7,310.4 211.8,310.0 211.8,310.4 212.2,306.5 211.9,304.1 211.8,308.7 212.0,308.3 212.8,307.5 212.7,304.5 212.7,305.4 212.9,306.6 213.2,303.3 213.6,305.8 213.7,307.6 214.3,304.3 214.3,304.1 214.6,299.3 215.0,303.1 215.4,304.6 215.4,302.7 215.5,305.0 215.6,303.0 215.5,307.5 215.9,306.0 215.6,305.8 216.0,307.2 215.9,307.7 215.8,307.0 216.2,306.3 216.0,309.0 216.3,307.3 216.2,307.8 216.5,309.5 216.3,308.9 216.3,310.4 216.5,310.7 217.0,310.4 216.8,310.7 216.8,310.3 216.7,311.0 217.0,313.7 217.2,315.3 217.3,313.3 217.3,314.8 217.5,314.8 217.8,314.8 217.4,315.2 217.9,312.0 217.8,314.9 217.9,316.4 217.9,317.1 218.4,316.7 218.3,317.7 218.4,318.2 218.2,317.4 218.5,318.3 218.5,320.1 218.9,319.8 218.9,318.4 218.9,320.4 219.3,321.2 219.6,321.0 219.6,322.8 219.6,320.8 219.7,321.1 219.7,323.4 220.4,322.0 220.1,323.8 220.4,323.0 220.4,325.0 220.7,324.4 220.9,322.8 220.8,323.2 220.9,321.5 221.2,321.9 221.4,320.7 221.4,320.2 221.8,321.8 221.6,319.2 221.7,319.5 221.9,318.9 222.1,317.6 222.1,318.0 222.3,318.8 222.2,319.4 222.6,316.8 222.6,316.2 222.9,316.3 223.2,316.0 223.4,314.3 223.3,315.2 223.4,315.8 223.2,314.1 223.4,315.0 223.7,312.8 223.9,312.3 224.0,312.3 224.1,311.9 224.4,311.7 224.5,312.4 224.9,312.8 225.2,311.8 225.4,314.0 225.8,313.4 226.2,314.7 226.3,314.7 227.0,315.0 227.4,313.5 227.7,313.2 227.8,315.1 228.5,313.8 228.5,315.5 229.0,315.8 229.2,315.9 229.8,314.9 230.1,315.7 230.4,316.3 231.1,316.1 231.5,315.9 231.6,315.0 232.3,316.6 232.6,314.5 233.1,316.7 233.5,315.7 233.8,315.0 233.9,314.5 234.5,315.3 235.2,314.4 235.4,314.4 235.8,316.7 236.3,316.1 236.5,314.0 237.2,313.0 237.5,314.3 237.7,314.4 238.2,313.9 238.5,317.1 239.1,315.2 239.3,313.8 239.8,312.2 240.2,314.8 240.6,315.3 241.0,315.9 241.3,315.7 241.6,314.2 242.3,309.6 242.6,315.7 242.8,317.9 243.5,316.1 244.0,314.5 244.4,315.1 244.6,315.6 245.1,317.1 245.5,316.2 245.6,316.4 246.5,315.6 246.9,315.4 247.1,315.8 247.5,315.7 248.1,315.2 248.6,315.2 248.7,314.5 249.3,315.1 249.6,315.6 250.1,314.9 250.6,316.8 251.2,314.3 251.3,315.4 252.0,314.2 252.3,315.2 252.4,315.4 252.8,315.3 253.4,315.3 253.7,316.5 254.2,316.7 254.6,316.4 255.1,314.7 255.1,315.4 255.9,315.6 256.3,316.2 256.9,315.0 257.3,316.1" fill="none" stroke="#ff0000" stroke-width="1.6" stroke-linejoin="round" stroke-linecap="round"/>
<polyline points="289.5,311.1 289.7,310.5 290.0,310.8 290.7,311.0 290.8,311.8 291.5,312.3 291.9,312.3 292.2,311.2 292.5,311.0 293.0,311.3 293.5,311.5 293.9,312.2 294.1,312.1 294.4,310.8 294.9,307.8 295.3,313.3 295.7,311.7 296.3,314.4 296.5,313.0 297.4,311.0 297.4,311.6 298.0,311.9 298.3,312.7 298.3,312.3 299.2,313.3 299.7,314.5 299.7,313.7 300.1,314.5 300.7,312.3 300.8,314.6 301.5,314.3 301.8,314.1 302.3,313.4 302.7,313.5 303.2,313.4 303.7,311.4 303.9,311.0 304.1,311.7 304.5,311.1 304.5,311.7 304.7,311.4 305.1,310.3 305.2,310.9 305.5,309.4 305.8,308.6 306.0,310.3 306.0,310.8 306.2,310.1 306.5,315.4 306.6,311.9 306.8,312.0 306.9,310.9 307.2,312.6 307.1,313.0 307.3,312.0 307.3,314.1 307.3,313.6 307.9,308.7 307.9,315.1 308.0,315.8 308.5,314.8 308.8,317.8 308.9,315.3 309.6,315.6 310.1,316.4 310.3,316.2 310.7,316.5 311.2,317.2 311.3,316.2 311.5,315.7 311.5,319.1 311.7,318.4 311.5,318.6 311.7,319.2 311.8,318.2 311.9,318.4 312.0,320.1 311.6,320.0 312.2,320.6 312.1,320.2 312.2,321.7" fill="none" stroke="#0000ff" stroke-width="1.6" stroke-linejoin="round" stroke-linecap="round"/>
<polyline points="328.8,311.2 329.2,309.8 329.4,309.4 329.8,308.9 330.2,309.1 330.5,307.4 330.7,306.7 331.0,308.6 331.5,306.8 331.7,307.8 332.1,306.5 332.5,306.4 333.1,306.1 333.5,306.6 333.7,306.6 334.2,306.0" fill="none" stroke="#0000ff" stroke-width="1.6" stroke-linejoin="round" stroke-linecap="round"/>
<polyline points="345.5,304.1 345.9,306.9 346.1,306.8 346.3,304.7 346.7,306.3 347.4,307.3 347.4,307.0 347.8,308.7 347.9,308.7 348.0,309.0 348.3,309.6 348.2,309.3 348.2,310.1 348.4,312.7 348.5,310.5 348.3,311.4 348.7,313.9 348.7,311.6 349.0,312.4 348.9,311.8 349.2,312.8 349.3,315.0 349.5,313.9 349.7,315.3 350.0,314.6 349.8,315.0 350.4,315.9 350.7,314.3 351.1,315.3 351.4,314.2 351.7,314.4 352.3,315.8 352.4,315.2 353.0,315.6 353.0,317.4 353.5,313.7 353.6,316.3 353.8,316.8 354.0,316.5" fill="none" stroke="#0000ff" stroke-width="1.6" stroke-linejoin="round" stroke-linecap="round"/>
<polyline points="372.8,322.4 372.9,318.0 373.1,320.5 373.4,318.9 373.4,320.6 373.5,320.1 373.9,321.9 373.8,322.2 374.1,322.8 374.6,322.4 374.2,322.6 374.2,323.2 374.8,323.9 374.6,325.3 374.7,323.6 374.9,326.3 375.5,323.8 375.6,326.5 376.1,325.1 376.4,326.6 377.2,326.5 377.6,326.9 377.7,325.9 378.1,327.5 378.1,326.7 378.3,327.0 378.5,327.7 378.6,323.7 378.6,323.1 378.7,324.1 378.7,324.0 378.7,323.0 379.4,323.1 379.1,324.4 379.2,322.0 379.1,322.9 379.3,321.8 379.6,321.2 379.7,320.9 379.7,319.9 379.7,320.3 379.8,320.1 379.8,318.5 380.1,321.9 380.4,318.7 380.2,317.5 380.3,318.0 380.3,317.9 380.5,316.9 380.6,317.5 380.7,315.1 380.7,316.3 381.1,316.1 381.1,315.1 381.1,314.4 381.8,317.2 382.0,316.8 382.4,315.1 383.1,315.5 383.2,316.7 383.8,317.6 384.1,316.1 384.9,317.8 384.8,315.7 385.3,317.6 385.7,315.7 386.0,316.5 386.1,315.0 386.8,314.9 387.2,315.1 387.4,314.3 387.7,314.7 388.2,315.5 388.7,315.1 389.4,316.6 389.6,314.4" fill="none" stroke="#0000ff" stroke-width="1.6" stroke-linejoin="round" stroke-linecap="round"/>
<polyline points="398.7,324.0 399.0,318.8 399.6,322.4 399.7,319.6 400.1,319.6 400.8,320.9 400.9,317.6 401.5,318.3 401.8,316.8 402.3,317.8 402.2,317.2 402.6,318.8 403.2,317.7 403.5,317.8 403.9,315.4 404.5,311.9 405.2,318.3 405.7,317.3 406.1,316.9 406.3,317.4 406.9,313.8 407.5,318.7 407.9,316.4 407.9,319.4 408.3,317.9 408.9,319.5 409.3,319.7 409.7,317.8 410.1,318.8 410.5,320.1 410.7,321.1 411.2,319.6 411.5,319.4 412.1,321.3 412.6,320.4 412.6,320.7 412.8,320.4 413.2,319.8 413.5,320.8 414.0,319.3 414.1,319.3 414.3,318.5 414.7,317.5 414.9,318.9 415.4,317.7 415.6,318.0 416.0,315.4 416.2,317.3 416.6,317.2 416.8,315.9" fill="none" stroke="#0000ff" stroke-width="1.6" stroke-linejoin="round" stroke-linecap="round"/>
<polyline points="424.7,320.2 425.0,320.4 424.7,319.7 425.1,320.1 425.1,321.0 425.1,321.0 425.2,321.2 425.2,321.7 425.3,322.1 425.1,324.5 425.8,323.5 425.9,324.6 425.7,322.8 425.8,323.6 426.0,324.7 425.8,326.1 425.9,325.5 426.2,323.4 426.7,323.6 426.6,323.5 426.8,323.0 426.6,321.4 427.0,321.7 426.8,319.9 426.9,322.1 427.1,319.9 427.4,324.5 427.4,319.7 427.4,318.6 427.7,317.1 427.6,319.2 427.7,317.1 428.1,317.7 427.9,317.0 428.4,316.6 428.4,316.9 429.1,317.4 429.4,316.4 429.8,315.4 430.4,316.5 430.7,315.6 430.8,315.6 430.9,318.2 431.6,314.2 432.3,315.0 432.4,314.0 432.8,315.2 433.1,314.9 433.6,314.4 433.6,314.3 434.1,312.8 434.7,313.5 435.0,313.7" fill="none" stroke="#0000ff" stroke-width="1.6" stroke-linejoin="round" stroke-linecap="round"/>
<polyline points="441.8,316.0 441.8,316.5 442.6,317.4 443.0,315.5 443.2,316.5 443.3,315.4 443.7,317.2 444.4,316.5 444.7,315.5 445.0,315.4 445.0,314.3 445.3,314.8 446.2,315.3 446.4,308.7 446.8,314.4 447.5,314.6 447.8,313.3 448.2,313.4 448.5,313.8 449.1,314.6 449.5,313.6 449.8,313.2 449.9,313.7 450.7,313.5 451.1,314.5 451.7,314.9 451.9,313.0 452.4,309.2 452.8,315.2 453.1,313.5 453.6,315.0 454.0,315.6 454.4,315.1 454.7,315.3 455.2,314.3 455.6,315.4 456.1,314.1 456.7,314.8 457.1,313.3 457.3,315.8 457.9,314.7 458.3,314.9 458.7,315.2 458.9,316.2 459.5,315.2 459.6,313.3 460.5,315.0 460.7,309.9 461.1,314.4" fill="none" stroke="#0000ff" stroke-width="1.6" stroke-linejoin="round" stroke-linecap="round"/>
<polyline points="472.3,311.5 472.9,312.5 473.3,312.5 473.9,313.7 474.1,313.7 474.4,314.1 475.3,312.8 475.4,314.6 475.9,314.4 476.1,314.5 476.6,313.9 477.1,313.4 477.2,314.6 477.6,314.2 478.0,314.2 478.2,315.0 478.8,316.4 479.3,315.1 479.7,314.2 480.1,314.6 480.5,315.1 480.9,315.0 481.2,315.3 481.8,313.5 482.1,313.4 482.5,314.8 483.1,314.4 483.4,315.3 483.6,313.2 483.9,313.8 484.9,314.5 484.9,314.3 485.3,314.6 485.7,312.8 486.2,312.6 486.5,313.8 486.9,313.9 487.6,313.7 487.8,313.7 488.3,313.6 488.7,313.2 489.3,312.3 489.7,313.8 489.8,312.6 490.2,314.9 490.9,314.3 491.3,315.4 491.5,313.8 492.1,313.6 492.2,313.3 492.9,312.3 493.2,314.4 493.6,309.1 494.3,315.1 494.6,312.1 494.9,313.2 495.3,314.1 495.7,314.5 496.1,314.6 496.8,314.0 497.1,313.6 497.6,313.6 497.9,315.1 498.6,315.5 499.0,312.9 499.1,315.2 499.9,313.8 499.8,313.8 500.4,311.0 500.7,313.5 501.3,313.6 501.6,313.3 502.0,313.7" fill="none" stroke="#0000ff" stroke-width="1.6" stroke-linejoin="round" stroke-linecap="round"/>
<polyline points="288.9,325.6 289.9,325.7 290.0,325.8 290.6,326.9 291.3,324.7 291.3,326.6 291.7,326.2 292.4,328.1 292.9,325.9 293.1,325.6 293.6,325.3 294.2,325.3 294.6,326.1 295.2,320.6 295.6,326.4 295.8,327.1 296.4,325.5 296.9,325.8 297.1,324.4 297.4,325.4 297.9,324.4 298.5,324.9 298.9,324.9 299.1,325.6 299.6,324.8 299.9,324.6 300.2,324.3 300.4,324.1 300.9,324.5 301.0,325.8 301.2,326.7 301.7,325.1 301.7,326.7 302.0,325.5 302.4,328.1 303.1,329.3 303.1,327.1 303.5,328.9 303.7,328.6 304.1,328.7 304.2,328.6 304.2,327.8 304.6,328.9 304.9,330.5 305.3,329.7 305.3,330.2 305.4,331.1 305.6,330.7 305.8,332.4 305.9,331.6 306.3,331.9 306.2,332.3 305.8,330.5 305.9,330.9 306.1,331.3 306.4,329.6 306.3,328.6 306.0,329.1 306.1,328.6 306.4,329.5 306.4,326.9 306.3,328.1 306.5,327.7 306.5,328.4 306.5,325.7 306.6,326.9 306.5,325.6 306.3,326.5 306.6,324.1 306.9,323.0 306.6,323.5 306.6,322.5 306.7,324.7 306.7,322.6 307.0,321.6 306.6,321.1 306.8,321.2 306.6,320.6 306.8,318.5 306.9,321.7 307.1,320.3 307.3,319.8 306.8,319.0 306.7,318.5 307.1,319.8 307.2,317.6 306.9,318.8 307.5,316.4 307.2,315.7 307.5,315.8 307.3,315.9 307.5,320.3 307.5,315.9 307.5,315.4 307.7,315.3 307.6,315.0 307.8,312.7 307.7,311.7 307.7,312.9 307.7,311.1 307.5,311.1 307.5,311.1 307.7,310.0 307.8,312.1 307.8,310.9 307.7,310.7 307.6,308.9 308.0,308.5 307.8,309.6 308.1,308.4 307.8,307.5 307.7,306.8 308.0,306.5 307.8,303.3 307.9,305.5 307.8,305.9 308.1,305.9 308.5,305.9 308.5,305.3 308.6,303.0 308.8,302.9 308.8,298.6 308.8,302.1 308.9,303.5 309.4,297.8 309.2,300.7 309.8,301.0 309.5,300.0 309.8,300.9 309.9,300.6 310.1,298.5 310.1,299.3 311.1,299.4 311.1,301.8 311.7,301.3 311.6,300.6 312.1,301.5 312.2,301.8" fill="none" stroke="#00ff00" stroke-width="1.7" stroke-linejoin="round" stroke-linecap="round"/>
<polyline points="328.9,313.5 329.0,313.3 329.2,315.0 329.2,315.3 329.2,313.4 329.4,315.3 329.7,316.7 329.7,316.7 329.7,316.8 329.8,316.0 330.2,320.5 330.0,318.9 330.1,318.1 330.3,319.5 330.4,318.8 330.3,320.0 330.6,319.6 330.7,321.0 330.6,321.6 330.7,320.3 331.0,321.3 331.4,322.5 331.6,323.3 331.5,323.7 331.7,321.4 331.9,322.8 332.2,323.6 332.6,325.5 332.5,324.7 332.8,324.6 333.3,324.9 333.1,325.2 333.3,325.8 333.5,326.1 334.0,326.0 334.2,327.0" fill="none" stroke="#00ff00" stroke-width="1.7" stroke-linejoin="round" stroke-linecap="round"/>
<polyline points="345.9,319.0 345.6,318.9 345.7,319.1 345.8,318.2 346.0,320.0 345.8,321.5 346.1,321.4 345.8,323.1 346.2,321.3 346.1,322.0 346.1,322.9 346.0,323.6 345.9,321.6 346.1,324.1 346.2,323.9 346.3,321.4 346.1,328.9 346.1,326.5 346.4,327.0 346.1,322.3 346.3,325.4 346.0,327.3 346.4,327.7 346.4,328.4 346.7,327.8 346.5,329.1 346.7,330.2 346.5,328.8 346.5,329.7 346.8,329.7 346.9,329.2 347.0,331.2 346.8,330.9 346.9,329.5 346.8,327.9 346.7,330.0 346.9,329.3 347.0,327.7 347.2,330.6 347.5,328.0 347.2,327.9 347.5,327.7 347.3,325.8 347.6,325.5 347.2,325.7 347.4,326.2 347.6,322.3 347.6,324.6 347.6,323.4 348.0,323.2 347.6,323.3 347.8,322.8" fill="none" stroke="#00ff00" stroke-width="1.7" stroke-linejoin="round" stroke-linecap="round"/>
<polyline points="372.5,302.1 373.1,300.2 373.6,300.3 373.5,300.5 373.6,300.8 373.6,298.8 373.9,298.1 374.1,296.7 374.5,295.9 374.3,298.2 374.6,296.8 374.5,297.4 375.1,296.3 374.9,295.4 375.2,296.1 375.4,294.4 375.7,291.5 375.6,294.2 376.2,293.8 376.6,292.2 376.4,294.0 376.7,292.7 376.9,292.8 377.1,293.8 377.2,293.4 377.3,293.9 377.4,295.4 377.3,295.1 377.6,294.8 377.9,295.3 377.6,296.5 377.7,296.5 377.8,297.1 378.1,302.6 378.2,297.5 378.0,293.0 378.3,298.9 378.8,299.8 378.4,298.3 378.5,298.3 378.7,299.6 378.9,300.5 378.7,299.7 379.2,301.2 378.9,306.4 379.2,303.2 378.9,303.2 379.5,300.1 379.4,301.3 379.9,299.2 379.9,299.5 380.1,300.2 380.0,299.2 380.3,298.8 380.6,298.9 380.7,297.3 380.7,298.8 381.0,295.9 381.0,297.2 380.8,295.6 381.0,295.6 381.5,295.4 381.8,295.8 381.6,295.3 381.7,297.0 382.0,297.2 382.5,296.8 382.6,297.3 382.9,298.2 383.0,298.6 383.0,300.0 383.4,299.3 383.5,299.3 383.5,298.9 384.0,297.2 383.8,297.2 384.2,297.7 384.2,297.0 384.4,297.7 384.5,297.3 384.5,294.3 385.0,295.7 385.3,294.1 385.3,292.5 385.2,293.3 385.6,290.8 385.7,295.1 385.4,294.9 385.8,296.4 385.8,295.5 385.7,297.3 385.9,296.3 385.8,297.1 386.0,297.7 386.2,299.2 386.2,298.8 386.1,298.2 386.4,299.3 386.3,300.4 386.2,301.6 386.5,300.8 386.8,300.9 386.5,302.0 386.4,302.6 386.8,302.6 386.7,302.7 386.9,304.5 386.6,304.2 387.0,304.1 386.9,304.4 387.1,304.3 386.8,305.4 387.1,305.9 387.3,304.5 387.3,306.6 387.4,306.3 387.0,307.7 387.4,307.7 387.2,308.9 387.5,310.0 387.6,308.4 387.8,306.8 388.1,308.9 388.2,307.1 388.4,306.6 389.2,306.7 389.6,307.1" fill="none" stroke="#00ff00" stroke-width="1.7" stroke-linejoin="round" stroke-linecap="round"/>
<polyline points="398.6,304.9 399.0,300.1 399.5,300.2 400.0,299.0 400.1,300.6 400.6,301.1 401.0,300.0 401.5,301.3 401.7,299.8 402.3,298.9 402.9,302.8 403.4,301.1 403.8,300.9 404.0,302.1 404.5,300.8 404.9,301.7 405.6,300.7 406.1,301.1 406.3,301.8 406.5,301.6 407.3,302.5 407.6,301.6 408.4,301.5 408.4,304.3 409.0,301.5 409.9,303.1 410.1,302.9 410.3,302.5 411.0,304.3 411.6,304.6 411.6,303.5 412.3,304.0 412.6,304.4 413.4,304.9 413.8,303.9 414.0,302.9 414.3,305.0 415.0,304.5 415.4,303.3 415.9,303.9 416.0,302.9 416.8,304.6" fill="none" stroke="#00ff00" stroke-width="1.7" stroke-linejoin="round" stroke-linecap="round"/>
<polyline points="424.7,309.4 425.2,311.0 425.4,311.9 426.1,311.9 426.6,311.0 426.8,312.3 427.2,312.4 427.3,312.9 427.7,310.1 428.1,312.5 428.6,311.8 429.3,312.6 429.5,312.0 430.3,312.2 430.6,312.0 430.9,308.4 431.4,311.9 431.9,314.1 432.2,310.6 432.9,310.6 433.2,314.3 433.4,312.8 434.1,312.6 434.7,312.3 435.0,312.5" fill="none" stroke="#00ff00" stroke-width="1.7" stroke-linejoin="round" stroke-linecap="round"/>
<polyline points="441.6,322.2 441.9,323.3 443.0,324.5 443.1,322.0 443.7,329.4 444.1,322.8 444.3,323.8 444.7,324.0 445.2,323.3 445.5,323.4 446.1,324.2 446.4,321.1 447.0,324.8 447.4,325.0 447.9,325.0 448.3,323.9 448.5,323.9 448.9,325.0 449.7,324.0 449.9,325.4 450.5,324.2 450.8,324.9 451.1,326.5 451.3,325.0 451.1,323.3 451.2,324.1 451.3,323.6 451.6,323.3 451.5,321.8 451.5,321.9 451.7,319.9 451.7,321.9 451.6,319.6 452.1,320.3 451.9,319.6 452.2,320.6 452.4,319.5 452.5,318.9 453.0,317.7 453.2,318.3 453.6,317.8 454.1,317.9 454.6,317.7 454.8,318.5 455.2,318.2 455.5,316.0 455.6,317.1 456.2,318.1 456.5,316.4 457.1,317.6 457.5,317.6 457.8,316.2 458.2,316.8 458.5,316.1 459.2,317.1 459.6,315.5 459.8,317.7 460.5,317.0 460.6,315.5 461.1,317.1" fill="none" stroke="#00ff00" stroke-width="1.7" stroke-linejoin="round" stroke-linecap="round"/>
<polyline points="472.5,316.8 472.8,317.2 473.3,317.4 473.8,316.4 474.1,320.0 474.5,319.2 474.7,315.7 475.2,317.0 476.0,316.5 476.3,317.2 476.4,317.7 477.0,316.1 477.4,314.8 477.9,318.2 478.0,317.0 478.3,317.4 478.8,318.1 479.3,316.5 479.7,318.6 480.0,318.1 480.5,319.4 481.0,318.9 481.2,318.9 481.9,318.5 482.4,316.7 482.8,319.0 483.2,319.4 483.6,317.9 484.0,318.3 484.4,319.2 484.8,318.1 485.4,317.3 485.7,317.2 486.1,320.2 486.7,315.9 486.9,315.9 487.6,318.5 487.5,317.4 488.6,317.3 488.3,317.6 488.9,319.0 489.4,317.3 489.9,317.1 490.2,316.2 491.0,317.6 491.1,316.3 491.4,315.6 491.7,317.1 492.3,318.6 492.7,316.8 493.3,317.4 493.5,316.7 494.0,317.4 494.6,316.6 494.8,317.7 495.6,318.4 495.6,317.0 496.3,316.6 496.6,317.4 497.1,318.6 497.4,318.3 498.1,316.9 498.3,315.9 499.0,317.5 499.4,318.2 499.5,317.1 499.9,316.5 500.6,317.1 501.1,317.9 501.2,318.5 501.4,318.7 502.0,318.2" fill="none" stroke="#00ff00" stroke-width="1.7" stroke-linejoin="round" stroke-linecap="round"/>
<polyline points="289.1,318.3 289.5,315.6 289.9,317.6 290.1,317.5 290.7,316.5 291.0,317.3 291.4,318.8 291.5,319.6 292.0,318.4 292.2,318.0 292.6,318.7 293.0,318.0 293.4,320.0 293.8,320.5 294.7,320.1 294.7,319.6 294.9,319.9 295.4,319.9 296.1,321.2 296.1,320.3 296.5,320.4 297.3,319.5 297.7,319.3 298.0,319.8 298.4,320.9 298.8,320.8 299.2,319.5 299.9,321.4 300.4,322.4 300.7,320.7 301.2,321.7 301.4,322.8 301.8,319.1 302.3,320.7 302.8,324.9 302.9,322.6 302.9,322.8 302.9,322.4 303.0,323.8 303.0,323.9 303.4,323.7 303.1,324.1 303.3,324.1 303.7,325.5 303.6,324.8 303.9,326.3 303.6,326.2 304.0,327.1 303.9,326.2 304.1,327.3 304.1,324.5 304.7,325.0 304.6,325.0 304.4,325.2 304.6,322.8 305.0,326.2 304.8,323.3 305.5,323.4 305.3,324.2 305.7,323.5 305.4,323.0 305.8,321.0 305.9,319.8 305.9,321.8 305.8,321.5 306.0,319.9 306.0,319.2 306.0,319.5 306.0,319.4 306.2,318.6 306.5,318.7 306.2,317.8 306.2,317.4 306.1,316.9 306.4,317.0 306.1,315.6 306.7,315.7 306.1,313.3 306.3,314.2 306.3,317.5 306.6,313.0 306.6,314.4 306.4,313.5 306.7,311.7 306.5,310.6 306.7,312.1 306.7,311.8 306.7,309.7 306.4,310.0 306.9,309.4 306.6,309.5 306.9,308.5 306.8,307.7 306.9,308.5 307.2,308.0 307.4,304.9 307.2,305.1 307.1,307.0 307.2,309.0 307.4,307.1 307.1,305.4 307.4,304.6 307.1,305.6 307.4,304.1 307.4,304.5 307.3,302.8 307.3,302.5 307.1,301.2 307.6,302.5 307.6,300.6 307.4,300.3 307.6,299.8 307.7,301.0 307.7,299.2 307.5,300.8 307.9,300.6 307.6,299.9 307.6,297.3 307.9,297.5 308.0,298.2 308.0,296.3 307.9,296.5 307.8,297.1 308.5,294.9 308.8,297.3 309.3,298.0 309.6,297.5 310.3,297.9 310.4,297.9 311.0,297.3 311.2,299.5 311.3,299.7 311.3,298.3 311.2,298.9 311.3,299.9 311.7,299.4 311.6,300.9 311.5,294.4 311.5,301.0 311.8,301.8 311.9,292.6 311.9,301.1 312.2,303.2 312.2,306.7 312.2,303.3 312.2,303.2 312.1,304.9 312.1,306.0 312.1,297.3 312.2,306.1 312.1,310.7 312.3,309.7 312.5,306.2 312.3,307.1 312.5,308.1 312.2,307.2 312.8,308.4 312.5,308.0 312.6,308.0 312.4,308.6 312.6,310.4 312.4,310.4 312.5,309.6 312.6,311.8 312.5,312.7 312.4,309.4 312.4,312.1 312.5,312.5 312.7,313.2 312.3,313.3 312.8,312.3 312.9,314.2 312.4,314.7 312.3,315.7 312.4,315.4 312.5,316.0 312.4,315.7 313.0,317.4 312.6,315.0 312.6,317.9 312.6,317.2 312.6,317.8 312.9,318.2 312.8,319.2 312.7,318.7 313.0,319.2 312.7,319.0 312.9,319.4 313.0,316.5 313.1,324.4 312.7,318.6 312.9,325.6 313.0,323.3 312.7,323.9 313.2,324.8 312.9,323.6 312.7,325.9 313.0,325.0 313.2,325.5 313.0,326.9 313.0,324.9 313.1,326.9 312.7,326.1 313.0,328.7 312.7,327.6 313.1,329.3 313.3,329.6 313.2,330.0 312.9,328.6 313.1,329.4 313.1,328.8 313.1,332.2 313.2,330.9 312.6,330.5 313.1,331.4 313.5,332.8 313.1,335.0 313.2,333.6 313.2,333.2" fill="none" stroke="#ff0000" stroke-width="1.6" stroke-linejoin="round" stroke-linecap="round"/>
<polyline points="329.0,297.1 329.5,297.3 329.8,295.2 330.3,296.2 330.2,298.2 330.9,298.5 331.5,297.0 331.6,298.1 332.0,299.7 332.5,299.6 332.8,300.1 333.0,298.6 333.4,298.5 334.0,301.1 334.2,300.8" fill="none" stroke="#ff0000" stroke-width="1.6" stroke-linejoin="round" stroke-linecap="round"/>
<polyline points="346.0,296.2 345.6,296.9 345.9,298.5 346.4,297.8 346.5,298.0 346.5,298.4 346.8,299.7 347.0,300.8 347.0,298.6 347.0,299.6 347.4,299.4 347.6,299.9 347.5,302.7 347.8,303.0 347.9,301.4 348.2,302.9 348.7,299.6 348.9,300.4 349.1,300.2 349.5,301.8 350.1,299.6 350.2,299.7 350.6,298.0 350.8,298.9 351.1,297.4 351.5,297.3 351.8,298.6 352.3,298.4 352.6,297.5 352.9,297.0 353.1,297.8 353.2,298.4 353.7,298.3 353.5,297.5 353.5,300.1 353.5,300.9 353.4,301.4 353.7,301.1 353.4,302.1 353.7,302.3 353.9,302.1 353.9,302.7 354.0,302.9" fill="none" stroke="#ff0000" stroke-width="1.6" stroke-linejoin="round" stroke-linecap="round"/>
<polyline points="373.1,300.8 372.8,301.2 373.2,300.5 373.1,301.8 373.1,302.8 373.2,303.6 373.3,303.1 373.5,302.9 373.5,304.5 373.4,304.0 373.5,306.2 373.6,306.6 373.9,304.5 374.0,306.3 374.0,306.9 374.4,307.3 373.9,306.7 374.1,311.2 374.3,307.4 374.3,308.2 374.2,309.4 374.2,310.5 374.2,311.9 374.4,310.6 374.6,306.7 374.4,310.9 374.7,312.3 374.8,311.7 374.9,312.9 374.7,316.1 374.7,311.9 374.9,314.4 374.9,313.1 375.1,314.5 374.9,314.6 375.1,314.6 375.2,316.0 375.1,316.6 375.4,316.8 375.4,318.1 375.6,316.6 375.7,317.7 375.9,319.6 375.8,317.7 375.6,317.8 376.0,318.8 376.2,319.1 376.1,322.5 376.1,320.5 376.3,321.1 376.3,321.2 376.6,321.5 376.6,322.3 376.7,323.0 376.5,324.4 377.0,325.1 376.8,322.7 377.1,323.9 376.9,325.2 377.2,326.7 377.4,324.3 377.6,327.7 377.6,328.0 377.8,326.5 377.9,326.8 378.2,326.1 378.6,328.1 378.7,328.7 379.1,329.2 379.2,328.1 379.4,328.9 379.1,328.1 379.4,327.1 379.6,327.7 379.2,327.8 379.7,324.9 379.4,324.9 379.6,326.2 379.6,325.2 379.2,324.9 379.3,324.6 379.5,324.3 379.7,322.5 379.7,323.2 379.9,321.5 379.5,321.5 379.6,321.0 379.7,323.3 379.6,322.9 380.1,317.4 379.8,322.1 380.0,321.2 380.2,317.6 380.3,316.7 380.0,317.6 380.0,318.3 380.2,317.8 380.4,318.2 380.5,318.4 380.6,316.7 380.2,317.1 380.4,316.1 380.4,315.1 380.5,314.2 380.9,315.3 380.8,314.5 380.5,312.7 380.3,313.9 380.4,312.5 380.7,311.7 380.8,311.3 380.9,311.7 381.1,310.9 380.8,311.1 380.7,309.6 380.9,310.4 381.0,316.2 381.1,309.8 381.1,307.6 381.2,308.9 381.1,308.5 381.3,307.9 381.4,308.9 381.2,310.1 381.4,310.5 381.7,308.4 381.5,309.3 381.6,310.6 381.8,311.5 381.9,312.9 381.8,311.8 382.1,310.8 381.9,313.5 382.2,314.9 382.1,314.6 382.1,312.7 382.5,314.6 382.5,314.4 382.4,313.7 382.5,314.8 382.6,315.8 382.9,316.1 382.6,315.4 382.8,317.5 382.9,316.4 383.3,319.1 383.2,319.4 383.1,318.2 383.3,319.1 383.5,320.5 383.2,321.2 383.2,322.1 383.6,320.7 383.8,322.2 383.5,321.9 383.9,321.4 383.9,321.4 383.7,320.8 383.8,325.1 383.8,324.0 384.0,324.5 383.9,325.2 384.3,325.1 384.1,324.8 384.3,324.1 384.4,325.4 384.5,324.9 384.4,326.5 384.7,326.2 384.8,327.1 384.5,328.3 385.0,328.1 385.3,329.3 385.2,331.0 385.4,328.8 385.7,330.8 385.6,329.3 386.1,331.0 386.2,331.6 386.0,330.7 386.3,331.2 386.5,331.7 386.5,333.1 386.7,334.5 386.7,336.1 387.0,333.0 387.2,334.6 387.2,333.6 387.3,335.9 387.6,334.5 387.4,333.3 388.0,334.7 388.0,334.1 388.6,334.4 388.7,333.6 388.5,333.3 389.0,333.8 389.4,329.5 389.6,332.2" fill="none" stroke="#ff0000" stroke-width="1.6" stroke-linejoin="round" stroke-linecap="round"/>
<polyline points="385.2,323.3 384.9,325.7 384.9,324.6 385.3,324.5 385.4,326.5 385.5,325.6 385.5,325.6 385.8,327.4 385.7,328.9 385.8,326.2 385.9,326.5 386.3,328.2 386.1,327.7 386.5,322.7 386.3,331.0 386.6,329.0 386.9,331.0 386.8,331.8 386.8,331.3 387.0,334.0 387.1,332.0 386.9,333.4 387.4,332.8 387.6,333.5 388.0,333.7 388.5,335.0 388.5,334.2 388.8,334.2 389.4,335.1 389.5,335.3" fill="none" stroke="#ff0000" stroke-width="1.6" stroke-linejoin="round" stroke-linecap="round"/>
<polyline points="398.6,321.3 399.0,321.8 399.0,321.1 399.1,318.8 399.2,321.2 399.6,319.4 399.9,319.5 400.2,317.9 400.1,317.4 400.3,318.5 400.5,318.1 400.7,317.5 400.9,317.2 401.4,316.6 401.2,313.5 401.6,315.5 401.7,316.2 402.0,314.1 401.9,315.9 402.1,315.8 402.5,312.5 402.6,313.5 402.8,312.5 403.1,312.4 403.3,312.9 403.6,312.9 403.8,313.3 404.3,309.1 404.5,310.0 404.7,312.4 405.1,310.7 405.6,310.4 405.9,312.2 406.4,309.7 406.7,311.9 406.8,309.3 407.6,308.2 407.9,309.7 408.3,308.6 408.6,308.9 409.1,307.7 409.5,308.1 410.0,309.1 410.5,308.5 411.0,308.6 411.3,308.6 411.8,310.1 412.1,307.5 412.7,307.4 412.9,307.6 412.9,306.4 413.2,306.5 414.1,306.4 414.2,305.8 414.1,305.6 414.1,304.3 415.1,307.0 415.1,305.2 415.5,304.9 415.8,304.4 416.1,304.8 416.1,305.4 416.8,305.3 417.1,303.3 417.6,306.1 418.0,305.7" fill="none" stroke="#ff0000" stroke-width="1.6" stroke-linejoin="round" stroke-linecap="round"/>
<polyline points="424.7,296.2 425.0,295.3 425.3,296.1 425.6,295.7 426.2,296.6 426.6,294.8 427.1,295.0 427.5,297.2 427.8,296.3 428.3,293.2 428.8,296.5 429.1,299.0 429.7,297.6 430.0,297.9 430.6,297.4 430.8,297.7 431.6,297.4 431.8,296.9 432.1,298.7 432.7,300.0 433.3,297.2 433.6,298.4 434.3,299.1 434.6,299.1 435.0,298.9" fill="none" stroke="#ff0000" stroke-width="1.6" stroke-linejoin="round" stroke-linecap="round"/>
<polyline points="442.1,303.4 442.3,306.0 442.2,305.6 442.5,304.5 443.1,307.4 442.9,306.1 443.4,307.3 443.8,309.6 444.1,306.2 444.5,307.4 444.7,307.5 444.7,310.3 445.2,309.0 445.4,309.0 446.1,310.4 446.8,309.7 447.2,311.3 447.5,309.9 447.8,308.1 448.2,306.5 448.7,311.6 449.1,311.1 449.2,310.5 449.4,311.1 450.0,312.2 450.2,312.0 450.7,310.8 450.7,309.5 451.1,311.1 451.6,312.7 451.8,311.9 452.5,313.7 452.8,312.1 453.2,313.5 453.7,313.2 454.6,311.9 454.6,313.6 455.1,311.9 455.4,310.6 455.7,314.2 456.5,312.6 456.7,313.7 457.2,313.4 457.5,312.4 457.8,313.0 458.3,312.7 458.7,312.8 459.3,312.8 459.5,312.0 459.7,313.9 460.3,313.4 460.7,311.8 461.1,312.5" fill="none" stroke="#ff0000" stroke-width="1.6" stroke-linejoin="round" stroke-linecap="round"/>
<polyline points="472.9,312.3 473.1,312.8 473.2,313.0 473.9,312.5 474.2,313.8 474.4,314.2 474.7,312.8 475.3,314.0 475.9,312.8 476.1,314.0 476.6,317.5 477.1,314.3 477.2,313.3 477.9,314.7 478.2,312.1 478.5,309.5 479.2,314.0 479.4,312.9 479.7,314.7 480.2,314.1 480.5,314.3 480.7,309.2 481.4,313.6 481.7,314.8 482.1,314.2 482.7,314.3 483.2,315.1 483.8,315.5 483.9,315.3 484.3,316.6 484.9,314.1 485.0,315.0 485.6,317.9 485.8,315.8 486.3,315.5 486.9,315.8 487.4,316.4 487.9,316.1 488.0,316.7 488.6,316.3 488.8,314.8 489.4,312.5 490.0,315.3 490.4,315.3 490.5,317.1 491.0,314.2 491.6,314.9 491.6,317.2 492.4,315.7 492.7,315.1 493.5,314.1 493.6,315.2 494.0,316.0 494.5,314.6 495.0,314.4 495.2,313.9 495.5,313.4 496.2,313.8 496.4,312.0 497.1,312.7 497.3,313.5 497.6,313.5 498.0,312.5 498.2,312.2 498.9,312.2 499.1,316.0 499.4,312.0 499.8,313.7 500.3,314.2 500.9,313.2 501.0,313.1 501.3,314.2 502.0,313.7" fill="none" stroke="#ff0000" stroke-width="1.6" stroke-linejoin="round" stroke-linecap="round"/>
<line x1="46.6" y1="314.6" x2="260.5" y2="314.6" stroke="#222" stroke-width="1.1" opacity="0.85"/>
<line x1="289.2" y1="314.6" x2="503.0" y2="314.6" stroke="#222" stroke-width="1.1" opacity="0.85"/>
<line x1="133.7" y1="7" x2="133.7" y2="345.3" stroke="#222" stroke-width="1.1" stroke-dasharray="3.6 2.3 1 2.3" stroke-dashoffset="5.7"/>
<line x1="303.9" y1="7" x2="303.9" y2="345.3" stroke="#222" stroke-width="1.1" stroke-dasharray="3.6 2.3 1 2.3" stroke-dashoffset="5.7"/>
<line x1="451.8" y1="7" x2="451.8" y2="345.3" stroke="#222" stroke-width="1.1" stroke-dasharray="3.6 2.3 1 2.3" stroke-dashoffset="5.7"/>
<rect x="46.6" y="6.4" width="213.90" height="61.30" fill="none" stroke="#111" stroke-width="1.3"/>
<line x1="46.60" y1="6.4" x2="46.60" y2="3.2" stroke="#111" stroke-width="0.9"/>
<line x1="46.60" y1="67.7" x2="46.60" y2="70.9" stroke="#111" stroke-width="0.9"/>
<line x1="73.34" y1="6.4" x2="73.34" y2="4.4" stroke="#111" stroke-width="0.9"/>
<line x1="73.34" y1="67.7" x2="73.34" y2="69.7" stroke="#111" stroke-width="0.9"/>
<line x1="100.08" y1="6.4" x2="100.08" y2="3.2" stroke="#111" stroke-width="0.9"/>
<line x1="100.08" y1="67.7" x2="100.08" y2="70.9" stroke="#111" stroke-width="0.9"/>
<line x1="126.81" y1="6.4" x2="126.81" y2="4.4" stroke="#111" stroke-width="0.9"/>
<line x1="126.81" y1="67.7" x2="126.81" y2="69.7" stroke="#111" stroke-width="0.9"/>
<line x1="153.55" y1="6.4" x2="153.55" y2="3.2" stroke="#111" stroke-width="0.9"/>
<line x1="153.55" y1="67.7" x2="153.55" y2="70.9" stroke="#111" stroke-width="0.9"/>
<line x1="180.29" y1="6.4" x2="180.29" y2="4.4" stroke="#111" stroke-width="0.9"/>
<line x1="180.29" y1="67.7" x2="180.29" y2="69.7" stroke="#111" stroke-width="0.9"/>
<line x1="207.03" y1="6.4" x2="207.03" y2="3.2" stroke="#111" stroke-width="0.9"/>
<line x1="207.03" y1="67.7" x2="207.03" y2="70.9" stroke="#111" stroke-width="0.9"/>
<line x1="233.76" y1="6.4" x2="233.76" y2="4.4" stroke="#111" stroke-width="0.9"/>
<line x1="233.76" y1="67.7" x2="233.76" y2="69.7" stroke="#111" stroke-width="0.9"/>
<line x1="260.50" y1="6.4" x2="260.50" y2="3.2" stroke="#111" stroke-width="0.9"/>
<line x1="260.50" y1="67.7" x2="260.50" y2="70.9" stroke="#111" stroke-width="0.9"/>
<line x1="46.6" y1="67.70" x2="43.2" y2="67.70" stroke="#111" stroke-width="0.9"/>
<line x1="260.5" y1="67.70" x2="263.9" y2="67.70" stroke="#111" stroke-width="0.9"/>
<line x1="46.6" y1="52.38" x2="44.6" y2="52.38" stroke="#111" stroke-width="0.9"/>
<line x1="260.5" y1="52.38" x2="262.5" y2="52.38" stroke="#111" stroke-width="0.9"/>
<line x1="46.6" y1="37.05" x2="43.2" y2="37.05" stroke="#111" stroke-width="0.9"/>
<line x1="260.5" y1="37.05" x2="263.9" y2="37.05" stroke="#111" stroke-width="0.9"/>
<line x1="46.6" y1="21.73" x2="44.6" y2="21.73" stroke="#111" stroke-width="0.9"/>
<line x1="260.5" y1="21.73" x2="262.5" y2="21.73" stroke="#111" stroke-width="0.9"/>
<line x1="46.6" y1="6.40" x2="43.2" y2="6.40" stroke="#111" stroke-width="0.9"/>
<line x1="260.5" y1="6.40" x2="263.9" y2="6.40" stroke="#111" stroke-width="0.9"/>
<rect x="289.2" y="6.4" width="213.80" height="61.30" fill="none" stroke="#111" stroke-width="1.3"/>
<line x1="289.20" y1="6.4" x2="289.20" y2="3.2" stroke="#111" stroke-width="0.9"/>
<line x1="289.20" y1="67.7" x2="289.20" y2="70.9" stroke="#111" stroke-width="0.9"/>
<line x1="315.93" y1="6.4" x2="315.93" y2="4.4" stroke="#111" stroke-width="0.9"/>
<line x1="315.93" y1="67.7" x2="315.93" y2="69.7" stroke="#111" stroke-width="0.9"/>
<line x1="342.65" y1="6.4" x2="342.65" y2="3.2" stroke="#111" stroke-width="0.9"/>
<line x1="342.65" y1="67.7" x2="342.65" y2="70.9" stroke="#111" stroke-width="0.9"/>
<line x1="369.38" y1="6.4" x2="369.38" y2="4.4" stroke="#111" stroke-width="0.9"/>
<line x1="369.38" y1="67.7" x2="369.38" y2="69.7" stroke="#111" stroke-width="0.9"/>
<line x1="396.10" y1="6.4" x2="396.10" y2="3.2" stroke="#111" stroke-width="0.9"/>
<line x1="396.10" y1="67.7" x2="396.10" y2="70.9" stroke="#111" stroke-width="0.9"/>
<line x1="422.82" y1="6.4" x2="422.82" y2="4.4" stroke="#111" stroke-width="0.9"/>
<line x1="422.82" y1="67.7" x2="422.82" y2="69.7" stroke="#111" stroke-width="0.9"/>
<line x1="449.55" y1="6.4" x2="449.55" y2="3.2" stroke="#111" stroke-width="0.9"/>
<line x1="449.55" y1="67.7" x2="449.55" y2="70.9" stroke="#111" stroke-width="0.9"/>
<line x1="476.27" y1="6.4" x2="476.27" y2="4.4" stroke="#111" stroke-width="0.9"/>
<line x1="476.27" y1="67.7" x2="476.27" y2="69.7" stroke="#111" stroke-width="0.9"/>
<line x1="503.00" y1="6.4" x2="503.00" y2="3.2" stroke="#111" stroke-width="0.9"/>
<line x1="503.00" y1="67.7" x2="503.00" y2="70.9" stroke="#111" stroke-width="0.9"/>
<line x1="289.2" y1="67.70" x2="285.8" y2="67.70" stroke="#111" stroke-width="0.9"/>
<line x1="503.0" y1="67.70" x2="506.4" y2="67.70" stroke="#111" stroke-width="0.9"/>
<line x1="289.2" y1="52.38" x2="287.2" y2="52.38" stroke="#111" stroke-width="0.9"/>
<line x1="503.0" y1="52.38" x2="505.0" y2="52.38" stroke="#111" stroke-width="0.9"/>
<line x1="289.2" y1="37.05" x2="285.8" y2="37.05" stroke="#111" stroke-width="0.9"/>
<line x1="503.0" y1="37.05" x2="506.4" y2="37.05" stroke="#111" stroke-width="0.9"/>
<line x1="289.2" y1="21.73" x2="287.2" y2="21.73" stroke="#111" stroke-width="0.9"/>
<line x1="503.0" y1="21.73" x2="505.0" y2="21.73" stroke="#111" stroke-width="0.9"/>
<line x1="289.2" y1="6.40" x2="285.8" y2="6.40" stroke="#111" stroke-width="0.9"/>
<line x1="503.0" y1="6.40" x2="506.4" y2="6.40" stroke="#111" stroke-width="0.9"/>
<text x="41.800000000000004" y="70.40" text-anchor="end" font-family="Liberation Sans, sans-serif" stroke-width="0.15" font-size="9.8" fill="#1a1a1a" stroke="#1a1a1a">300</text>
<text x="41.800000000000004" y="39.75" text-anchor="end" font-family="Liberation Sans, sans-serif" stroke-width="0.15" font-size="9.8" fill="#1a1a1a" stroke="#1a1a1a">450</text>
<text x="41.800000000000004" y="9.10" text-anchor="end" font-family="Liberation Sans, sans-serif" stroke-width="0.15" font-size="9.8" fill="#1a1a1a" stroke="#1a1a1a">600</text>
<text x="508.4" y="70.40" text-anchor="start" font-family="Liberation Sans, sans-serif" stroke-width="0.15" font-size="9.8" fill="#1a1a1a" stroke="#1a1a1a">300</text>
<text x="508.4" y="39.75" text-anchor="start" font-family="Liberation Sans, sans-serif" stroke-width="0.15" font-size="9.8" fill="#1a1a1a" stroke="#1a1a1a">450</text>
<text x="508.4" y="9.10" text-anchor="start" font-family="Liberation Sans, sans-serif" stroke-width="0.15" font-size="9.8" fill="#1a1a1a" stroke="#1a1a1a">600</text>
<rect x="46.6" y="75.8" width="213.90" height="61.30" fill="none" stroke="#111" stroke-width="1.3"/>
<line x1="46.60" y1="75.8" x2="46.60" y2="72.6" stroke="#111" stroke-width="0.9"/>
<line x1="46.60" y1="137.1" x2="46.60" y2="140.29999999999998" stroke="#111" stroke-width="0.9"/>
<line x1="73.34" y1="75.8" x2="73.34" y2="73.8" stroke="#111" stroke-width="0.9"/>
<line x1="73.34" y1="137.1" x2="73.34" y2="139.1" stroke="#111" stroke-width="0.9"/>
<line x1="100.08" y1="75.8" x2="100.08" y2="72.6" stroke="#111" stroke-width="0.9"/>
<line x1="100.08" y1="137.1" x2="100.08" y2="140.29999999999998" stroke="#111" stroke-width="0.9"/>
<line x1="126.81" y1="75.8" x2="126.81" y2="73.8" stroke="#111" stroke-width="0.9"/>
<line x1="126.81" y1="137.1" x2="126.81" y2="139.1" stroke="#111" stroke-width="0.9"/>
<line x1="153.55" y1="75.8" x2="153.55" y2="72.6" stroke="#111" stroke-width="0.9"/>
<line x1="153.55" y1="137.1" x2="153.55" y2="140.29999999999998" stroke="#111" stroke-width="0.9"/>
<line x1="180.29" y1="75.8" x2="180.29" y2="73.8" stroke="#111" stroke-width="0.9"/>
<line x1="180.29" y1="137.1" x2="180.29" y2="139.1" stroke="#111" stroke-width="0.9"/>
<line x1="207.03" y1="75.8" x2="207.03" y2="72.6" stroke="#111" stroke-width="0.9"/>
<line x1="207.03" y1="137.1" x2="207.03" y2="140.29999999999998" stroke="#111" stroke-width="0.9"/>
<line x1="233.76" y1="75.8" x2="233.76" y2="73.8" stroke="#111" stroke-width="0.9"/>
<line x1="233.76" y1="137.1" x2="233.76" y2="139.1" stroke="#111" stroke-width="0.9"/>
<line x1="260.50" y1="75.8" x2="260.50" y2="72.6" stroke="#111" stroke-width="0.9"/>
<line x1="260.50" y1="137.1" x2="260.50" y2="140.29999999999998" stroke="#111" stroke-width="0.9"/>
<line x1="46.6" y1="137.10" x2="43.2" y2="137.10" stroke="#111" stroke-width="0.9"/>
<line x1="260.5" y1="137.10" x2="263.9" y2="137.10" stroke="#111" stroke-width="0.9"/>
<line x1="46.6" y1="121.77" x2="44.6" y2="121.77" stroke="#111" stroke-width="0.9"/>
<line x1="260.5" y1="121.77" x2="262.5" y2="121.77" stroke="#111" stroke-width="0.9"/>
<line x1="46.6" y1="106.45" x2="43.2" y2="106.45" stroke="#111" stroke-width="0.9"/>
<line x1="260.5" y1="106.45" x2="263.9" y2="106.45" stroke="#111" stroke-width="0.9"/>
<line x1="46.6" y1="91.12" x2="44.6" y2="91.12" stroke="#111" stroke-width="0.9"/>
<line x1="260.5" y1="91.12" x2="262.5" y2="91.12" stroke="#111" stroke-width="0.9"/>
<line x1="46.6" y1="75.80" x2="43.2" y2="75.80" stroke="#111" stroke-width="0.9"/>
<line x1="260.5" y1="75.80" x2="263.9" y2="75.80" stroke="#111" stroke-width="0.9"/>
<rect x="289.2" y="75.8" width="213.80" height="61.30" fill="none" stroke="#111" stroke-width="1.3"/>
<line x1="289.20" y1="75.8" x2="289.20" y2="72.6" stroke="#111" stroke-width="0.9"/>
<line x1="289.20" y1="137.1" x2="289.20" y2="140.29999999999998" stroke="#111" stroke-width="0.9"/>
<line x1="315.93" y1="75.8" x2="315.93" y2="73.8" stroke="#111" stroke-width="0.9"/>
<line x1="315.93" y1="137.1" x2="315.93" y2="139.1" stroke="#111" stroke-width="0.9"/>
<line x1="342.65" y1="75.8" x2="342.65" y2="72.6" stroke="#111" stroke-width="0.9"/>
<line x1="342.65" y1="137.1" x2="342.65" y2="140.29999999999998" stroke="#111" stroke-width="0.9"/>
<line x1="369.38" y1="75.8" x2="369.38" y2="73.8" stroke="#111" stroke-width="0.9"/>
<line x1="369.38" y1="137.1" x2="369.38" y2="139.1" stroke="#111" stroke-width="0.9"/>
<line x1="396.10" y1="75.8" x2="396.10" y2="72.6" stroke="#111" stroke-width="0.9"/>
<line x1="396.10" y1="137.1" x2="396.10" y2="140.29999999999998" stroke="#111" stroke-width="0.9"/>
<line x1="422.82" y1="75.8" x2="422.82" y2="73.8" stroke="#111" stroke-width="0.9"/>
<line x1="422.82" y1="137.1" x2="422.82" y2="139.1" stroke="#111" stroke-width="0.9"/>
<line x1="449.55" y1="75.8" x2="449.55" y2="72.6" stroke="#111" stroke-width="0.9"/>
<line x1="449.55" y1="137.1" x2="449.55" y2="140.29999999999998" stroke="#111" stroke-width="0.9"/>
<line x1="476.27" y1="75.8" x2="476.27" y2="73.8" stroke="#111" stroke-width="0.9"/>
<line x1="476.27" y1="137.1" x2="476.27" y2="139.1" stroke="#111" stroke-width="0.9"/>
<line x1="503.00" y1="75.8" x2="503.00" y2="72.6" stroke="#111" stroke-width="0.9"/>
<line x1="503.00" y1="137.1" x2="503.00" y2="140.29999999999998" stroke="#111" stroke-width="0.9"/>
<line x1="289.2" y1="137.10" x2="285.8" y2="137.10" stroke="#111" stroke-width="0.9"/>
<line x1="503.0" y1="137.10" x2="506.4" y2="137.10" stroke="#111" stroke-width="0.9"/>
<line x1="289.2" y1="121.77" x2="287.2" y2="121.77" stroke="#111" stroke-width="0.9"/>
<line x1="503.0" y1="121.77" x2="505.0" y2="121.77" stroke="#111" stroke-width="0.9"/>
<line x1="289.2" y1="106.45" x2="285.8" y2="106.45" stroke="#111" stroke-width="0.9"/>
<line x1="503.0" y1="106.45" x2="506.4" y2="106.45" stroke="#111" stroke-width="0.9"/>
<line x1="289.2" y1="91.12" x2="287.2" y2="91.12" stroke="#111" stroke-width="0.9"/>
<line x1="503.0" y1="91.12" x2="505.0" y2="91.12" stroke="#111" stroke-width="0.9"/>
<line x1="289.2" y1="75.80" x2="285.8" y2="75.80" stroke="#111" stroke-width="0.9"/>
<line x1="503.0" y1="75.80" x2="506.4" y2="75.80" stroke="#111" stroke-width="0.9"/>
<text x="41.800000000000004" y="139.80" text-anchor="end" font-family="Liberation Sans, sans-serif" stroke-width="0.15" font-size="9.8" fill="#1a1a1a" stroke="#1a1a1a">0</text>
<text x="41.800000000000004" y="109.15" text-anchor="end" font-family="Liberation Sans, sans-serif" stroke-width="0.15" font-size="9.8" fill="#1a1a1a" stroke="#1a1a1a">1</text>
<text x="41.800000000000004" y="78.50" text-anchor="end" font-family="Liberation Sans, sans-serif" stroke-width="0.15" font-size="9.8" fill="#1a1a1a" stroke="#1a1a1a">2</text>
<text x="508.4" y="139.80" text-anchor="start" font-family="Liberation Sans, sans-serif" stroke-width="0.15" font-size="9.8" fill="#1a1a1a" stroke="#1a1a1a">0.0</text>
<text x="508.4" y="109.15" text-anchor="start" font-family="Liberation Sans, sans-serif" stroke-width="0.15" font-size="9.8" fill="#1a1a1a" stroke="#1a1a1a">0.6</text>
<text x="508.4" y="78.50" text-anchor="start" font-family="Liberation Sans, sans-serif" stroke-width="0.15" font-size="9.8" fill="#1a1a1a" stroke="#1a1a1a">1.2</text>
<rect x="46.6" y="145.2" width="213.90" height="61.30" fill="none" stroke="#111" stroke-width="1.3"/>
<line x1="46.60" y1="145.2" x2="46.60" y2="142.0" stroke="#111" stroke-width="0.9"/>
<line x1="46.60" y1="206.5" x2="46.60" y2="209.7" stroke="#111" stroke-width="0.9"/>
<line x1="73.34" y1="145.2" x2="73.34" y2="143.2" stroke="#111" stroke-width="0.9"/>
<line x1="73.34" y1="206.5" x2="73.34" y2="208.5" stroke="#111" stroke-width="0.9"/>
<line x1="100.08" y1="145.2" x2="100.08" y2="142.0" stroke="#111" stroke-width="0.9"/>
<line x1="100.08" y1="206.5" x2="100.08" y2="209.7" stroke="#111" stroke-width="0.9"/>
<line x1="126.81" y1="145.2" x2="126.81" y2="143.2" stroke="#111" stroke-width="0.9"/>
<line x1="126.81" y1="206.5" x2="126.81" y2="208.5" stroke="#111" stroke-width="0.9"/>
<line x1="153.55" y1="145.2" x2="153.55" y2="142.0" stroke="#111" stroke-width="0.9"/>
<line x1="153.55" y1="206.5" x2="153.55" y2="209.7" stroke="#111" stroke-width="0.9"/>
<line x1="180.29" y1="145.2" x2="180.29" y2="143.2" stroke="#111" stroke-width="0.9"/>
<line x1="180.29" y1="206.5" x2="180.29" y2="208.5" stroke="#111" stroke-width="0.9"/>
<line x1="207.03" y1="145.2" x2="207.03" y2="142.0" stroke="#111" stroke-width="0.9"/>
<line x1="207.03" y1="206.5" x2="207.03" y2="209.7" stroke="#111" stroke-width="0.9"/>
<line x1="233.76" y1="145.2" x2="233.76" y2="143.2" stroke="#111" stroke-width="0.9"/>
<line x1="233.76" y1="206.5" x2="233.76" y2="208.5" stroke="#111" stroke-width="0.9"/>
<line x1="260.50" y1="145.2" x2="260.50" y2="142.0" stroke="#111" stroke-width="0.9"/>
<line x1="260.50" y1="206.5" x2="260.50" y2="209.7" stroke="#111" stroke-width="0.9"/>
<line x1="46.6" y1="206.50" x2="43.2" y2="206.50" stroke="#111" stroke-width="0.9"/>
<line x1="260.5" y1="206.50" x2="263.9" y2="206.50" stroke="#111" stroke-width="0.9"/>
<line x1="46.6" y1="191.18" x2="44.6" y2="191.18" stroke="#111" stroke-width="0.9"/>
<line x1="260.5" y1="191.18" x2="262.5" y2="191.18" stroke="#111" stroke-width="0.9"/>
<line x1="46.6" y1="175.85" x2="43.2" y2="175.85" stroke="#111" stroke-width="0.9"/>
<line x1="260.5" y1="175.85" x2="263.9" y2="175.85" stroke="#111" stroke-width="0.9"/>
<line x1="46.6" y1="160.52" x2="44.6" y2="160.52" stroke="#111" stroke-width="0.9"/>
<line x1="260.5" y1="160.52" x2="262.5" y2="160.52" stroke="#111" stroke-width="0.9"/>
<line x1="46.6" y1="145.20" x2="43.2" y2="145.20" stroke="#111" stroke-width="0.9"/>
<line x1="260.5" y1="145.20" x2="263.9" y2="145.20" stroke="#111" stroke-width="0.9"/>
<rect x="289.2" y="145.2" width="213.80" height="61.30" fill="none" stroke="#111" stroke-width="1.3"/>
<line x1="289.20" y1="145.2" x2="289.20" y2="142.0" stroke="#111" stroke-width="0.9"/>
<line x1="289.20" y1="206.5" x2="289.20" y2="209.7" stroke="#111" stroke-width="0.9"/>
<line x1="315.93" y1="145.2" x2="315.93" y2="143.2" stroke="#111" stroke-width="0.9"/>
<line x1="315.93" y1="206.5" x2="315.93" y2="208.5" stroke="#111" stroke-width="0.9"/>
<line x1="342.65" y1="145.2" x2="342.65" y2="142.0" stroke="#111" stroke-width="0.9"/>
<line x1="342.65" y1="206.5" x2="342.65" y2="209.7" stroke="#111" stroke-width="0.9"/>
<line x1="369.38" y1="145.2" x2="369.38" y2="143.2" stroke="#111" stroke-width="0.9"/>
<line x1="369.38" y1="206.5" x2="369.38" y2="208.5" stroke="#111" stroke-width="0.9"/>
<line x1="396.10" y1="145.2" x2="396.10" y2="142.0" stroke="#111" stroke-width="0.9"/>
<line x1="396.10" y1="206.5" x2="396.10" y2="209.7" stroke="#111" stroke-width="0.9"/>
<line x1="422.82" y1="145.2" x2="422.82" y2="143.2" stroke="#111" stroke-width="0.9"/>
<line x1="422.82" y1="206.5" x2="422.82" y2="208.5" stroke="#111" stroke-width="0.9"/>
<line x1="449.55" y1="145.2" x2="449.55" y2="142.0" stroke="#111" stroke-width="0.9"/>
<line x1="449.55" y1="206.5" x2="449.55" y2="209.7" stroke="#111" stroke-width="0.9"/>
<line x1="476.27" y1="145.2" x2="476.27" y2="143.2" stroke="#111" stroke-width="0.9"/>
<line x1="476.27" y1="206.5" x2="476.27" y2="208.5" stroke="#111" stroke-width="0.9"/>
<line x1="503.00" y1="145.2" x2="503.00" y2="142.0" stroke="#111" stroke-width="0.9"/>
<line x1="503.00" y1="206.5" x2="503.00" y2="209.7" stroke="#111" stroke-width="0.9"/>
<line x1="289.2" y1="206.50" x2="285.8" y2="206.50" stroke="#111" stroke-width="0.9"/>
<line x1="503.0" y1="206.50" x2="506.4" y2="206.50" stroke="#111" stroke-width="0.9"/>
<line x1="289.2" y1="191.18" x2="287.2" y2="191.18" stroke="#111" stroke-width="0.9"/>
<line x1="503.0" y1="191.18" x2="505.0" y2="191.18" stroke="#111" stroke-width="0.9"/>
<line x1="289.2" y1="175.85" x2="285.8" y2="175.85" stroke="#111" stroke-width="0.9"/>
<line x1="503.0" y1="175.85" x2="506.4" y2="175.85" stroke="#111" stroke-width="0.9"/>
<line x1="289.2" y1="160.52" x2="287.2" y2="160.52" stroke="#111" stroke-width="0.9"/>
<line x1="503.0" y1="160.52" x2="505.0" y2="160.52" stroke="#111" stroke-width="0.9"/>
<line x1="289.2" y1="145.20" x2="285.8" y2="145.20" stroke="#111" stroke-width="0.9"/>
<line x1="503.0" y1="145.20" x2="506.4" y2="145.20" stroke="#111" stroke-width="0.9"/>
<text x="41.800000000000004" y="209.20" text-anchor="end" font-family="Liberation Sans, sans-serif" stroke-width="0.15" font-size="9.8" fill="#1a1a1a" stroke="#1a1a1a">0</text>
<text x="41.800000000000004" y="178.55" text-anchor="end" font-family="Liberation Sans, sans-serif" stroke-width="0.15" font-size="9.8" fill="#1a1a1a" stroke="#1a1a1a">1</text>
<text x="41.800000000000004" y="147.90" text-anchor="end" font-family="Liberation Sans, sans-serif" stroke-width="0.15" font-size="9.8" fill="#1a1a1a" stroke="#1a1a1a">2</text>
<text x="508.4" y="209.20" text-anchor="start" font-family="Liberation Sans, sans-serif" stroke-width="0.15" font-size="9.8" fill="#1a1a1a" stroke="#1a1a1a">0.0</text>
<text x="508.4" y="178.55" text-anchor="start" font-family="Liberation Sans, sans-serif" stroke-width="0.15" font-size="9.8" fill="#1a1a1a" stroke="#1a1a1a">1.5</text>
<text x="508.4" y="147.90" text-anchor="start" font-family="Liberation Sans, sans-serif" stroke-width="0.15" font-size="9.8" fill="#1a1a1a" stroke="#1a1a1a">3.0</text>
<rect x="46.6" y="214.6" width="213.90" height="61.30" fill="none" stroke="#111" stroke-width="1.3"/>
<line x1="46.60" y1="214.6" x2="46.60" y2="211.4" stroke="#111" stroke-width="0.9"/>
<line x1="46.60" y1="275.9" x2="46.60" y2="279.09999999999997" stroke="#111" stroke-width="0.9"/>
<line x1="73.34" y1="214.6" x2="73.34" y2="212.6" stroke="#111" stroke-width="0.9"/>
<line x1="73.34" y1="275.9" x2="73.34" y2="277.9" stroke="#111" stroke-width="0.9"/>
<line x1="100.08" y1="214.6" x2="100.08" y2="211.4" stroke="#111" stroke-width="0.9"/>
<line x1="100.08" y1="275.9" x2="100.08" y2="279.09999999999997" stroke="#111" stroke-width="0.9"/>
<line x1="126.81" y1="214.6" x2="126.81" y2="212.6" stroke="#111" stroke-width="0.9"/>
<line x1="126.81" y1="275.9" x2="126.81" y2="277.9" stroke="#111" stroke-width="0.9"/>
<line x1="153.55" y1="214.6" x2="153.55" y2="211.4" stroke="#111" stroke-width="0.9"/>
<line x1="153.55" y1="275.9" x2="153.55" y2="279.09999999999997" stroke="#111" stroke-width="0.9"/>
<line x1="180.29" y1="214.6" x2="180.29" y2="212.6" stroke="#111" stroke-width="0.9"/>
<line x1="180.29" y1="275.9" x2="180.29" y2="277.9" stroke="#111" stroke-width="0.9"/>
<line x1="207.03" y1="214.6" x2="207.03" y2="211.4" stroke="#111" stroke-width="0.9"/>
<line x1="207.03" y1="275.9" x2="207.03" y2="279.09999999999997" stroke="#111" stroke-width="0.9"/>
<line x1="233.76" y1="214.6" x2="233.76" y2="212.6" stroke="#111" stroke-width="0.9"/>
<line x1="233.76" y1="275.9" x2="233.76" y2="277.9" stroke="#111" stroke-width="0.9"/>
<line x1="260.50" y1="214.6" x2="260.50" y2="211.4" stroke="#111" stroke-width="0.9"/>
<line x1="260.50" y1="275.9" x2="260.50" y2="279.09999999999997" stroke="#111" stroke-width="0.9"/>
<line x1="46.6" y1="275.90" x2="43.2" y2="275.90" stroke="#111" stroke-width="0.9"/>
<line x1="260.5" y1="275.90" x2="263.9" y2="275.90" stroke="#111" stroke-width="0.9"/>
<line x1="46.6" y1="260.57" x2="44.6" y2="260.57" stroke="#111" stroke-width="0.9"/>
<line x1="260.5" y1="260.57" x2="262.5" y2="260.57" stroke="#111" stroke-width="0.9"/>
<line x1="46.6" y1="245.25" x2="43.2" y2="245.25" stroke="#111" stroke-width="0.9"/>
<line x1="260.5" y1="245.25" x2="263.9" y2="245.25" stroke="#111" stroke-width="0.9"/>
<line x1="46.6" y1="229.92" x2="44.6" y2="229.92" stroke="#111" stroke-width="0.9"/>
<line x1="260.5" y1="229.92" x2="262.5" y2="229.92" stroke="#111" stroke-width="0.9"/>
<line x1="46.6" y1="214.60" x2="43.2" y2="214.60" stroke="#111" stroke-width="0.9"/>
<line x1="260.5" y1="214.60" x2="263.9" y2="214.60" stroke="#111" stroke-width="0.9"/>
<rect x="289.2" y="214.6" width="213.80" height="61.30" fill="none" stroke="#111" stroke-width="1.3"/>
<line x1="289.20" y1="214.6" x2="289.20" y2="211.4" stroke="#111" stroke-width="0.9"/>
<line x1="289.20" y1="275.9" x2="289.20" y2="279.09999999999997" stroke="#111" stroke-width="0.9"/>
<line x1="315.93" y1="214.6" x2="315.93" y2="212.6" stroke="#111" stroke-width="0.9"/>
<line x1="315.93" y1="275.9" x2="315.93" y2="277.9" stroke="#111" stroke-width="0.9"/>
<line x1="342.65" y1="214.6" x2="342.65" y2="211.4" stroke="#111" stroke-width="0.9"/>
<line x1="342.65" y1="275.9" x2="342.65" y2="279.09999999999997" stroke="#111" stroke-width="0.9"/>
<line x1="369.38" y1="214.6" x2="369.38" y2="212.6" stroke="#111" stroke-width="0.9"/>
<line x1="369.38" y1="275.9" x2="369.38" y2="277.9" stroke="#111" stroke-width="0.9"/>
<line x1="396.10" y1="214.6" x2="396.10" y2="211.4" stroke="#111" stroke-width="0.9"/>
<line x1="396.10" y1="275.9" x2="396.10" y2="279.09999999999997" stroke="#111" stroke-width="0.9"/>
<line x1="422.82" y1="214.6" x2="422.82" y2="212.6" stroke="#111" stroke-width="0.9"/>
<line x1="422.82" y1="275.9" x2="422.82" y2="277.9" stroke="#111" stroke-width="0.9"/>
<line x1="449.55" y1="214.6" x2="449.55" y2="211.4" stroke="#111" stroke-width="0.9"/>
<line x1="449.55" y1="275.9" x2="449.55" y2="279.09999999999997" stroke="#111" stroke-width="0.9"/>
<line x1="476.27" y1="214.6" x2="476.27" y2="212.6" stroke="#111" stroke-width="0.9"/>
<line x1="476.27" y1="275.9" x2="476.27" y2="277.9" stroke="#111" stroke-width="0.9"/>
<line x1="503.00" y1="214.6" x2="503.00" y2="211.4" stroke="#111" stroke-width="0.9"/>
<line x1="503.00" y1="275.9" x2="503.00" y2="279.09999999999997" stroke="#111" stroke-width="0.9"/>
<line x1="289.2" y1="275.90" x2="285.8" y2="275.90" stroke="#111" stroke-width="0.9"/>
<line x1="503.0" y1="275.90" x2="506.4" y2="275.90" stroke="#111" stroke-width="0.9"/>
<line x1="289.2" y1="260.57" x2="287.2" y2="260.57" stroke="#111" stroke-width="0.9"/>
<line x1="503.0" y1="260.57" x2="505.0" y2="260.57" stroke="#111" stroke-width="0.9"/>
<line x1="289.2" y1="245.25" x2="285.8" y2="245.25" stroke="#111" stroke-width="0.9"/>
<line x1="503.0" y1="245.25" x2="506.4" y2="245.25" stroke="#111" stroke-width="0.9"/>
<line x1="289.2" y1="229.92" x2="287.2" y2="229.92" stroke="#111" stroke-width="0.9"/>
<line x1="503.0" y1="229.92" x2="505.0" y2="229.92" stroke="#111" stroke-width="0.9"/>
<line x1="289.2" y1="214.60" x2="285.8" y2="214.60" stroke="#111" stroke-width="0.9"/>
<line x1="503.0" y1="214.60" x2="506.4" y2="214.60" stroke="#111" stroke-width="0.9"/>
<text x="41.800000000000004" y="278.60" text-anchor="end" font-family="Liberation Sans, sans-serif" stroke-width="0.15" font-size="9.8" fill="#1a1a1a" stroke="#1a1a1a">0</text>
<text x="41.800000000000004" y="247.95" text-anchor="end" font-family="Liberation Sans, sans-serif" stroke-width="0.15" font-size="9.8" fill="#1a1a1a" stroke="#1a1a1a">2</text>
<text x="41.800000000000004" y="217.30" text-anchor="end" font-family="Liberation Sans, sans-serif" stroke-width="0.15" font-size="9.8" fill="#1a1a1a" stroke="#1a1a1a">4</text>
<text x="508.4" y="278.60" text-anchor="start" font-family="Liberation Sans, sans-serif" stroke-width="0.15" font-size="9.8" fill="#1a1a1a" stroke="#1a1a1a">0</text>
<text x="508.4" y="247.95" text-anchor="start" font-family="Liberation Sans, sans-serif" stroke-width="0.15" font-size="9.8" fill="#1a1a1a" stroke="#1a1a1a">2</text>
<text x="508.4" y="217.30" text-anchor="start" font-family="Liberation Sans, sans-serif" stroke-width="0.15" font-size="9.8" fill="#1a1a1a" stroke="#1a1a1a">4</text>
<rect x="46.6" y="284.0" width="213.90" height="61.30" fill="none" stroke="#111" stroke-width="1.3"/>
<line x1="46.60" y1="284.0" x2="46.60" y2="280.8" stroke="#111" stroke-width="0.9"/>
<line x1="46.60" y1="345.3" x2="46.60" y2="348.5" stroke="#111" stroke-width="0.9"/>
<line x1="73.34" y1="284.0" x2="73.34" y2="282.0" stroke="#111" stroke-width="0.9"/>
<line x1="73.34" y1="345.3" x2="73.34" y2="347.3" stroke="#111" stroke-width="0.9"/>
<line x1="100.08" y1="284.0" x2="100.08" y2="280.8" stroke="#111" stroke-width="0.9"/>
<line x1="100.08" y1="345.3" x2="100.08" y2="348.5" stroke="#111" stroke-width="0.9"/>
<line x1="126.81" y1="284.0" x2="126.81" y2="282.0" stroke="#111" stroke-width="0.9"/>
<line x1="126.81" y1="345.3" x2="126.81" y2="347.3" stroke="#111" stroke-width="0.9"/>
<line x1="153.55" y1="284.0" x2="153.55" y2="280.8" stroke="#111" stroke-width="0.9"/>
<line x1="153.55" y1="345.3" x2="153.55" y2="348.5" stroke="#111" stroke-width="0.9"/>
<line x1="180.29" y1="284.0" x2="180.29" y2="282.0" stroke="#111" stroke-width="0.9"/>
<line x1="180.29" y1="345.3" x2="180.29" y2="347.3" stroke="#111" stroke-width="0.9"/>
<line x1="207.03" y1="284.0" x2="207.03" y2="280.8" stroke="#111" stroke-width="0.9"/>
<line x1="207.03" y1="345.3" x2="207.03" y2="348.5" stroke="#111" stroke-width="0.9"/>
<line x1="233.76" y1="284.0" x2="233.76" y2="282.0" stroke="#111" stroke-width="0.9"/>
<line x1="233.76" y1="345.3" x2="233.76" y2="347.3" stroke="#111" stroke-width="0.9"/>
<line x1="260.50" y1="284.0" x2="260.50" y2="280.8" stroke="#111" stroke-width="0.9"/>
<line x1="260.50" y1="345.3" x2="260.50" y2="348.5" stroke="#111" stroke-width="0.9"/>
<line x1="46.6" y1="345.30" x2="43.2" y2="345.30" stroke="#111" stroke-width="0.9"/>
<line x1="260.5" y1="345.30" x2="263.9" y2="345.30" stroke="#111" stroke-width="0.9"/>
<line x1="46.6" y1="329.98" x2="44.6" y2="329.98" stroke="#111" stroke-width="0.9"/>
<line x1="260.5" y1="329.98" x2="262.5" y2="329.98" stroke="#111" stroke-width="0.9"/>
<line x1="46.6" y1="314.65" x2="43.2" y2="314.65" stroke="#111" stroke-width="0.9"/>
<line x1="260.5" y1="314.65" x2="263.9" y2="314.65" stroke="#111" stroke-width="0.9"/>
<line x1="46.6" y1="299.32" x2="44.6" y2="299.32" stroke="#111" stroke-width="0.9"/>
<line x1="260.5" y1="299.32" x2="262.5" y2="299.32" stroke="#111" stroke-width="0.9"/>
<line x1="46.6" y1="284.00" x2="43.2" y2="284.00" stroke="#111" stroke-width="0.9"/>
<line x1="260.5" y1="284.00" x2="263.9" y2="284.00" stroke="#111" stroke-width="0.9"/>
<rect x="289.2" y="284.0" width="213.80" height="61.30" fill="none" stroke="#111" stroke-width="1.3"/>
<line x1="289.20" y1="284.0" x2="289.20" y2="280.8" stroke="#111" stroke-width="0.9"/>
<line x1="289.20" y1="345.3" x2="289.20" y2="348.5" stroke="#111" stroke-width="0.9"/>
<line x1="315.93" y1="284.0" x2="315.93" y2="282.0" stroke="#111" stroke-width="0.9"/>
<line x1="315.93" y1="345.3" x2="315.93" y2="347.3" stroke="#111" stroke-width="0.9"/>
<line x1="342.65" y1="284.0" x2="342.65" y2="280.8" stroke="#111" stroke-width="0.9"/>
<line x1="342.65" y1="345.3" x2="342.65" y2="348.5" stroke="#111" stroke-width="0.9"/>
<line x1="369.38" y1="284.0" x2="369.38" y2="282.0" stroke="#111" stroke-width="0.9"/>
<line x1="369.38" y1="345.3" x2="369.38" y2="347.3" stroke="#111" stroke-width="0.9"/>
<line x1="396.10" y1="284.0" x2="396.10" y2="280.8" stroke="#111" stroke-width="0.9"/>
<line x1="396.10" y1="345.3" x2="396.10" y2="348.5" stroke="#111" stroke-width="0.9"/>
<line x1="422.82" y1="284.0" x2="422.82" y2="282.0" stroke="#111" stroke-width="0.9"/>
<line x1="422.82" y1="345.3" x2="422.82" y2="347.3" stroke="#111" stroke-width="0.9"/>
<line x1="449.55" y1="284.0" x2="449.55" y2="280.8" stroke="#111" stroke-width="0.9"/>
<line x1="449.55" y1="345.3" x2="449.55" y2="348.5" stroke="#111" stroke-width="0.9"/>
<line x1="476.27" y1="284.0" x2="476.27" y2="282.0" stroke="#111" stroke-width="0.9"/>
<line x1="476.27" y1="345.3" x2="476.27" y2="347.3" stroke="#111" stroke-width="0.9"/>
<line x1="503.00" y1="284.0" x2="503.00" y2="280.8" stroke="#111" stroke-width="0.9"/>
<line x1="503.00" y1="345.3" x2="503.00" y2="348.5" stroke="#111" stroke-width="0.9"/>
<line x1="289.2" y1="345.30" x2="285.8" y2="345.30" stroke="#111" stroke-width="0.9"/>
<line x1="503.0" y1="345.30" x2="506.4" y2="345.30" stroke="#111" stroke-width="0.9"/>
<line x1="289.2" y1="329.98" x2="287.2" y2="329.98" stroke="#111" stroke-width="0.9"/>
<line x1="503.0" y1="329.98" x2="505.0" y2="329.98" stroke="#111" stroke-width="0.9"/>
<line x1="289.2" y1="314.65" x2="285.8" y2="314.65" stroke="#111" stroke-width="0.9"/>
<line x1="503.0" y1="314.65" x2="506.4" y2="314.65" stroke="#111" stroke-width="0.9"/>
<line x1="289.2" y1="299.32" x2="287.2" y2="299.32" stroke="#111" stroke-width="0.9"/>
<line x1="503.0" y1="299.32" x2="505.0" y2="299.32" stroke="#111" stroke-width="0.9"/>
<line x1="289.2" y1="284.00" x2="285.8" y2="284.00" stroke="#111" stroke-width="0.9"/>
<line x1="503.0" y1="284.00" x2="506.4" y2="284.00" stroke="#111" stroke-width="0.9"/>
<text x="41.800000000000004" y="348.00" text-anchor="end" font-family="Liberation Sans, sans-serif" stroke-width="0.15" font-size="9.8" fill="#1a1a1a" stroke="#1a1a1a">-4</text>
<text x="41.800000000000004" y="317.35" text-anchor="end" font-family="Liberation Sans, sans-serif" stroke-width="0.15" font-size="9.8" fill="#1a1a1a" stroke="#1a1a1a">0</text>
<text x="41.800000000000004" y="286.70" text-anchor="end" font-family="Liberation Sans, sans-serif" stroke-width="0.15" font-size="9.8" fill="#1a1a1a" stroke="#1a1a1a">4</text>
<text x="508.4" y="348.00" text-anchor="start" font-family="Liberation Sans, sans-serif" stroke-width="0.15" font-size="9.8" fill="#1a1a1a" stroke="#1a1a1a">-4</text>
<text x="508.4" y="317.35" text-anchor="start" font-family="Liberation Sans, sans-serif" stroke-width="0.15" font-size="9.8" fill="#1a1a1a" stroke="#1a1a1a">0</text>
<text x="508.4" y="286.70" text-anchor="start" font-family="Liberation Sans, sans-serif" stroke-width="0.15" font-size="9.8" fill="#1a1a1a" stroke="#1a1a1a">4</text>
<text x="46.60" y="357.7" text-anchor="middle" font-family="Liberation Sans, sans-serif" stroke-width="0.15" font-size="9.8" fill="#1a1a1a" stroke="#1a1a1a">12</text>
<text x="289.20" y="357.7" text-anchor="middle" font-family="Liberation Sans, sans-serif" stroke-width="0.15" font-size="9.8" fill="#1a1a1a" stroke="#1a1a1a">178</text>
<text x="100.08" y="357.7" text-anchor="middle" font-family="Liberation Sans, sans-serif" stroke-width="0.15" font-size="9.8" fill="#1a1a1a" stroke="#1a1a1a">13</text>
<text x="342.65" y="357.7" text-anchor="middle" font-family="Liberation Sans, sans-serif" stroke-width="0.15" font-size="9.8" fill="#1a1a1a" stroke="#1a1a1a">179</text>
<text x="153.55" y="357.7" text-anchor="middle" font-family="Liberation Sans, sans-serif" stroke-width="0.15" font-size="9.8" fill="#1a1a1a" stroke="#1a1a1a">14</text>
<text x="396.10" y="357.7" text-anchor="middle" font-family="Liberation Sans, sans-serif" stroke-width="0.15" font-size="9.8" fill="#1a1a1a" stroke="#1a1a1a">180</text>
<text x="207.03" y="357.7" text-anchor="middle" font-family="Liberation Sans, sans-serif" stroke-width="0.15" font-size="9.8" fill="#1a1a1a" stroke="#1a1a1a">15</text>
<text x="449.55" y="357.7" text-anchor="middle" font-family="Liberation Sans, sans-serif" stroke-width="0.15" font-size="9.8" fill="#1a1a1a" stroke="#1a1a1a">181</text>
<text x="260.50" y="357.7" text-anchor="middle" font-family="Liberation Sans, sans-serif" stroke-width="0.15" font-size="9.8" fill="#1a1a1a" stroke="#1a1a1a">16</text>
<text x="503.00" y="357.7" text-anchor="middle" font-family="Liberation Sans, sans-serif" stroke-width="0.15" font-size="9.8" fill="#1a1a1a" stroke="#1a1a1a">182</text>
<text x="153.4" y="376" text-anchor="middle" font-family="Liberation Sans, sans-serif" stroke-width="0.15" font-size="11.2" fill="#1a1a1a" stroke="#1a1a1a">Day of year 1979 (UT)</text>
<text x="398" y="376" text-anchor="middle" font-family="Liberation Sans, sans-serif" stroke-width="0.15" font-size="11.2" fill="#1a1a1a" stroke="#1a1a1a">Day of year 1980 (UT)</text>
<text transform="translate(12.3,67.2) rotate(-90)" text-anchor="start" font-family="Liberation Sans, sans-serif" stroke-width="0.15" font-size="11.5" fill="#1a1a1a" stroke="#1a1a1a"><tspan font-size="11.5" dy="0">V</tspan><tspan font-size="7.2" dy="4.8">sw</tspan><tspan font-size="11.5" dy="-4.8"> (km s</tspan><tspan font-size="7.2" dy="-5.0">-1</tspan><tspan font-size="11.5" dy="5.0">)</tspan></text>
<text transform="translate(544.2,67.80000000000001) rotate(-90)" text-anchor="start" font-family="Liberation Sans, sans-serif" stroke-width="0.15" font-size="11.5" fill="#1a1a1a" stroke="#1a1a1a"><tspan font-size="11.5" dy="0">V</tspan><tspan font-size="7.2" dy="4.8">sw</tspan><tspan font-size="11.5" dy="-4.8"> (km s</tspan><tspan font-size="7.2" dy="-5.0">-1</tspan><tspan font-size="11.5" dy="5.0">)</tspan></text>
<text transform="translate(12.3,126.2) rotate(-90)" text-anchor="start" font-family="Liberation Sans, sans-serif" stroke-width="0.15" font-size="11.5" fill="#1a1a1a" stroke="#1a1a1a"><tspan font-size="11.5" dy="0">N</tspan><tspan font-size="7.2" dy="4.8">sw</tspan><tspan font-size="11.5" dy="-4.8"> (cm</tspan><tspan font-size="7.2" dy="-5.0">-3</tspan><tspan font-size="11.5" dy="5.0">)</tspan></text>
<text transform="translate(544.2,127.30000000000001) rotate(-90)" text-anchor="start" font-family="Liberation Sans, sans-serif" stroke-width="0.15" font-size="11.5" fill="#1a1a1a" stroke="#1a1a1a"><tspan font-size="11.5" dy="0">N</tspan><tspan font-size="7.2" dy="4.8">sw</tspan><tspan font-size="11.5" dy="-4.8"> (cm</tspan><tspan font-size="7.2" dy="-5.0">-3</tspan><tspan font-size="11.5" dy="5.0">)</tspan></text>
<text transform="translate(12.3,205.0) rotate(-90)" text-anchor="start" font-family="Liberation Sans, sans-serif" stroke-width="0.15" font-size="11.5" fill="#1a1a1a" stroke="#1a1a1a"><tspan font-size="11.5" dy="0">T</tspan><tspan font-size="7.2" dy="4.8">sw</tspan><tspan font-size="11.5" dy="-4.8"> (10</tspan><tspan font-size="7.2" dy="-5.0">5</tspan><tspan font-size="11.5" dy="5.0"> K)</tspan></text>
<text transform="translate(544.2,199.70000000000002) rotate(-90)" text-anchor="start" font-family="Liberation Sans, sans-serif" stroke-width="0.15" font-size="11.5" fill="#1a1a1a" stroke="#1a1a1a"><tspan font-size="11.5" dy="0">T</tspan><tspan font-size="7.2" dy="4.8">sw</tspan><tspan font-size="11.5" dy="-4.8"> (10</tspan><tspan font-size="7.2" dy="-5.0">5</tspan><tspan font-size="11.5" dy="5.0"> K)</tspan></text>
<text transform="translate(12.3,266.0) rotate(-90)" text-anchor="start" font-family="Liberation Sans, sans-serif" stroke-width="0.15" font-size="11.5" fill="#1a1a1a" stroke="#1a1a1a"><tspan font-size="11.5" dy="0">B</tspan><tspan font-size="7.2" dy="6.0">0</tspan><tspan font-size="11.5" dy="-6.0"> (nT)</tspan></text>
<text transform="translate(544.2,255.0) rotate(-90)" text-anchor="start" font-family="Liberation Sans, sans-serif" stroke-width="0.15" font-size="11.5" fill="#1a1a1a" stroke="#1a1a1a"><tspan font-size="11.5" dy="0">B</tspan><tspan font-size="7.2" dy="6.0">0</tspan><tspan font-size="11.5" dy="-6.0"> (nT)</tspan></text>
<text transform="translate(12.3,333.8) rotate(-90)" text-anchor="start" font-family="Liberation Sans, sans-serif" stroke-width="0.15" font-size="11.5" fill="#1a1a1a" stroke="#1a1a1a"><tspan font-size="11.5" dy="0">IMF (nT)</tspan></text>
<text transform="translate(544.2,333.59999999999997) rotate(-90)" text-anchor="start" font-family="Liberation Sans, sans-serif" stroke-width="0.15" font-size="11.5" fill="#1a1a1a" stroke="#1a1a1a"><tspan font-size="11.5" dy="0">IMF (nT)</tspan></text>
<text x="53.5" y="60.2" font-family="Liberation Sans, sans-serif" stroke-width="0.15" font-size="11.25" fill="#1a1a1a" stroke="#1a1a1a">Voyager 1 (R<tspan font-size="6.2" dx="0.2" dy="4.0">h</tspan><tspan dy="-4.0"> ~4.96 au)</tspan></text>
<text x="294.5" y="60.0" font-family="Liberation Sans, sans-serif" stroke-width="0.15" font-size="11.25" fill="#1a1a1a" stroke="#1a1a1a">Voyager 1 (R<tspan font-size="6.2" dx="0.2" dy="4.0">h</tspan><tspan dy="-4.0"> ~8.30 au)</tspan></text>
<text x="52.1" y="298.2" font-family="Liberation Sans, sans-serif" stroke-width="0.15" font-size="11.5" fill="#0000ee" stroke="#0000ee">B<tspan font-size="6.4" dx="-0.4" dy="4.4">R</tspan></text>
<text x="71.2" y="298.2" font-family="Liberation Sans, sans-serif" stroke-width="0.15" font-size="11.5" fill="#00dd00" stroke="#00dd00">B<tspan font-size="6.4" dx="-0.4" dy="4.4">T</tspan></text>
<text x="89.4" y="298.2" font-family="Liberation Sans, sans-serif" stroke-width="0.15" font-size="11.5" fill="#ee0000" stroke="#ee0000">B<tspan font-size="6.4" dx="-0.4" dy="4.4">N</tspan></text>
<line x1="133.8" y1="3.6" x2="142" y2="3.6" stroke="#00e600" stroke-width="5" stroke-linecap="round"/>
<line x1="145" y1="3.6" x2="166" y2="3.6" stroke="#ff0000" stroke-width="5" stroke-linecap="round"/>
<line x1="304.7" y1="3.5" x2="450.8" y2="3.5" stroke="#0000ff" stroke-width="5" stroke-linecap="round"/>
</svg>
</body></html>
